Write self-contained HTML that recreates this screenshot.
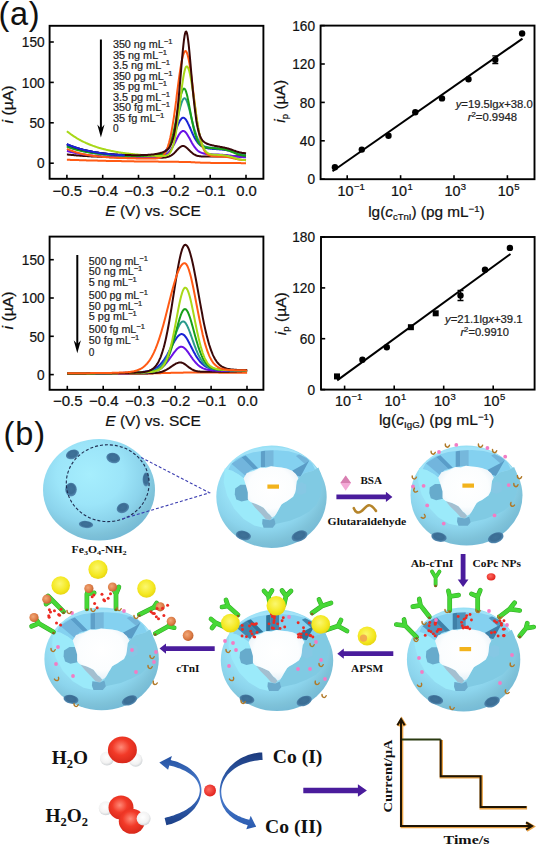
<!DOCTYPE html>
<html><head><meta charset="utf-8"><title>figure</title>
<style>html,body{margin:0;padding:0;background:#fff;} body{width:550px;height:852px;overflow:hidden;font-family:"Liberation Sans",sans-serif;} svg{display:block;}</style>
</head><body>
<svg width="550" height="852" viewBox="0 0 550 852">
<rect width="550" height="852" fill="#fff"/>
<defs>
<radialGradient id="sph" cx="0.42" cy="0.35" r="0.66">
  <stop offset="0" stop-color="#a6eefd"/><stop offset="0.45" stop-color="#9ce5f9"/><stop offset="0.72" stop-color="#8cd4ec"/><stop offset="0.9" stop-color="#7ec2d9"/><stop offset="1" stop-color="#76bbd6"/>
</radialGradient>
<radialGradient id="cav" cx="0.5" cy="0.42" r="0.62">
  <stop offset="0" stop-color="#ffffff"/><stop offset="0.65" stop-color="#fbfdfe"/><stop offset="1" stop-color="#e2eef5"/>
</radialGradient>
<radialGradient id="hole" cx="0.5" cy="0.45" r="0.6">
  <stop offset="0" stop-color="#3f7299"/><stop offset="0.55" stop-color="#3b6d94"/><stop offset="0.85" stop-color="#5288b0"/><stop offset="1" stop-color="#6a9ec2"/>
</radialGradient>
<radialGradient id="yb" cx="0.45" cy="0.4" r="0.6">
  <stop offset="0" stop-color="#fbf770"/><stop offset="0.7" stop-color="#f4e820"/><stop offset="1" stop-color="#e8d612"/>
</radialGradient>
<radialGradient id="bd" cx="0.4" cy="0.4" r="0.6">
  <stop offset="0" stop-color="#f2a878"/><stop offset="0.7" stop-color="#dc7c46"/><stop offset="1" stop-color="#c46432"/>
</radialGradient>
<radialGradient id="ox" cx="0.45" cy="0.4" r="0.6">
  <stop offset="0" stop-color="#ff8a78"/><stop offset="0.5" stop-color="#f23a28"/><stop offset="1" stop-color="#d8281a"/>
</radialGradient>
<radialGradient id="hy" cx="0.45" cy="0.4" r="0.6">
  <stop offset="0" stop-color="#ffffff"/><stop offset="0.7" stop-color="#f2f2f2"/><stop offset="1" stop-color="#cfd3d6"/>
</radialGradient>
<radialGradient id="rd" cx="0.4" cy="0.4" r="0.6">
  <stop offset="0" stop-color="#ff6a60"/><stop offset="1" stop-color="#e2231d"/>
</radialGradient>
</defs>
<ellipse cx="99" cy="489.7" rx="56" ry="50.8" fill="url(#sph)"/>
<ellipse cx="72.5" cy="454.4" rx="6.8" ry="4.6" transform="rotate(-20 72.5 454.4)" fill="url(#hole)"/>
<ellipse cx="113.2" cy="458" rx="7" ry="5.2" transform="rotate(15 113.2 458)" fill="url(#hole)"/>
<ellipse cx="146" cy="479.6" rx="3.4" ry="7" transform="rotate(0 146 479.6)" fill="url(#hole)"/>
<ellipse cx="71" cy="489.6" rx="5.8" ry="6.8" transform="rotate(0 71 489.6)" fill="url(#hole)"/>
<ellipse cx="122.9" cy="508" rx="6.4" ry="5.0" transform="rotate(-25 122.9 508)" fill="url(#hole)"/>
<ellipse cx="86" cy="524.5" rx="7.2" ry="3.6" transform="rotate(5 86 524.5)" fill="url(#hole)"/>
<ellipse cx="107.7" cy="483.2" rx="41.4" ry="38.4" fill="none" stroke="#1f2c50" stroke-width="1.1" stroke-dasharray="3 2"/>
<path d="M141,457.4 L209.5,492.8 L121,519.3" fill="none" stroke="#3a3cb0" stroke-width="1.1" stroke-dasharray="3 2"/>
<text x="71.6" y="552.8" font-size="10" font-weight="bold" font-family="Liberation Serif, serif" fill="#111" textLength="55" lengthAdjust="spacingAndGlyphs">Fe<tspan dy="2" font-size="7">3</tspan><tspan dy="-2">O</tspan><tspan dy="2" font-size="7">4</tspan><tspan dy="-2">-NH</tspan><tspan dy="2" font-size="7">2</tspan></text>
<ellipse cx="271.5" cy="496.8" rx="55.2" ry="51.2" fill="url(#sph)"/>
<clipPath id="clip271496"><ellipse cx="271.5" cy="496.8" rx="54.6" ry="50.6"/></clipPath>
<polygon points="228.0,470.5 230.9,464.4 235.8,459.3 243.6,455.3 253.4,452.3 265.2,450.6 276.9,450.2 288.7,451.2 298.5,453.9 306.3,457.9 312.2,463.4 315.1,469.5 313.1,470.7 304.7,472.9 298.4,478.3 292.1,470.7 281.5,467.4 271.0,466.3 260.5,467.4 250.0,470.7 243.6,478.3 239.4,475.0 232.1,470.7" fill="#a2e3f8" stroke="#a2e3f8" stroke-width="6" stroke-linejoin="round" clip-path="url(#clip271496)"/>
<polygon points="228.0,470.5 230.9,464.4 235.8,459.3 243.6,455.3 253.4,452.3 265.2,450.6 276.9,450.2 288.7,451.2 298.5,453.9 306.3,457.9 312.2,463.4 315.1,469.5 313.1,470.7 304.7,472.9 298.4,478.3 292.1,470.7 281.5,467.4 271.0,466.3 260.5,467.4 250.0,470.7 243.6,478.3 239.4,475.0 232.1,470.7" fill="#84d1f0" />
<polygon points="224.7,468.5 232.1,470.7 239.4,475.0 243.6,478.3 244.7,481.6 245.7,484.8 246.8,488.5 247.8,492.5 247.8,495.7 247.8,499.0 248.9,500.7 251.0,502.3 255.2,507.7 261.5,514.2 265.7,519.0 262.6,519.0 262.2,523.4 263.6,527.7 254.2,525.6 243.6,519.0 234.2,508.8 227.2,495.7 223.8,482.7" fill="#9beafa" />
<polygon points="318.4,467.4 321.1,473.9 322.4,483.7 320.7,495.1 316.5,504.4 309.3,511.6 300.5,516.4 290.0,520.8 275.6,524.0 274.2,518.1 274.8,516.0 276.3,513.8 278.4,509.9 279.9,507.3 281.5,504.4 283.6,502.9 286.8,501.2 290.0,499.0 293.1,496.8 295.2,492.5 295.9,489.2 296.3,484.8 296.7,481.6 298.4,478.3 304.7,472.9 313.1,470.7" fill="#80cae3" />
<clipPath id="bclip271496"><polygon points="228.0,470.5 230.9,464.4 235.8,459.3 243.6,455.3 253.4,452.3 265.2,450.6 276.9,450.2 288.7,451.2 298.5,453.9 306.3,457.9 312.2,463.4 315.1,469.5 313.1,470.7 304.7,472.9 298.4,478.3 292.1,470.7 281.5,467.4 271.0,466.3 260.5,467.4 250.0,470.7 243.6,478.3 239.4,475.0 232.1,470.7"/></clipPath>
<g clip-path="url(#bclip271496)">
<polygon points="231.4,463.7 241.5,457.2 255.2,471.1 247.4,477.6" fill="#72b5dd" />
<polygon points="241.5,457.2 245.7,455.4 258.8,468.9 255.2,471.1" fill="#5a9dc9" />
<polygon points="265.1,450.6 273.5,450.0 273.5,466.8 265.1,467.6" fill="#76b8dc" />
<polygon points="260.9,451.5 265.1,450.6 265.1,467.6 260.9,468.5" fill="#5e9fc8" />
<polygon points="295.9,455.9 301.5,453.3 309.3,460.2 304.7,463.7" fill="#72b4da" />
<polygon points="304.7,463.7 309.3,460.2 300.5,476.8 295.2,475.0 292.1,470.7" fill="#5a9cc6" />
</g>
<polygon points="235.2,488.5 240.5,484.8 245.7,484.8 247.8,487.0 248.9,492.5 248.3,500.1 241.5,501.6 236.3,499.4 234.8,494.2" fill="#67abcc" />
<polygon points="251.0,502.3 257.3,504.4 263.6,507.7 267.9,513.1 272.1,517.5 270.0,520.3 265.7,519.0 261.5,514.2 255.2,507.7" fill="#a4bfd0" />
<polygon points="262.6,519.0 270.0,520.3 274.2,518.1 275.6,524.0 272.7,527.7 263.6,527.7 262.2,523.4" fill="#6aaacc" />
<polygon points="296.3,484.8 301.5,482.2 306.2,484.4 306.2,492.5 300.9,495.1 295.2,492.5 295.9,489.2" fill="#86c8e4" />
<polygon points="243.6,478.3 246.8,472.9 254.2,470.7 260.5,467.4 265.7,468.1 271.0,466.3 276.3,467.0 281.5,467.4 286.8,468.5 292.1,470.7 295.9,473.9 298.4,478.3 296.7,481.6 296.3,484.8 295.9,489.2 295.2,492.5 293.1,496.8 290.0,499.0 286.8,501.2 283.6,502.9 281.5,504.4 279.9,507.3 278.4,509.9 276.3,513.8 274.8,516.0 272.1,517.5 270.0,514.7 267.9,513.1 265.7,510.3 263.6,507.7 260.5,506.0 257.3,504.4 254.2,503.3 251.0,502.3 248.9,500.7 247.8,499.0 247.8,495.7 247.8,492.5 246.8,488.5 245.7,484.8 244.7,481.6" fill="url(#cav)" />
<rect x="267.4" y="484.5" width="11.6" height="4.2" fill="#f2b31c"/>
<ellipse cx="243.4" cy="535.5" rx="7.7" ry="4.7" transform="rotate(12 243.4 535.5)" fill="url(#hole)"/>
<ellipse cx="299.5" cy="536" rx="8.3" ry="5.2" transform="rotate(-22 299.5 536)" fill="url(#hole)"/>
<path d="M336.4,494.5 L385.9,494.5 L385.9,491.79999999999995 L392.4,496.9 L385.9,502.0 L385.9,499.29999999999995 L336.4,499.29999999999995 Z" fill="#4a1c9c"/>
<polygon points="345.7,475.4 351,483.1 345.7,490.8 340.4,483.1" fill="#f3a9d6"/>
<polygon points="345.7,475.4 351,483.1 340.4,483.1" fill="#d77fb0"/>
<text x="360.4" y="484.3" font-size="10.5" font-weight="bold" font-family="Liberation Serif, serif" fill="#111" textLength="21.6" lengthAdjust="spacingAndGlyphs">BSA</text>
<path d="M353.8,508.2 C355.5,512.5 358,513.5 361,511.5 C364,509.5 366,505.5 369,505.2 C372,505 374,508 376,511" fill="none" stroke="#b5842a" stroke-width="2.6" stroke-linecap="round"/>
<text x="327.6" y="524.6" font-size="10" font-weight="bold" font-family="Liberation Serif, serif" fill="#111" textLength="78.6" lengthAdjust="spacingAndGlyphs">Glutaraldehyde</text>
<ellipse cx="466.5" cy="495.6" rx="56.0" ry="50.0" fill="url(#sph)"/>
<clipPath id="clip466495"><ellipse cx="466.5" cy="495.6" rx="55.4" ry="49.4"/></clipPath>
<polygon points="422.3,469.9 425.3,464.0 430.3,459.0 438.2,455.1 448.2,452.1 460.1,450.5 472.0,450.1 483.9,451.1 493.8,453.7 501.8,457.6 507.8,463.0 510.7,468.9 508.7,470.1 500.2,472.2 493.8,477.5 487.4,470.1 476.7,466.9 466.0,465.8 455.3,466.9 444.6,470.1 438.2,477.5 434.0,474.3 426.5,470.1" fill="#a2e3f8" stroke="#a2e3f8" stroke-width="6" stroke-linejoin="round" clip-path="url(#clip466495)"/>
<polygon points="422.3,469.9 425.3,464.0 430.3,459.0 438.2,455.1 448.2,452.1 460.1,450.5 472.0,450.1 483.9,451.1 493.8,453.7 501.8,457.6 507.8,463.0 510.7,468.9 508.7,470.1 500.2,472.2 493.8,477.5 487.4,470.1 476.7,466.9 466.0,465.8 455.3,466.9 444.6,470.1 438.2,477.5 434.0,474.3 426.5,470.1" fill="#84d1f0" />
<polygon points="419.0,468.0 426.5,470.1 434.0,474.3 438.2,477.5 439.3,480.7 440.4,483.9 441.4,487.5 442.5,491.4 442.5,494.5 442.5,497.7 443.6,499.4 445.7,500.9 450.0,506.2 456.4,512.6 460.7,517.3 457.5,517.3 457.0,521.6 458.5,525.8 448.9,523.7 438.2,517.3 428.6,507.3 421.6,494.5 418.2,481.8" fill="#9beafa" />
<polygon points="514.1,466.9 516.8,473.3 518.1,482.8 516.4,493.9 512.1,503.1 504.9,510.1 495.9,514.7 485.2,519.0 470.7,522.2 469.2,516.4 469.8,514.3 471.3,512.2 473.5,508.4 475.0,505.8 476.7,503.1 478.8,501.6 482.0,499.9 485.2,497.7 488.4,495.6 490.6,491.4 491.2,488.2 491.6,483.9 492.1,480.7 493.8,477.5 500.2,472.2 508.7,470.1" fill="#80cae3" />
<clipPath id="bclip466495"><polygon points="422.3,469.9 425.3,464.0 430.3,459.0 438.2,455.1 448.2,452.1 460.1,450.5 472.0,450.1 483.9,451.1 493.8,453.7 501.8,457.6 507.8,463.0 510.7,468.9 508.7,470.1 500.2,472.2 493.8,477.5 487.4,470.1 476.7,466.9 466.0,465.8 455.3,466.9 444.6,470.1 438.2,477.5 434.0,474.3 426.5,470.1"/></clipPath>
<g clip-path="url(#bclip466495)">
<polygon points="425.8,463.3 436.1,456.9 450.0,470.5 442.1,476.9" fill="#72b5dd" />
<polygon points="436.1,456.9 440.4,455.2 453.6,468.4 450.0,470.5" fill="#5a9dc9" />
<polygon points="460.0,450.5 468.6,449.9 468.6,466.3 460.0,467.1" fill="#76b8dc" />
<polygon points="455.7,451.4 460.0,450.5 460.0,467.1 455.7,468.0" fill="#5e9fc8" />
<polygon points="491.2,455.6 497.0,453.1 504.9,459.9 500.2,463.3" fill="#72b4da" />
<polygon points="500.2,463.3 504.9,459.9 495.9,476.0 490.6,474.3 487.4,470.1" fill="#5a9cc6" />
</g>
<polygon points="429.7,487.5 435.0,483.9 440.4,483.9 442.5,486.0 443.6,491.4 442.9,498.8 436.1,500.3 430.8,498.2 429.3,493.1" fill="#67abcc" />
<polygon points="445.7,500.9 452.1,503.1 458.5,506.2 462.8,511.6 467.1,515.8 464.9,518.6 460.7,517.3 456.4,512.6 450.0,506.2" fill="#a4bfd0" />
<polygon points="457.5,517.3 464.9,518.6 469.2,516.4 470.7,522.2 467.7,525.8 458.5,525.8 457.0,521.6" fill="#6aaacc" />
<polygon points="491.6,483.9 497.0,481.4 501.7,483.5 501.7,491.4 496.3,493.9 490.6,491.4 491.2,488.2" fill="#86c8e4" />
<polygon points="438.2,477.5 441.4,472.2 448.9,470.1 455.3,466.9 460.7,467.5 466.0,465.8 471.3,466.5 476.7,466.9 482.0,468.0 487.4,470.1 491.2,473.3 493.8,477.5 492.1,480.7 491.6,483.9 491.2,488.2 490.6,491.4 488.4,495.6 485.2,497.7 482.0,499.9 478.8,501.6 476.7,503.1 475.0,505.8 473.5,508.4 471.3,512.2 469.8,514.3 467.1,515.8 464.9,513.0 462.8,511.6 460.7,508.8 458.5,506.2 455.3,504.5 452.1,503.1 448.9,502.0 445.7,500.9 443.6,499.4 442.5,497.7 442.5,494.5 442.5,491.4 441.4,487.5 440.4,483.9 439.3,480.7" fill="url(#cav)" />
<rect x="462.4" y="483.5" width="11.6" height="4.2" fill="#f2b31c"/>
<ellipse cx="439" cy="537.1" rx="7.8" ry="4.6" transform="rotate(12 439 537.1)" fill="url(#hole)"/>
<ellipse cx="495.7" cy="537.8" rx="8.2" ry="5" transform="rotate(-22 495.7 537.8)" fill="url(#hole)"/>
<circle cx="439" cy="452" r="1.9" fill="#f27cc4"/>
<circle cx="456.3" cy="444.9" r="1.9" fill="#f27cc4"/>
<circle cx="487.4" cy="448" r="1.9" fill="#f27cc4"/>
<circle cx="505.2" cy="456.7" r="1.9" fill="#f27cc4"/>
<circle cx="413" cy="486.5" r="1.9" fill="#f27cc4"/>
<circle cx="423.6" cy="485.8" r="1.9" fill="#f27cc4"/>
<circle cx="427.2" cy="505.4" r="1.9" fill="#f27cc4"/>
<circle cx="443.7" cy="523.6" r="1.9" fill="#f27cc4"/>
<circle cx="508.7" cy="485.1" r="1.9" fill="#f27cc4"/>
<circle cx="494.5" cy="515.4" r="1.9" fill="#f27cc4"/>
<path d="M431.1,451.09999999999997 Q430.90000000000003,454.09999999999997 433.3,454.3 Q434.70000000000005,454.09999999999997 435.3,452.3" transform="rotate(0 433.1 452.7)" fill="none" stroke="#b07826" stroke-width="1.4" stroke-linecap="round" stroke-linejoin="round"/>
<path d="M445.3,444.0 Q445.1,447.0 447.5,447.20000000000005 Q448.90000000000003,447.0 449.5,445.20000000000005" transform="rotate(0 447.3 445.6)" fill="none" stroke="#b07826" stroke-width="1.4" stroke-linecap="round" stroke-linejoin="round"/>
<path d="M478.4,444.0 Q478.2,447.0 480.59999999999997,447.20000000000005 Q482.0,447.0 482.59999999999997,445.20000000000005" transform="rotate(0 480.4 445.6)" fill="none" stroke="#b07826" stroke-width="1.4" stroke-linecap="round" stroke-linejoin="round"/>
<path d="M492.5,449.5 Q492.3,452.5 494.7,452.70000000000005 Q496.1,452.5 496.7,450.70000000000005" transform="rotate(0 494.5 451.1)" fill="none" stroke="#b07826" stroke-width="1.4" stroke-linecap="round" stroke-linejoin="round"/>
<path d="M412.2,475.9 Q412.0,478.9 414.4,479.1 Q415.8,478.9 416.4,477.1" transform="rotate(0 414.2 477.5)" fill="none" stroke="#b07826" stroke-width="1.4" stroke-linecap="round" stroke-linejoin="round"/>
<path d="M413.4,488.9 Q413.2,491.9 415.59999999999997,492.1 Q417.0,491.9 417.59999999999997,490.1" transform="rotate(30 415.4 490.5)" fill="none" stroke="#b07826" stroke-width="1.4" stroke-linecap="round" stroke-linejoin="round"/>
<path d="M517.4,475.5 Q517.1999999999999,478.5 519.6,478.70000000000005 Q521.0,478.5 521.6,476.70000000000005" transform="rotate(0 519.4 477.1)" fill="none" stroke="#b07826" stroke-width="1.4" stroke-linecap="round" stroke-linejoin="round"/>
<path d="M513.8,483.5 Q513.5999999999999,486.5 516.0,486.70000000000005 Q517.4,486.5 518.0,484.70000000000005" transform="rotate(0 515.8 485.1)" fill="none" stroke="#b07826" stroke-width="1.4" stroke-linecap="round" stroke-linejoin="round"/>
<path d="M510.29999999999995,503.09999999999997 Q510.09999999999997,506.09999999999997 512.5,506.3 Q513.9,506.09999999999997 514.5,504.3" transform="rotate(20 512.3 504.7)" fill="none" stroke="#b07826" stroke-width="1.4" stroke-linecap="round" stroke-linejoin="round"/>
<path d="M421.6,514.9 Q421.40000000000003,517.9 423.8,518.1 Q425.20000000000005,517.9 425.8,516.1" transform="rotate(-60 423.6 516.5)" fill="none" stroke="#b07826" stroke-width="1.4" stroke-linecap="round" stroke-linejoin="round"/>
<path d="M460.70000000000005,553.9 L460.70000000000005,579.5 L457.75,579.5 L463.1,587 L468.45000000000005,579.5 L465.5,579.5 L465.5,553.9 Z" fill="#4a1c9c"/>
<text x="410.7" y="566.6" font-size="10.5" font-weight="bold" font-family="Liberation Serif, serif" fill="#111" textLength="42.7" lengthAdjust="spacingAndGlyphs">Ab-cTnI</text>
<text x="472.5" y="566.6" font-size="10.5" font-weight="bold" font-family="Liberation Serif, serif" fill="#111" textLength="48.4" lengthAdjust="spacingAndGlyphs">CoPc NPs</text>
<ellipse cx="491.1" cy="576.8" rx="4.4" ry="3.6" fill="url(#rd)"/>
<path d="M435.6,585 L435.6,577.5 M432,571.5 L435.6,577.5 L439.5,571.5" fill="none" stroke="#2fa823" stroke-width="3.8" stroke-linecap="round" stroke-linejoin="round"/>
<path d="M435.6,585 L435.6,577.5 M432,571.5 L435.6,577.5 L439.5,571.5" fill="none" stroke="#46d836" stroke-width="2.8" stroke-linecap="round" stroke-linejoin="round"/>
<circle cx="435.6" cy="586" r="1.3" fill="#8a5a20"/>
<ellipse cx="463.6" cy="659.5" rx="56.7" ry="52" fill="url(#sph)"/>
<clipPath id="clip463659"><ellipse cx="463.6" cy="659.5" rx="56.1" ry="51.4"/></clipPath>
<polygon points="418.9,632.8 421.9,626.6 426.9,621.5 435.0,617.3 445.0,614.3 457.1,612.6 469.2,612.2 481.2,613.2 491.3,615.9 499.3,620.0 505.4,625.6 508.4,631.7 506.4,633.0 497.7,635.2 491.2,640.7 484.7,633.0 473.9,629.7 463.1,628.5 452.3,629.7 441.5,633.0 435.0,640.7 430.7,637.4 423.1,633.0" fill="#a2e3f8" stroke="#a2e3f8" stroke-width="6" stroke-linejoin="round" clip-path="url(#clip463659)"/>
<polygon points="418.9,632.8 421.9,626.6 426.9,621.5 435.0,617.3 445.0,614.3 457.1,612.6 469.2,612.2 481.2,613.2 491.3,615.9 499.3,620.0 505.4,625.6 508.4,631.7 506.4,633.0 497.7,635.2 491.2,640.7 484.7,633.0 473.9,629.7 463.1,628.5 452.3,629.7 441.5,633.0 435.0,640.7 430.7,637.4 423.1,633.0" fill="#84d1f0" />
<polygon points="415.5,630.8 423.1,633.0 430.7,637.4 435.0,640.7 436.1,644.0 437.1,647.3 438.2,651.1 439.3,655.1 439.3,658.4 439.3,661.7 440.4,663.5 442.5,665.0 446.9,670.6 453.4,677.2 457.7,682.1 454.4,682.1 454.0,686.5 455.5,690.9 445.8,688.7 435.0,682.1 425.2,671.7 418.1,658.4 414.6,645.1" fill="#9beafa" />
<polygon points="511.8,629.7 514.6,636.3 515.9,646.2 514.1,657.7 509.8,667.2 502.5,674.5 493.4,679.4 482.6,683.8 467.9,687.2 466.3,681.2 467.0,679.0 468.5,676.8 470.7,672.8 472.2,670.1 473.9,667.2 476.1,665.7 479.3,663.9 482.6,661.7 485.8,659.5 488.0,655.1 488.6,651.8 489.0,647.3 489.5,644.0 491.2,640.7 497.7,635.2 506.4,633.0" fill="#80cae3" />
<clipPath id="bclip463659"><polygon points="418.9,632.8 421.9,626.6 426.9,621.5 435.0,617.3 445.0,614.3 457.1,612.6 469.2,612.2 481.2,613.2 491.3,615.9 499.3,620.0 505.4,625.6 508.4,631.7 506.4,633.0 497.7,635.2 491.2,640.7 484.7,633.0 473.9,629.7 463.1,628.5 452.3,629.7 441.5,633.0 435.0,640.7 430.7,637.4 423.1,633.0"/></clipPath>
<g clip-path="url(#bclip463659)">
<polygon points="422.4,625.9 432.8,619.3 446.9,633.4 438.9,640.0" fill="#4f94bd" />
<polygon points="432.8,619.3 437.1,617.5 450.6,631.2 446.9,633.4" fill="#3f80a8" />
<polygon points="457.0,612.6 465.7,612.0 465.7,629.0 457.0,629.9" fill="#4f94bd" />
<polygon points="452.7,613.5 457.0,612.6 457.0,629.9 452.7,630.8" fill="#3f80a8" />
<polygon points="488.6,617.9 494.5,615.3 502.5,622.4 497.7,625.9" fill="#4f94bd" />
<polygon points="497.7,625.9 502.5,622.4 493.4,639.2 488.0,637.4 484.7,633.0" fill="#3f80a8" />
</g>
<polygon points="426.3,651.1 431.7,647.3 437.1,647.3 439.3,649.6 440.4,655.1 439.7,662.8 432.8,664.4 427.4,662.2 425.9,656.9" fill="#67abcc" />
<polygon points="442.5,665.0 449.0,667.2 455.5,670.6 459.9,676.1 464.2,680.5 462.0,683.4 457.7,682.1 453.4,677.2 446.9,670.6" fill="#a4bfd0" />
<polygon points="454.4,682.1 462.0,683.4 466.3,681.2 467.9,687.2 464.8,690.9 455.5,690.9 454.0,686.5" fill="#6aaacc" />
<polygon points="489.0,647.3 494.5,644.7 499.2,646.9 499.2,655.1 493.8,657.7 488.0,655.1 488.6,651.8" fill="#86c8e4" />
<polygon points="435.0,640.7 438.2,635.2 445.8,633.0 452.3,629.7 457.7,630.3 463.1,628.5 468.5,629.2 473.9,629.7 479.3,630.8 484.7,633.0 488.6,636.3 491.2,640.7 489.5,644.0 489.0,647.3 488.6,651.8 488.0,655.1 485.8,659.5 482.6,661.7 479.3,663.9 476.1,665.7 473.9,667.2 472.2,670.1 470.7,672.8 468.5,676.8 467.0,679.0 464.2,680.5 462.0,677.6 459.9,676.1 457.7,673.2 455.5,670.6 452.3,668.8 449.0,667.2 445.8,666.1 442.5,665.0 440.4,663.5 439.3,661.7 439.3,658.4 439.3,655.1 438.2,651.1 437.1,647.3 436.1,644.0" fill="url(#cav)" />
<rect x="459.5" y="647.0" width="11.6" height="4.2" fill="#f2b31c"/>
<ellipse cx="435.5" cy="699.8" rx="7.8" ry="4.6" transform="rotate(12 435.5 699.8)" fill="url(#hole)"/>
<ellipse cx="492" cy="702" rx="8.2" ry="5" transform="rotate(-22 492 702)" fill="url(#hole)"/>
<circle cx="428.80743403347026" cy="630.7076676047352" r="1.45" fill="#ec2a22"/>
<circle cx="430.91928266476924" cy="631.6627206175391" r="1.45" fill="#ec2a22"/>
<circle cx="435.01152486572886" cy="623.048461747837" r="1.45" fill="#ec2a22"/>
<circle cx="425.21068786487797" cy="635.3995053135434" r="1.45" fill="#ec2a22"/>
<circle cx="429.1496642292481" cy="625.7492953767471" r="1.45" fill="#ec2a22"/>
<circle cx="440.9303173681674" cy="629.5242161203591" r="1.45" fill="#ec2a22"/>
<circle cx="438.3833832203902" cy="629.6216513391894" r="1.45" fill="#ec2a22"/>
<circle cx="435.2250902487066" cy="624.4098627843764" r="1.45" fill="#ec2a22"/>
<circle cx="435.157770532563" cy="635.8887249142928" r="1.45" fill="#ec2a22"/>
<circle cx="433.37089936613285" cy="633.8600296992238" r="1.45" fill="#ec2a22"/>
<circle cx="435.74258360591347" cy="623.024503011632" r="1.45" fill="#ec2a22"/>
<circle cx="437.1316839405891" cy="631.4575933269011" r="1.45" fill="#ec2a22"/>
<circle cx="429.8202825522514" cy="622.496188023516" r="1.45" fill="#ec2a22"/>
<circle cx="438.8484357916631" cy="629.5639854186475" r="1.45" fill="#ec2a22"/>
<circle cx="467.50118278505283" cy="627.0610048040877" r="1.45" fill="#ec2a22"/>
<circle cx="467.42607173777924" cy="627.737578681342" r="1.45" fill="#ec2a22"/>
<circle cx="462.3194144640119" cy="625.8145403357637" r="1.45" fill="#ec2a22"/>
<circle cx="463.11393689681216" cy="627.9693875472724" r="1.45" fill="#ec2a22"/>
<circle cx="470.06186656540865" cy="614.559268955694" r="1.45" fill="#ec2a22"/>
<circle cx="458.1755017632107" cy="616.4717910597302" r="1.45" fill="#ec2a22"/>
<circle cx="471.44768222237127" cy="619.9785898660389" r="1.45" fill="#ec2a22"/>
<circle cx="466.02637265386886" cy="617.8164191748081" r="1.45" fill="#ec2a22"/>
<circle cx="464.11588774126494" cy="619.1738601415184" r="1.45" fill="#ec2a22"/>
<circle cx="461.61456782032286" cy="622.3611857184858" r="1.45" fill="#ec2a22"/>
<circle cx="465.3480286875232" cy="627.4672283335644" r="1.45" fill="#ec2a22"/>
<circle cx="466.9117141861595" cy="627.8631296192003" r="1.45" fill="#ec2a22"/>
<circle cx="469.70240906234807" cy="628.8558343179011" r="1.45" fill="#ec2a22"/>
<circle cx="466.74037667460027" cy="615.6095939515371" r="1.45" fill="#ec2a22"/>
<circle cx="503.7702005298603" cy="635.434127156945" r="1.45" fill="#ec2a22"/>
<circle cx="504.4751357521958" cy="629.1057200555891" r="1.45" fill="#ec2a22"/>
<circle cx="501.4210723227872" cy="623.3779997388095" r="1.45" fill="#ec2a22"/>
<circle cx="503.30572688437366" cy="629.1765176376206" r="1.45" fill="#ec2a22"/>
<circle cx="494.5593193917793" cy="621.0153692343237" r="1.45" fill="#ec2a22"/>
<circle cx="503.6630798147629" cy="635.8368962387453" r="1.45" fill="#ec2a22"/>
<circle cx="491.4162894897556" cy="632.8095251401201" r="1.45" fill="#ec2a22"/>
<circle cx="496.56738923753454" cy="622.412245991245" r="1.45" fill="#ec2a22"/>
<circle cx="494.702259949105" cy="632.3006701964375" r="1.45" fill="#ec2a22"/>
<circle cx="503.96427239405125" cy="620.7070409780727" r="1.45" fill="#ec2a22"/>
<circle cx="499.8325204565089" cy="620.7190438959366" r="1.45" fill="#ec2a22"/>
<circle cx="501.4950476391763" cy="625.2952663363042" r="1.45" fill="#ec2a22"/>
<circle cx="504.0944849159577" cy="635.6901721094935" r="1.45" fill="#ec2a22"/>
<circle cx="498.0867259783687" cy="635.9761431260124" r="1.45" fill="#ec2a22"/>
<path d="M416.6,637.2 L405.2,625.7 M396.3,624.5 L405.2,625.7 L404,619.5" fill="none" stroke="#2fa823" stroke-width="4.7" stroke-linecap="round" stroke-linejoin="round"/>
<path d="M416.6,637.2 L405.2,625.7 M396.3,624.5 L405.2,625.7 L404,619.5" fill="none" stroke="#46d836" stroke-width="3.7" stroke-linecap="round" stroke-linejoin="round"/>
<circle cx="416.6" cy="638.2" r="1.3" fill="#8a5a20"/>
<path d="M429.4,616.8 L420.5,605.4 M412.8,606.6 L420.5,605.4 L419.2,599" fill="none" stroke="#2fa823" stroke-width="4.7" stroke-linecap="round" stroke-linejoin="round"/>
<path d="M429.4,616.8 L420.5,605.4 M412.8,606.6 L420.5,605.4 L419.2,599" fill="none" stroke="#46d836" stroke-width="3.7" stroke-linecap="round" stroke-linejoin="round"/>
<circle cx="429.4" cy="617.8" r="1.3" fill="#8a5a20"/>
<path d="M449.7,610.5 L449.7,596.5 M448.4,590.8 L449.7,596.5 L458.6,595.2" fill="none" stroke="#2fa823" stroke-width="4.7" stroke-linecap="round" stroke-linejoin="round"/>
<path d="M449.7,610.5 L449.7,596.5 M448.4,590.8 L449.7,596.5 L458.6,595.2" fill="none" stroke="#46d836" stroke-width="3.7" stroke-linecap="round" stroke-linejoin="round"/>
<circle cx="449.7" cy="611.5" r="1.3" fill="#8a5a20"/>
<path d="M477.7,610.5 L477.7,596.5 M471.4,593.9 L477.7,596.5 L480.3,590.1" fill="none" stroke="#2fa823" stroke-width="4.7" stroke-linecap="round" stroke-linejoin="round"/>
<path d="M477.7,610.5 L477.7,596.5 M471.4,593.9 L477.7,596.5 L480.3,590.1" fill="none" stroke="#46d836" stroke-width="3.7" stroke-linecap="round" stroke-linejoin="round"/>
<circle cx="477.7" cy="611.5" r="1.3" fill="#8a5a20"/>
<path d="M499.4,616.8 L509.5,609.2 M514.6,602.8 L509.5,609.2 L519.7,610.5" fill="none" stroke="#2fa823" stroke-width="4.7" stroke-linecap="round" stroke-linejoin="round"/>
<path d="M499.4,616.8 L509.5,609.2 M514.6,602.8 L509.5,609.2 L519.7,610.5" fill="none" stroke="#46d836" stroke-width="3.7" stroke-linecap="round" stroke-linejoin="round"/>
<circle cx="499.4" cy="617.8" r="1.3" fill="#8a5a20"/>
<path d="M519.7,635.9 L526,628.3 M527.3,623.2 L526,628.3 L533.7,627" fill="none" stroke="#2fa823" stroke-width="4.7" stroke-linecap="round" stroke-linejoin="round"/>
<path d="M519.7,635.9 L526,628.3 M527.3,623.2 L526,628.3 L533.7,627" fill="none" stroke="#46d836" stroke-width="3.7" stroke-linecap="round" stroke-linejoin="round"/>
<circle cx="519.7" cy="636.9" r="1.3" fill="#8a5a20"/>
<circle cx="436" cy="620" r="1.9" fill="#f27cc4"/>
<circle cx="489" cy="611" r="1.9" fill="#f27cc4"/>
<circle cx="507" cy="625" r="1.9" fill="#f27cc4"/>
<circle cx="419" cy="658" r="1.9" fill="#f27cc4"/>
<circle cx="422" cy="672" r="1.9" fill="#f27cc4"/>
<circle cx="512" cy="655" r="1.9" fill="#f27cc4"/>
<circle cx="500" cy="683" r="1.9" fill="#f27cc4"/>
<path d="M422.0,621.4 Q421.8,624.4 424.2,624.6 Q425.6,624.4 426.2,622.6" transform="rotate(0 424 623)" fill="none" stroke="#b07826" stroke-width="1.4" stroke-linecap="round" stroke-linejoin="round"/>
<path d="M445.0,609.4 Q444.8,612.4 447.2,612.6 Q448.6,612.4 449.2,610.6" transform="rotate(0 447 611)" fill="none" stroke="#b07826" stroke-width="1.4" stroke-linecap="round" stroke-linejoin="round"/>
<path d="M476.0,609.4 Q475.8,612.4 478.2,612.6 Q479.6,612.4 480.2,610.6" transform="rotate(0 478 611)" fill="none" stroke="#b07826" stroke-width="1.4" stroke-linecap="round" stroke-linejoin="round"/>
<path d="M498.0,615.4 Q497.8,618.4 500.2,618.6 Q501.6,618.4 502.2,616.6" transform="rotate(0 500 617)" fill="none" stroke="#b07826" stroke-width="1.4" stroke-linecap="round" stroke-linejoin="round"/>
<path d="M414.0,638.4 Q413.8,641.4 416.2,641.6 Q417.6,641.4 418.2,639.6" transform="rotate(0 416 640)" fill="none" stroke="#b07826" stroke-width="1.4" stroke-linecap="round" stroke-linejoin="round"/>
<path d="M418.0,683.4 Q417.8,686.4 420.2,686.6 Q421.6,686.4 422.2,684.6" transform="rotate(-40 420 685)" fill="none" stroke="#b07826" stroke-width="1.4" stroke-linecap="round" stroke-linejoin="round"/>
<path d="M510.0,663.4 Q509.8,666.4 512.2,666.6 Q513.6,666.4 514.2,664.6" transform="rotate(10 512 665)" fill="none" stroke="#b07826" stroke-width="1.4" stroke-linecap="round" stroke-linejoin="round"/>
<path d="M505.0,690.4 Q504.8,693.4 507.2,693.6 Q508.6,693.4 509.2,691.6" transform="rotate(20 507 692)" fill="none" stroke="#b07826" stroke-width="1.4" stroke-linecap="round" stroke-linejoin="round"/>
<path d="M450.0,706.4 Q449.8,709.4 452.2,709.6 Q453.6,709.4 454.2,707.6" transform="rotate(0 452 708)" fill="none" stroke="#b07826" stroke-width="1.4" stroke-linecap="round" stroke-linejoin="round"/>
<ellipse cx="277.0" cy="660.3" rx="56.2" ry="50.7" fill="url(#sph)"/>
<clipPath id="clip277660"><ellipse cx="277.0" cy="660.3" rx="55.6" ry="50.1"/></clipPath>
<polygon points="232.7,634.2 235.7,628.2 240.6,623.2 248.6,619.2 258.6,616.2 270.6,614.6 282.5,614.2 294.5,615.2 304.4,617.8 312.4,621.8 318.4,627.2 321.4,633.2 319.4,634.4 310.8,636.6 304.4,642.0 297.9,634.4 287.2,631.2 276.5,630.1 265.8,631.2 255.1,634.4 248.6,642.0 244.3,638.7 236.8,634.4" fill="#a2e3f8" stroke="#a2e3f8" stroke-width="6" stroke-linejoin="round" clip-path="url(#clip277660)"/>
<polygon points="232.7,634.2 235.7,628.2 240.6,623.2 248.6,619.2 258.6,616.2 270.6,614.6 282.5,614.2 294.5,615.2 304.4,617.8 312.4,621.8 318.4,627.2 321.4,633.2 319.4,634.4 310.8,636.6 304.4,642.0 297.9,634.4 287.2,631.2 276.5,630.1 265.8,631.2 255.1,634.4 248.6,642.0 244.3,638.7 236.8,634.4" fill="#84d1f0" />
<polygon points="229.3,632.3 236.8,634.4 244.3,638.7 248.6,642.0 249.7,645.2 250.8,648.4 251.8,652.1 252.9,656.0 252.9,659.2 252.9,662.5 254.0,664.2 256.1,665.7 260.4,671.1 266.9,677.6 271.1,682.3 267.9,682.3 267.5,686.6 269.0,690.9 259.4,688.8 248.6,682.3 239.0,672.2 231.9,659.2 228.5,646.3" fill="#9beafa" />
<polygon points="324.7,631.2 327.5,637.7 328.8,647.4 327.1,658.6 322.8,667.9 315.5,675.0 306.5,679.7 295.8,684.0 281.2,687.3 279.7,681.4 280.4,679.3 281.9,677.1 284.0,673.2 285.5,670.7 287.2,667.9 289.4,666.3 292.6,664.6 295.8,662.5 299.0,660.3 301.2,656.0 301.8,652.8 302.2,648.4 302.7,645.2 304.4,642.0 310.8,636.6 319.4,634.4" fill="#80cae3" />
<clipPath id="bclip277660"><polygon points="232.7,634.2 235.7,628.2 240.6,623.2 248.6,619.2 258.6,616.2 270.6,614.6 282.5,614.2 294.5,615.2 304.4,617.8 312.4,621.8 318.4,627.2 321.4,633.2 319.4,634.4 310.8,636.6 304.4,642.0 297.9,634.4 287.2,631.2 276.5,630.1 265.8,631.2 255.1,634.4 248.6,642.0 244.3,638.7 236.8,634.4"/></clipPath>
<g clip-path="url(#bclip277660)">
<polygon points="236.2,627.5 246.5,621.1 260.4,634.9 252.5,641.3" fill="#3f86ad" />
<polygon points="246.5,621.1 250.8,619.3 264.1,632.7 260.4,634.9" fill="#2f7298" />
<polygon points="270.5,614.6 279.1,613.9 279.1,630.6 270.5,631.4" fill="#3f86ad" />
<polygon points="266.2,615.5 270.5,614.6 270.5,631.4 266.2,632.3" fill="#2f7298" />
<polygon points="301.8,619.8 307.6,617.2 315.5,624.1 310.8,627.5" fill="#3f86ad" />
<polygon points="310.8,627.5 315.5,624.1 306.5,640.5 301.2,638.7 297.9,634.4" fill="#2f7298" />
</g>
<polygon points="240.1,652.1 245.4,648.4 250.8,648.4 252.9,650.6 254.0,656.0 253.3,663.5 246.5,665.1 241.1,662.9 239.6,657.7" fill="#67abcc" />
<polygon points="256.1,665.7 262.6,667.9 269.0,671.1 273.3,676.5 277.6,680.8 275.4,683.6 271.1,682.3 266.9,677.6 260.4,671.1" fill="#a4bfd0" />
<polygon points="267.9,682.3 275.4,683.6 279.7,681.4 281.2,687.3 278.2,690.9 269.0,690.9 267.5,686.6" fill="#6aaacc" />
<polygon points="302.2,648.4 307.6,645.9 312.3,648.0 312.3,656.0 306.9,658.6 301.2,656.0 301.8,652.8" fill="#86c8e4" />
<polygon points="248.6,642.0 251.8,636.6 259.4,634.4 265.8,631.2 271.1,631.8 276.5,630.1 281.9,630.8 287.2,631.2 292.6,632.3 297.9,634.4 301.8,637.7 304.4,642.0 302.7,645.2 302.2,648.4 301.8,652.8 301.2,656.0 299.0,660.3 295.8,662.5 292.6,664.6 289.4,666.3 287.2,667.9 285.5,670.7 284.0,673.2 281.9,677.1 280.4,679.3 277.6,680.8 275.4,678.0 273.3,676.5 271.1,673.7 269.0,671.1 265.8,669.4 262.6,667.9 259.4,666.8 256.1,665.7 254.0,664.2 252.9,662.5 252.9,659.2 252.9,656.0 251.8,652.1 250.8,648.4 249.7,645.2" fill="url(#cav)" />
<ellipse cx="247" cy="699.3" rx="7.5" ry="4.6" transform="rotate(12 247 699.3)" fill="url(#hole)"/>
<ellipse cx="304.2" cy="701" rx="8" ry="4.8" transform="rotate(-22 304.2 701)" fill="url(#hole)"/>
<circle cx="251.96642711823523" cy="633.8685918281717" r="1.45" fill="#ec2a22"/>
<circle cx="254.72309704905115" cy="637.0792045404328" r="1.45" fill="#ec2a22"/>
<circle cx="253.8383771958389" cy="636.7571999466467" r="1.45" fill="#ec2a22"/>
<circle cx="242.46408365253782" cy="629.4499624700497" r="1.45" fill="#ec2a22"/>
<circle cx="257.093707471973" cy="632.3835928501908" r="1.45" fill="#ec2a22"/>
<circle cx="256.41440786800996" cy="623.8112954344504" r="1.45" fill="#ec2a22"/>
<circle cx="249.5051047645146" cy="625.9451653219173" r="1.45" fill="#ec2a22"/>
<circle cx="250.7001737477749" cy="631.1830590068496" r="1.45" fill="#ec2a22"/>
<circle cx="242.20982703342244" cy="625.4676768074215" r="1.45" fill="#ec2a22"/>
<circle cx="246.47171785617778" cy="636.6615259489369" r="1.45" fill="#ec2a22"/>
<circle cx="254.25160722606626" cy="624.5536673977286" r="1.45" fill="#ec2a22"/>
<circle cx="254.75435186289928" cy="624.2202786943825" r="1.45" fill="#ec2a22"/>
<circle cx="251.87924032745786" cy="624.0271877208044" r="1.45" fill="#ec2a22"/>
<circle cx="242.02839779524055" cy="635.9424759155885" r="1.45" fill="#ec2a22"/>
<circle cx="272.3513021199219" cy="616.4476987075957" r="1.45" fill="#ec2a22"/>
<circle cx="284.7187377412148" cy="626.9585242469889" r="1.45" fill="#ec2a22"/>
<circle cx="273.62888268395085" cy="628.3836478232014" r="1.45" fill="#ec2a22"/>
<circle cx="277.627575501933" cy="623.8452876360095" r="1.45" fill="#ec2a22"/>
<circle cx="272.2764722325407" cy="628.0556160174079" r="1.45" fill="#ec2a22"/>
<circle cx="280.0502710577105" cy="628.4650289970751" r="1.45" fill="#ec2a22"/>
<circle cx="283.29986684122366" cy="617.7806223656619" r="1.45" fill="#ec2a22"/>
<circle cx="274.7790389555581" cy="615.655296914076" r="1.45" fill="#ec2a22"/>
<circle cx="271.33123055265094" cy="614.0422354140109" r="1.45" fill="#ec2a22"/>
<circle cx="273.8217456123114" cy="622.6497599585225" r="1.45" fill="#ec2a22"/>
<circle cx="269.0541299099897" cy="623.846947992763" r="1.45" fill="#ec2a22"/>
<circle cx="274.40634978604584" cy="617.9593269056501" r="1.45" fill="#ec2a22"/>
<circle cx="282.0962891943531" cy="620.6919229860806" r="1.45" fill="#ec2a22"/>
<circle cx="274.05268969354313" cy="620.6994941797898" r="1.45" fill="#ec2a22"/>
<circle cx="309.2747061462546" cy="622.9120148725726" r="1.45" fill="#ec2a22"/>
<circle cx="313.60159301030774" cy="622.3658490120436" r="1.45" fill="#ec2a22"/>
<circle cx="309.9967203566604" cy="635.5180942302101" r="1.45" fill="#ec2a22"/>
<circle cx="298.2890805660565" cy="634.6038128636869" r="1.45" fill="#ec2a22"/>
<circle cx="303.85895161346974" cy="631.25630126491" r="1.45" fill="#ec2a22"/>
<circle cx="298.14525418911245" cy="622.747633899183" r="1.45" fill="#ec2a22"/>
<circle cx="300.89471180721677" cy="637.2828783934586" r="1.45" fill="#ec2a22"/>
<circle cx="301.1443467282081" cy="634.0917825992211" r="1.45" fill="#ec2a22"/>
<circle cx="312.87448511356035" cy="637.0727012708431" r="1.45" fill="#ec2a22"/>
<circle cx="303.5101090088482" cy="627.6766912809265" r="1.45" fill="#ec2a22"/>
<circle cx="306.39522913108993" cy="634.4096482351839" r="1.45" fill="#ec2a22"/>
<circle cx="299.7288459050373" cy="633.9743689037546" r="1.45" fill="#ec2a22"/>
<circle cx="310.7556268414613" cy="635.7551091070013" r="1.45" fill="#ec2a22"/>
<circle cx="298.58610527908525" cy="637.1328029606749" r="1.45" fill="#ec2a22"/>
<path d="M238,615 L228,606 M222,607 L228,606 L226,600" fill="none" stroke="#2fa823" stroke-width="4.7" stroke-linecap="round" stroke-linejoin="round"/>
<path d="M238,615 L228,606 M222,607 L228,606 L226,600" fill="none" stroke="#46d836" stroke-width="3.7" stroke-linecap="round" stroke-linejoin="round"/>
<circle cx="238" cy="616" r="1.3" fill="#8a5a20"/>
<path d="M225,627 L216,623 M211,619 L216,623 L212,628" fill="none" stroke="#2fa823" stroke-width="4.7" stroke-linecap="round" stroke-linejoin="round"/>
<path d="M225,627 L216,623 M211,619 L216,623 L212,628" fill="none" stroke="#46d836" stroke-width="3.7" stroke-linecap="round" stroke-linejoin="round"/>
<circle cx="225" cy="628" r="1.3" fill="#8a5a20"/>
<path d="M270,605 L268.5,596 M264,591 L268.5,596 L272,590.5" fill="none" stroke="#2fa823" stroke-width="4.7" stroke-linecap="round" stroke-linejoin="round"/>
<path d="M270,605 L268.5,596 M264,591 L268.5,596 L272,590.5" fill="none" stroke="#46d836" stroke-width="3.7" stroke-linecap="round" stroke-linejoin="round"/>
<circle cx="270" cy="606" r="1.3" fill="#8a5a20"/>
<path d="M284,605 L286,596 M282,590.5 L286,596 L291,591" fill="none" stroke="#2fa823" stroke-width="4.7" stroke-linecap="round" stroke-linejoin="round"/>
<path d="M284,605 L286,596 M282,590.5 L286,596 L291,591" fill="none" stroke="#46d836" stroke-width="3.7" stroke-linecap="round" stroke-linejoin="round"/>
<circle cx="284" cy="606" r="1.3" fill="#8a5a20"/>
<path d="M312,613 L322,606 M319,599.5 L322,606 L331,603" fill="none" stroke="#2fa823" stroke-width="4.7" stroke-linecap="round" stroke-linejoin="round"/>
<path d="M312,613 L322,606 M319,599.5 L322,606 L331,603" fill="none" stroke="#46d836" stroke-width="3.7" stroke-linecap="round" stroke-linejoin="round"/>
<circle cx="312" cy="614" r="1.3" fill="#8a5a20"/>
<path d="M326,630 L338,626 M341,620 L338,626 L347,631" fill="none" stroke="#2fa823" stroke-width="4.7" stroke-linecap="round" stroke-linejoin="round"/>
<path d="M326,630 L338,626 M341,620 L338,626 L347,631" fill="none" stroke="#46d836" stroke-width="3.7" stroke-linecap="round" stroke-linejoin="round"/>
<circle cx="326" cy="631" r="1.3" fill="#8a5a20"/>
<circle cx="230.4" cy="623.1" r="9.4" fill="url(#yb)"/>
<circle cx="276.2" cy="605.8" r="9.7" fill="url(#yb)"/>
<circle cx="320.7" cy="624.4" r="9.4" fill="url(#yb)"/>
<circle cx="225" cy="641" r="1.9" fill="#f27cc4"/>
<circle cx="233" cy="643" r="1.9" fill="#f27cc4"/>
<circle cx="236" cy="650" r="1.9" fill="#f27cc4"/>
<circle cx="229" cy="666" r="1.9" fill="#f27cc4"/>
<circle cx="289" cy="617" r="1.9" fill="#f27cc4"/>
<circle cx="316" cy="642" r="1.9" fill="#f27cc4"/>
<circle cx="321" cy="660" r="1.9" fill="#f27cc4"/>
<circle cx="310" cy="669" r="1.9" fill="#f27cc4"/>
<circle cx="298" cy="669" r="1.9" fill="#f27cc4"/>
<circle cx="325" cy="679" r="1.9" fill="#f27cc4"/>
<path d="M226.0,649.4 Q225.8,652.4 228.2,652.6 Q229.6,652.4 230.2,650.6" transform="rotate(0 228 651)" fill="none" stroke="#b07826" stroke-width="1.4" stroke-linecap="round" stroke-linejoin="round"/>
<path d="M230.0,677.4 Q229.8,680.4 232.2,680.6 Q233.6,680.4 234.2,678.6" transform="rotate(-40 232 679)" fill="none" stroke="#b07826" stroke-width="1.4" stroke-linecap="round" stroke-linejoin="round"/>
<path d="M310.0,643.4 Q309.8,646.4 312.2,646.6 Q313.6,646.4 314.2,644.6" transform="rotate(0 312 645)" fill="none" stroke="#b07826" stroke-width="1.4" stroke-linecap="round" stroke-linejoin="round"/>
<path d="M319.0,663.4 Q318.8,666.4 321.2,666.6 Q322.6,666.4 323.2,664.6" transform="rotate(0 321 665)" fill="none" stroke="#b07826" stroke-width="1.4" stroke-linecap="round" stroke-linejoin="round"/>
<path d="M315.0,681.4 Q314.8,684.4 317.2,684.6 Q318.6,684.4 319.2,682.6" transform="rotate(10 317 683)" fill="none" stroke="#b07826" stroke-width="1.4" stroke-linecap="round" stroke-linejoin="round"/>
<path d="M322.0,694.4 Q321.8,697.4 324.2,697.6 Q325.6,697.4 326.2,695.6" transform="rotate(0 324 696)" fill="none" stroke="#b07826" stroke-width="1.4" stroke-linecap="round" stroke-linejoin="round"/>
<path d="M241.0,700.4 Q240.8,703.4 243.2,703.6 Q244.6,703.4 245.2,701.6" transform="rotate(0 243 702)" fill="none" stroke="#b07826" stroke-width="1.4" stroke-linecap="round" stroke-linejoin="round"/>
<ellipse cx="101.6" cy="658.9" rx="57.2" ry="51.3" fill="url(#sph)"/>
<clipPath id="clip101658"><ellipse cx="101.6" cy="658.9" rx="56.6" ry="50.699999999999996"/></clipPath>
<polygon points="56.5,632.5 59.5,626.4 64.6,621.4 72.7,617.3 82.9,614.3 95.0,612.6 107.2,612.2 119.4,613.3 129.5,615.9 137.7,619.9 143.7,625.4 146.8,631.5 144.7,632.7 136.0,634.9 129.5,640.4 122.9,632.7 112.0,629.5 101.1,628.4 90.2,629.5 79.3,632.7 72.7,640.4 68.4,637.1 60.7,632.7" fill="#a2e3f8" stroke="#a2e3f8" stroke-width="6" stroke-linejoin="round" clip-path="url(#clip101658)"/>
<polygon points="56.5,632.5 59.5,626.4 64.6,621.4 72.7,617.3 82.9,614.3 95.0,612.6 107.2,612.2 119.4,613.3 129.5,615.9 137.7,619.9 143.7,625.4 146.8,631.5 144.7,632.7 136.0,634.9 129.5,640.4 122.9,632.7 112.0,629.5 101.1,628.4 90.2,629.5 79.3,632.7 72.7,640.4 68.4,637.1 60.7,632.7" fill="#84d1f0" />
<polygon points="53.1,630.5 60.7,632.7 68.4,637.1 72.7,640.4 73.8,643.6 74.9,646.9 76.0,650.6 77.1,654.5 77.1,657.8 77.1,661.1 78.2,662.8 80.4,664.4 84.7,669.8 91.3,676.4 95.6,681.2 92.4,681.2 91.9,685.5 93.5,689.9 83.6,687.7 72.7,681.2 62.9,670.9 55.7,657.8 52.2,644.7" fill="#9beafa" />
<polygon points="150.2,629.5 153.0,636.0 154.3,645.8 152.6,657.2 148.2,666.5 140.8,673.7 131.6,678.5 120.7,682.9 105.9,686.2 104.4,680.3 105.0,678.1 106.5,675.9 108.7,672.0 110.3,669.4 112.0,666.5 114.2,665.0 117.5,663.3 120.7,661.1 124.0,658.9 126.2,654.5 126.8,651.3 127.3,646.9 127.7,643.6 129.5,640.4 136.0,634.9 144.7,632.7" fill="#80cae3" />
<clipPath id="bclip101658"><polygon points="56.5,632.5 59.5,626.4 64.6,621.4 72.7,617.3 82.9,614.3 95.0,612.6 107.2,612.2 119.4,613.3 129.5,615.9 137.7,619.9 143.7,625.4 146.8,631.5 144.7,632.7 136.0,634.9 129.5,640.4 122.9,632.7 112.0,629.5 101.1,628.4 90.2,629.5 79.3,632.7 72.7,640.4 68.4,637.1 60.7,632.7"/></clipPath>
<g clip-path="url(#bclip101658)">
<polygon points="60.1,625.7 70.5,619.2 84.7,633.2 76.7,639.7" fill="#72b5dd" />
<polygon points="70.5,619.2 74.9,617.5 88.4,631.0 84.7,633.2" fill="#5a9dc9" />
<polygon points="95.0,612.7 103.7,612.0 103.7,628.8 95.0,629.7" fill="#76b8dc" />
<polygon points="90.6,613.5 95.0,612.7 95.0,629.7 90.6,630.5" fill="#5e9fc8" />
<polygon points="126.8,617.9 132.7,615.3 140.8,622.3 136.0,625.7" fill="#72b4da" />
<polygon points="136.0,625.7 140.8,622.3 131.6,638.8 126.2,637.1 122.9,632.7" fill="#5a9cc6" />
</g>
<polygon points="64.0,650.6 69.5,646.9 74.9,646.9 77.1,649.1 78.2,654.5 77.5,662.2 70.5,663.7 65.1,661.5 63.6,656.3" fill="#67abcc" />
<polygon points="80.4,664.4 86.9,666.5 93.5,669.8 97.8,675.3 102.2,679.6 100.0,682.5 95.6,681.2 91.3,676.4 84.7,669.8" fill="#a4bfd0" />
<polygon points="92.4,681.2 100.0,682.5 104.4,680.3 105.9,686.2 102.8,689.9 93.5,689.9 91.9,685.5" fill="#6aaacc" />
<polygon points="127.3,646.9 132.7,644.3 137.5,646.5 137.5,654.5 132.1,657.2 126.2,654.5 126.8,651.3" fill="#86c8e4" />
<polygon points="72.7,640.4 76.0,634.9 83.6,632.7 90.2,629.5 95.6,630.1 101.1,628.4 106.5,629.0 112.0,629.5 117.5,630.5 122.9,632.7 126.8,636.0 129.5,640.4 127.7,643.6 127.3,646.9 126.8,651.3 126.2,654.5 124.0,658.9 120.7,661.1 117.5,663.3 114.2,665.0 112.0,666.5 110.3,669.4 108.7,672.0 106.5,675.9 105.0,678.1 102.2,679.6 100.0,676.8 97.8,675.3 95.6,672.4 93.5,669.8 90.2,668.1 86.9,666.5 83.6,665.5 80.4,664.4 78.2,662.8 77.1,661.1 77.1,657.8 77.1,654.5 76.0,650.6 74.9,646.9 73.8,643.6" fill="url(#cav)" />
<ellipse cx="71" cy="699.3" rx="7.6" ry="4.4" transform="rotate(12 71 699.3)" fill="url(#hole)"/>
<ellipse cx="129.5" cy="700.4" rx="8" ry="4.6" transform="rotate(-22 129.5 700.4)" fill="url(#hole)"/>
<path d="M53.5,632 L38.9,623.4 M31.6,626.3 L38.9,623.4 L35.5,618.5" fill="none" stroke="#2fa823" stroke-width="4.7" stroke-linecap="round" stroke-linejoin="round"/>
<path d="M53.5,632 L38.9,623.4 M31.6,626.3 L38.9,623.4 L35.5,618.5" fill="none" stroke="#46d836" stroke-width="3.7" stroke-linecap="round" stroke-linejoin="round"/>
<circle cx="53.5" cy="633" r="1.3" fill="#8a5a20"/>
<path d="M63.6,611.7 L52,600 M46,604 L52,600 L48,596" fill="none" stroke="#2fa823" stroke-width="4.7" stroke-linecap="round" stroke-linejoin="round"/>
<path d="M63.6,611.7 L52,600 M46,604 L52,600 L48,596" fill="none" stroke="#46d836" stroke-width="3.7" stroke-linecap="round" stroke-linejoin="round"/>
<circle cx="63.6" cy="612.7" r="1.3" fill="#8a5a20"/>
<path d="M86.9,608.8 L86.9,594 M94.2,592.8 L86.9,594 L88.9,588.5" fill="none" stroke="#2fa823" stroke-width="4.7" stroke-linecap="round" stroke-linejoin="round"/>
<path d="M86.9,608.8 L86.9,594 M94.2,592.8 L86.9,594 L88.9,588.5" fill="none" stroke="#46d836" stroke-width="3.7" stroke-linecap="round" stroke-linejoin="round"/>
<circle cx="86.9" cy="609.8" r="1.3" fill="#8a5a20"/>
<path d="M116,608.8 L116,594 M118.9,587 L116,594 L112.5,587" fill="none" stroke="#2fa823" stroke-width="4.7" stroke-linecap="round" stroke-linejoin="round"/>
<path d="M116,608.8 L116,594 M118.9,587 L116,594 L112.5,587" fill="none" stroke="#46d836" stroke-width="3.7" stroke-linecap="round" stroke-linejoin="round"/>
<circle cx="116" cy="609.8" r="1.3" fill="#8a5a20"/>
<path d="M139.3,614.6 L153.8,607.4 M156.7,603 L153.8,607.4 L160.2,606.8" fill="none" stroke="#2fa823" stroke-width="4.7" stroke-linecap="round" stroke-linejoin="round"/>
<path d="M139.3,614.6 L153.8,607.4 M156.7,603 L153.8,607.4 L160.2,606.8" fill="none" stroke="#46d836" stroke-width="3.7" stroke-linecap="round" stroke-linejoin="round"/>
<circle cx="139.3" cy="615.6" r="1.3" fill="#8a5a20"/>
<path d="M155.3,633.5 L168.4,626.3 M174.2,627.7 L168.4,626.3 L171.3,621.3" fill="none" stroke="#2fa823" stroke-width="4.7" stroke-linecap="round" stroke-linejoin="round"/>
<path d="M155.3,633.5 L168.4,626.3 M174.2,627.7 L168.4,626.3 L171.3,621.3" fill="none" stroke="#46d836" stroke-width="3.7" stroke-linecap="round" stroke-linejoin="round"/>
<circle cx="155.3" cy="634.5" r="1.3" fill="#8a5a20"/>
<circle cx="34" cy="617.5" r="4.6" fill="url(#bd)"/>
<circle cx="46.8" cy="599.2" r="4.6" fill="url(#bd)"/>
<circle cx="88.9" cy="588.5" r="4.6" fill="url(#bd)"/>
<circle cx="112.5" cy="587" r="4.6" fill="url(#bd)"/>
<circle cx="160.2" cy="606.8" r="4.6" fill="url(#bd)"/>
<circle cx="171.3" cy="621.3" r="4.6" fill="url(#bd)"/>
<circle cx="60.7" cy="585.5" r="9.3" fill="url(#yb)"/>
<circle cx="98" cy="569.5" r="9.6" fill="url(#yb)"/>
<circle cx="146.5" cy="588.5" r="9.3" fill="url(#yb)"/>
<circle cx="54.476655296663246" cy="610.7152851306411" r="1.5" fill="#ec2a22"/>
<circle cx="61.01868946079708" cy="609.3038531600158" r="1.5" fill="#ec2a22"/>
<circle cx="58.717640086133784" cy="614.5824005044266" r="1.5" fill="#ec2a22"/>
<circle cx="49.15997849549414" cy="617.1338431974095" r="1.5" fill="#ec2a22"/>
<circle cx="48.7499131688397" cy="615.805622305923" r="1.5" fill="#ec2a22"/>
<circle cx="49.39710847149238" cy="609.6328342401896" r="1.5" fill="#ec2a22"/>
<circle cx="56.49038378285028" cy="622.8833382440966" r="1.5" fill="#ec2a22"/>
<circle cx="50.47603922299291" cy="612.0183013629263" r="1.5" fill="#ec2a22"/>
<circle cx="60.548664448111786" cy="625.058760964226" r="1.5" fill="#ec2a22"/>
<circle cx="59.54205897234998" cy="615.140248543714" r="1.5" fill="#ec2a22"/>
<circle cx="110.5251021118584" cy="593.8384882511197" r="1.5" fill="#ec2a22"/>
<circle cx="108.16936918097359" cy="598.2129671539702" r="1.5" fill="#ec2a22"/>
<circle cx="93.88510166714875" cy="595.1202602854106" r="1.5" fill="#ec2a22"/>
<circle cx="97.16963648203868" cy="607.6902744641606" r="1.5" fill="#ec2a22"/>
<circle cx="94.61452759847874" cy="603.4688029459244" r="1.5" fill="#ec2a22"/>
<circle cx="103.77826937852367" cy="599.7031557690632" r="1.5" fill="#ec2a22"/>
<circle cx="101.95488931419115" cy="594.1302015495198" r="1.5" fill="#ec2a22"/>
<circle cx="92.19202339932465" cy="596.7072568307478" r="1.5" fill="#ec2a22"/>
<circle cx="104.60799946363572" cy="600.6966615020492" r="1.5" fill="#ec2a22"/>
<circle cx="154.28294340753584" cy="613.5401135431375" r="1.5" fill="#ec2a22"/>
<circle cx="157.0636875274155" cy="608.3958059435463" r="1.5" fill="#ec2a22"/>
<circle cx="163.88758963044984" cy="615.5818998071322" r="1.5" fill="#ec2a22"/>
<circle cx="152.88193021444306" cy="613.339626784656" r="1.5" fill="#ec2a22"/>
<circle cx="158.50393007622904" cy="618.7524749203217" r="1.5" fill="#ec2a22"/>
<circle cx="162.58890578878436" cy="608.1828797680233" r="1.5" fill="#ec2a22"/>
<circle cx="167.60349694985163" cy="605.1251840085894" r="1.5" fill="#ec2a22"/>
<circle cx="156.36245643570453" cy="616.6285367321744" r="1.5" fill="#ec2a22"/>
<circle cx="151.0396906932101" cy="611.8013358085645" r="1.5" fill="#ec2a22"/>
<circle cx="72" cy="613" r="1.9" fill="#f27cc4"/>
<circle cx="124" cy="611" r="1.9" fill="#f27cc4"/>
<circle cx="58" cy="647" r="1.9" fill="#f27cc4"/>
<circle cx="56" cy="664" r="1.9" fill="#f27cc4"/>
<circle cx="73" cy="676" r="1.9" fill="#f27cc4"/>
<circle cx="132" cy="650" r="1.9" fill="#f27cc4"/>
<circle cx="156" cy="652" r="1.9" fill="#f27cc4"/>
<circle cx="154" cy="662" r="1.9" fill="#f27cc4"/>
<circle cx="136" cy="672" r="1.9" fill="#f27cc4"/>
<path d="M67.0,610.4 Q66.8,613.4 69.2,613.6 Q70.6,613.4 71.2,611.6" transform="rotate(0 69 612)" fill="none" stroke="#b07826" stroke-width="1.4" stroke-linecap="round" stroke-linejoin="round"/>
<path d="M91.0,608.4 Q90.8,611.4 93.2,611.6 Q94.6,611.4 95.2,609.6" transform="rotate(0 93 610)" fill="none" stroke="#b07826" stroke-width="1.4" stroke-linecap="round" stroke-linejoin="round"/>
<path d="M117.0,607.4 Q116.8,610.4 119.2,610.6 Q120.6,610.4 121.2,608.6" transform="rotate(0 119 609)" fill="none" stroke="#b07826" stroke-width="1.4" stroke-linecap="round" stroke-linejoin="round"/>
<path d="M134.0,615.4 Q133.8,618.4 136.2,618.6 Q137.6,618.4 138.2,616.6" transform="rotate(0 136 617)" fill="none" stroke="#b07826" stroke-width="1.4" stroke-linecap="round" stroke-linejoin="round"/>
<path d="M51.0,648.4 Q50.8,651.4 53.2,651.6 Q54.6,651.4 55.2,649.6" transform="rotate(0 53 650)" fill="none" stroke="#b07826" stroke-width="1.4" stroke-linecap="round" stroke-linejoin="round"/>
<path d="M55.0,677.4 Q54.8,680.4 57.2,680.6 Q58.6,680.4 59.2,678.6" transform="rotate(-40 57 679)" fill="none" stroke="#b07826" stroke-width="1.4" stroke-linecap="round" stroke-linejoin="round"/>
<path d="M150.0,655.4 Q149.8,658.4 152.2,658.6 Q153.6,658.4 154.2,656.6" transform="rotate(0 152 657)" fill="none" stroke="#b07826" stroke-width="1.4" stroke-linecap="round" stroke-linejoin="round"/>
<path d="M148.0,665.4 Q147.8,668.4 150.2,668.6 Q151.6,668.4 152.2,666.6" transform="rotate(0 150 667)" fill="none" stroke="#b07826" stroke-width="1.4" stroke-linecap="round" stroke-linejoin="round"/>
<path d="M153.0,681.4 Q152.8,684.4 155.2,684.6 Q156.6,684.4 157.2,682.6" transform="rotate(10 155 683)" fill="none" stroke="#b07826" stroke-width="1.4" stroke-linecap="round" stroke-linejoin="round"/>
<path d="M74.0,703.4 Q73.8,706.4 76.2,706.6 Q77.6,706.4 78.2,704.6" transform="rotate(0 76 705)" fill="none" stroke="#b07826" stroke-width="1.4" stroke-linecap="round" stroke-linejoin="round"/>
<path d="M393.3,651.3000000000001 L343.8,651.3000000000001 L343.8,648.6 L337.3,653.7 L343.8,658.8000000000001 L343.8,656.1 L393.3,656.1 Z" fill="#4a1c9c"/>
<circle cx="367.1" cy="636" r="9.5" fill="url(#yb)"/>
<circle cx="363.5" cy="638.2" r="3.6" fill="#f0a050" opacity="0.85"/>
<text x="351.1" y="671.6" font-size="11" font-weight="bold" font-family="Liberation Serif, serif" fill="#111" textLength="32" lengthAdjust="spacingAndGlyphs">APSM</text>
<path d="M214.7,646.2 L166.0,646.2 L166.0,643.5 L159.5,648.6 L166.0,653.7 L166.0,651.0 L214.7,651.0 Z" fill="#4a1c9c"/>
<circle cx="188.1" cy="635.5" r="5.4" fill="url(#bd)"/>
<text x="176.2" y="671.5" font-size="11" font-weight="bold" font-family="Liberation Serif, serif" fill="#111" textLength="23.3" lengthAdjust="spacingAndGlyphs">cTnI</text>
<text x="51.7" y="763.6" font-size="18.5" font-weight="bold" font-family="Liberation Serif, serif" fill="#111" textLength="36.2" lengthAdjust="spacingAndGlyphs">H<tspan dy="4" font-size="12">2</tspan><tspan dy="-4">O</tspan></text>
<text x="45.4" y="821.5" font-size="18.5" font-weight="bold" font-family="Liberation Serif, serif" fill="#111" textLength="42.5" lengthAdjust="spacingAndGlyphs">H<tspan dy="4" font-size="12">2</tspan><tspan dy="-4">O</tspan><tspan dy="4" font-size="12">2</tspan></text>
<circle cx="107" cy="758.5" r="7" fill="url(#hy)"/>
<circle cx="135.7" cy="760" r="6.8" fill="url(#hy)"/>
<ellipse cx="122.4" cy="749.9" rx="14.5" ry="13.4" fill="url(#ox)"/>
<circle cx="105.8" cy="808.3" r="7" fill="url(#hy)"/>
<ellipse cx="121" cy="807.6" rx="12.5" ry="12" fill="url(#ox)"/>
<ellipse cx="131.8" cy="821.3" rx="13" ry="12.5" fill="url(#ox)"/>
<circle cx="143.6" cy="818.6" r="7" fill="url(#hy)"/>
<text x="272.7" y="763" font-size="18.5" font-weight="bold" font-family="Liberation Serif, serif" fill="#111" textLength="49.7" lengthAdjust="spacingAndGlyphs">Co (I)</text>
<text x="265.1" y="833" font-size="18.5" font-weight="bold" font-family="Liberation Serif, serif" fill="#111" textLength="57.3" lengthAdjust="spacingAndGlyphs">Co (II)</text>
<path d="M303.3,787.7 L357.9,787.7 L357.9,784.15 L366.9,790.5 L357.9,796.85 L357.9,793.3 L303.3,793.3 Z" fill="#4a1c9c"/>
<linearGradient id="ribL" x1="0" y1="1" x2="0" y2="0"><stop offset="0" stop-color="#1c3f86"/><stop offset="0.45" stop-color="#3a6cc0"/><stop offset="0.55" stop-color="#4a7ccc"/><stop offset="1" stop-color="#2552a2"/></linearGradient>
<linearGradient id="ribR" x1="0" y1="0" x2="0" y2="1"><stop offset="0" stop-color="#1c3a7c"/><stop offset="0.45" stop-color="#3566b8"/><stop offset="0.55" stop-color="#4a7ccc"/><stop offset="1" stop-color="#2a5aae"/></linearGradient>
<polygon points="166.4,825.3 168.9,824.6 171.4,823.9 173.8,823.0 176.1,822.0 178.4,821.0 180.6,819.9 182.7,818.6 184.6,817.3 186.5,816.0 188.3,814.6 190.0,813.1 191.6,811.6 193.1,810.0 194.5,808.4 195.7,806.8 196.8,805.1 197.8,803.4 198.7,801.7 199.5,799.9 200.1,798.2 200.6,796.4 201.0,794.6 201.3,792.8 201.4,791.1 201.4,791.0 201.4,789.3 201.3,787.7 201.0,786.0 200.7,784.4 200.2,782.8 199.7,781.2 199.0,779.7 198.2,778.1 197.2,776.6 196.2,775.1 195.1,773.7 193.8,772.3 192.4,770.9 190.9,769.6 189.3,768.3 187.6,767.1 185.8,766.0 183.9,764.9 181.9,763.9 179.8,763.0 177.7,762.1 175.4,761.3 173.0,760.7 170.7,760.1 171.9,755.9 159.3,762.4 168.1,769.7 169.3,765.5 171.6,766.1 173.8,766.6 175.9,767.3 177.9,767.9 179.9,768.6 181.8,769.4 183.6,770.2 185.3,771.0 186.9,771.9 188.5,772.9 190.0,773.9 191.4,774.9 192.7,776.0 193.9,777.1 195.0,778.3 196.0,779.6 196.9,780.8 197.7,782.2 198.3,783.5 198.9,785.0 199.3,786.4 199.6,787.9 199.8,789.4 199.8,791.0 199.8,790.9 199.6,792.6 199.3,794.3 198.8,795.9 198.2,797.4 197.4,799.0 196.5,800.4 195.5,801.8 194.3,803.2 193.0,804.5 191.7,805.7 190.2,806.9 188.6,808.1 187.0,809.2 185.3,810.2 183.5,811.2 181.6,812.1 179.7,813.0 177.7,813.8 175.6,814.6 173.5,815.4 171.4,816.1 169.2,816.7 166.9,817.3 164.6,817.9" fill="url(#ribL)"/>
<polygon points="262.2,752.4 259.3,752.6 256.4,753.0 253.5,753.5 250.7,754.3 248.0,755.1 245.3,756.2 242.8,757.3 240.3,758.6 238.0,760.1 235.8,761.6 233.7,763.3 231.8,765.0 229.9,766.8 228.3,768.7 226.7,770.7 225.3,772.8 224.1,774.9 222.9,777.1 222.0,779.3 221.2,781.5 220.6,783.8 220.1,786.2 219.8,788.6 219.6,790.9 219.6,791.0 219.7,793.1 219.8,795.2 220.1,797.2 220.5,799.2 220.9,801.0 221.5,802.9 222.1,804.6 222.9,806.4 223.8,808.0 224.8,809.6 225.8,811.2 227.0,812.7 228.3,814.1 229.6,815.5 231.1,816.8 232.6,818.0 234.3,819.2 236.0,820.3 237.8,821.3 239.6,822.2 241.6,823.1 243.6,823.9 245.6,824.6 247.7,825.2 246.3,829.3 256.2,826.8 250.7,815.7 249.3,819.8 247.3,819.2 245.4,818.7 243.5,818.0 241.8,817.4 240.0,816.6 238.3,815.9 236.7,815.1 235.2,814.2 233.7,813.3 232.3,812.3 230.9,811.3 229.6,810.2 228.4,809.0 227.2,807.8 226.2,806.5 225.2,805.1 224.3,803.6 223.5,802.1 222.9,800.4 222.3,798.7 221.8,796.9 221.5,795.0 221.3,793.0 221.2,791.0 221.2,791.1 221.4,788.7 221.8,786.5 222.4,784.3 223.1,782.2 224.1,780.2 225.2,778.3 226.4,776.4 227.8,774.6 229.4,773.0 231.0,771.4 232.8,769.9 234.7,768.6 236.6,767.3 238.7,766.1 240.8,765.0 243.0,764.1 245.3,763.2 247.6,762.4 250.0,761.8 252.4,761.2 254.9,760.7 257.4,760.4 260.0,760.1 262.6,760.0" fill="url(#ribR)"/>
<circle cx="210" cy="790.6" r="6" fill="url(#rd)"/>
<g transform="translate(0.6,0.6)" stroke="#e9a245" stroke-width="3.4" fill="none" stroke-linejoin="miter">
<path d="M401,826.5 V720.5"/>
<path d="M397.4,725.2 L401,719.2 L404.6,725.2"/>
<path d="M400,826 H531"/>
<path d="M526,822.4 L532,826 L526,829.6"/>
<path d="M440.7,739.5 V776.3 H480.6 V807.1 H526.5"/>
</g>
<g transform="translate(0,0)" stroke="#1e1404" stroke-width="2.0" fill="none" stroke-linejoin="miter">
<path d="M401,826.5 V720.5"/>
<path d="M397.4,725.2 L401,719.2 L404.6,725.2"/>
<path d="M400,826 H531"/>
<path d="M526,822.4 L532,826 L526,829.6"/>
<path d="M440.7,739.5 V776.3 H480.6 V807.1 H526.5"/>
</g>
<path d="M402,739.5 H440.7" stroke="#2a3a10" stroke-width="2" fill="none"/>
<text transform="translate(392,776) rotate(-90)" font-size="13" font-weight="bold" text-anchor="middle" font-family="Liberation Serif, serif" fill="#111" textLength="73" lengthAdjust="spacingAndGlyphs">Current/µA</text>
<text x="443.6" y="844.3" font-size="13" font-weight="bold" font-family="Liberation Serif, serif" fill="#111" textLength="45.8" lengthAdjust="spacingAndGlyphs">Time/s</text>
<rect x="49.6" y="25.8" width="213.79999999999998" height="153.0" fill="none" stroke="#000" stroke-width="1.9"/>
<line x1="49.6" y1="163.2" x2="53.800000000000004" y2="163.2" stroke="#000" stroke-width="1.6"/>
<text x="44.6" y="168.4" font-size="14.6" text-anchor="end" font-family="Liberation Sans, sans-serif" fill="#111" stroke="#111" stroke-width="0.22" textLength="7.6" lengthAdjust="spacingAndGlyphs" >0</text>
<line x1="49.6" y1="122.8" x2="53.800000000000004" y2="122.8" stroke="#000" stroke-width="1.6"/>
<text x="44.6" y="128.0" font-size="14.6" text-anchor="end" font-family="Liberation Sans, sans-serif" fill="#111" stroke="#111" stroke-width="0.22" textLength="15.2" lengthAdjust="spacingAndGlyphs" >50</text>
<line x1="49.6" y1="82.4" x2="53.800000000000004" y2="82.4" stroke="#000" stroke-width="1.6"/>
<text x="44.6" y="87.6" font-size="14.6" text-anchor="end" font-family="Liberation Sans, sans-serif" fill="#111" stroke="#111" stroke-width="0.22" textLength="22.799999999999997" lengthAdjust="spacingAndGlyphs" >100</text>
<line x1="49.6" y1="42.0" x2="53.800000000000004" y2="42.0" stroke="#000" stroke-width="1.6"/>
<text x="44.6" y="47.2" font-size="14.6" text-anchor="end" font-family="Liberation Sans, sans-serif" fill="#111" stroke="#111" stroke-width="0.22" textLength="22.799999999999997" lengthAdjust="spacingAndGlyphs" >150</text>
<line x1="66.9" y1="178.8" x2="66.9" y2="174.8" stroke="#000" stroke-width="1.6"/>
<text x="67.4" y="195.6" font-size="14.6" text-anchor="middle" font-family="Liberation Sans, sans-serif" fill="#111" stroke="#111" stroke-width="0.22" textLength="29.6" lengthAdjust="spacingAndGlyphs" >−0.5</text>
<line x1="102.7" y1="178.8" x2="102.7" y2="174.8" stroke="#000" stroke-width="1.6"/>
<text x="103.2" y="195.6" font-size="14.6" text-anchor="middle" font-family="Liberation Sans, sans-serif" fill="#111" stroke="#111" stroke-width="0.22" textLength="29.6" lengthAdjust="spacingAndGlyphs" >−0.4</text>
<line x1="138.5" y1="178.8" x2="138.5" y2="174.8" stroke="#000" stroke-width="1.6"/>
<text x="139.0" y="195.6" font-size="14.6" text-anchor="middle" font-family="Liberation Sans, sans-serif" fill="#111" stroke="#111" stroke-width="0.22" textLength="29.6" lengthAdjust="spacingAndGlyphs" >−0.3</text>
<line x1="174.4" y1="178.8" x2="174.4" y2="174.8" stroke="#000" stroke-width="1.6"/>
<text x="174.9" y="195.6" font-size="14.6" text-anchor="middle" font-family="Liberation Sans, sans-serif" fill="#111" stroke="#111" stroke-width="0.22" textLength="29.6" lengthAdjust="spacingAndGlyphs" >−0.2</text>
<line x1="210.2" y1="178.8" x2="210.2" y2="174.8" stroke="#000" stroke-width="1.6"/>
<text x="210.7" y="195.6" font-size="14.6" text-anchor="middle" font-family="Liberation Sans, sans-serif" fill="#111" stroke="#111" stroke-width="0.22" textLength="29.6" lengthAdjust="spacingAndGlyphs" >−0.1</text>
<line x1="246.0" y1="178.8" x2="246.0" y2="174.8" stroke="#000" stroke-width="1.6"/>
<text x="246.5" y="195.6" font-size="14.6" text-anchor="middle" font-family="Liberation Sans, sans-serif" fill="#111" stroke="#111" stroke-width="0.22" textLength="20.6" lengthAdjust="spacingAndGlyphs" >0.0</text>
<polyline points="66.9,159.7 67.5,159.7 68.1,159.8 68.7,159.8 69.3,159.8 69.9,159.8 70.5,159.9 71.1,159.9 71.7,159.9 72.3,159.9 72.9,159.9 73.5,160.0 74.1,160.0 74.7,160.0 75.3,160.0 75.9,160.0 76.5,160.1 77.0,160.1 77.6,160.1 78.2,160.1 78.8,160.1 79.4,160.2 80.0,160.2 80.6,160.2 81.2,160.2 81.8,160.2 82.4,160.2 83.0,160.3 83.6,160.3 84.2,160.3 84.8,160.3 85.4,160.3 86.0,160.3 86.6,160.4 87.2,160.4 87.8,160.4 88.4,160.4 89.0,160.4 89.6,160.4 90.2,160.5 90.8,160.5 91.4,160.5 92.0,160.5 92.6,160.5 93.2,160.5 93.8,160.6 94.4,160.6 95.0,160.6 95.6,160.6 96.2,160.6 96.8,160.6 97.3,160.6 97.9,160.7 98.5,160.7 99.1,160.7 99.7,160.7 100.3,160.7 100.9,160.7 101.5,160.7 102.1,160.8 102.7,160.8 103.3,160.8 103.9,160.8 104.5,160.8 105.1,160.8 105.7,160.8 106.3,160.9 106.9,160.9 107.5,160.9 108.1,160.9 108.7,160.9 109.3,160.9 109.9,160.9 110.5,160.9 111.1,161.0 111.7,161.0 112.3,161.0 112.9,161.0 113.5,161.0 114.1,161.0 114.7,161.0 115.3,161.0 115.9,161.0 116.5,161.1 117.0,161.1 117.6,161.1 118.2,161.1 118.8,161.1 119.4,161.1 120.0,161.1 120.6,161.1 121.2,161.1 121.8,161.2 122.4,161.2 123.0,161.2 123.6,161.2 124.2,161.2 124.8,161.2 125.4,161.2 126.0,161.2 126.6,161.2 127.2,161.2 127.8,161.3 128.4,161.3 129.0,161.3 129.6,161.3 130.2,161.3 130.8,161.3 131.4,161.3 132.0,161.3 132.6,161.3 133.2,161.3 133.8,161.3 134.4,161.4 135.0,161.4 135.6,161.4 136.2,161.4 136.7,161.4 137.3,161.4 137.9,161.4 138.5,161.4 139.1,161.4 139.7,161.4 140.3,161.4 140.9,161.4 141.5,161.5 142.1,161.5 142.7,161.5 143.3,161.5 143.9,161.5 144.5,161.5 145.1,161.5 145.7,161.5 146.3,161.5 146.9,161.5 147.5,161.5 148.1,161.5 148.7,161.5 149.3,161.5 149.9,161.6 150.5,161.6 151.1,161.6 151.7,161.6 152.3,161.6 152.9,161.6 153.5,161.6 154.1,161.6 154.7,161.6 155.3,161.6 155.9,161.6 156.4,161.6 157.0,161.6 157.6,161.6 158.2,161.6 158.8,161.7 159.4,161.7 160.0,161.7 160.6,161.7 161.2,161.7 161.8,161.7 162.4,161.7 163.0,161.7 163.6,161.7 164.2,161.7 164.8,161.7 165.4,161.7 166.0,161.7 166.6,161.7 167.2,161.7 167.8,161.7 168.4,161.7 169.0,161.8 169.6,161.8 170.2,161.8 170.8,161.8 171.4,161.8 172.0,161.8 172.6,161.8 173.2,161.8 173.8,161.8 174.4,161.8 175.0,161.8 175.6,161.8 176.2,161.8 176.7,161.8 177.3,161.8 177.9,161.8 178.5,161.8 179.1,161.9 179.7,161.9 180.3,161.9 180.9,161.9 181.5,161.9 182.1,161.9 182.7,161.9 183.3,161.9 183.9,161.9 184.5,161.9 185.1,162.0 185.7,162.0 186.3,162.0 186.9,162.0 187.5,162.0 188.1,162.0 188.7,162.1 189.3,162.1 189.9,162.1 190.5,162.1 191.1,162.2 191.7,162.2 192.3,162.2 192.9,162.2 193.5,162.3 194.1,162.3 194.7,162.3 195.3,162.4 195.9,162.4 196.4,162.4 197.0,162.5 197.6,162.5 198.2,162.5 198.8,162.6 199.4,162.6 200.0,162.6 200.6,162.7 201.2,162.7 201.8,162.7 202.4,162.7 203.0,162.7 203.6,162.8 204.2,162.8 204.8,162.8 205.4,162.8 206.0,162.8 206.6,162.8 207.2,162.8 207.8,162.8 208.4,162.8 209.0,162.8 209.6,162.8 210.2,162.8 210.8,162.9 211.4,162.9 212.0,162.9 212.6,162.9 213.2,162.9 213.8,162.9 214.4,162.9 215.0,162.9 215.6,162.9 216.2,162.9 216.7,162.9 217.3,162.9 217.9,162.9 218.5,162.9 219.1,162.9 219.7,162.9 220.3,162.9 220.9,162.9 221.5,162.9 222.1,162.9 222.7,162.9 223.3,162.9 223.9,162.9 224.5,162.9 225.1,162.9 225.7,162.9 226.3,162.9 226.9,162.9 227.5,162.9 228.1,162.9 228.7,163.0 229.3,163.0 229.9,163.0 230.5,163.0 231.1,163.0 231.7,163.0 232.3,163.0 232.9,163.0 233.5,163.0 234.1,163.0 234.7,163.1 235.3,163.1 235.9,163.1 236.4,163.1 237.0,163.1 237.6,163.1 238.2,163.1 238.8,163.1 239.4,163.1 240.0,163.1 240.6,163.1 241.2,163.2 241.8,163.2 242.4,163.2 243.0,163.2 243.6,163.2 244.2,163.2 244.8,163.2 245.4,163.2 246.0,163.2" fill="none" stroke="#ff5a14" stroke-width="2" stroke-linejoin="round"/>
<polyline points="66.9,154.5 67.5,154.5 68.1,154.6 68.7,154.7 69.3,154.7 69.9,154.8 70.5,154.8 71.1,154.9 71.7,154.9 72.3,155.0 72.9,155.1 73.5,155.1 74.1,155.2 74.7,155.2 75.3,155.3 75.9,155.3 76.5,155.4 77.0,155.4 77.6,155.5 78.2,155.5 78.8,155.6 79.4,155.6 80.0,155.7 80.6,155.7 81.2,155.7 81.8,155.8 82.4,155.8 83.0,155.9 83.6,155.9 84.2,155.9 84.8,156.0 85.4,156.0 86.0,156.1 86.6,156.1 87.2,156.1 87.8,156.2 88.4,156.2 89.0,156.2 89.6,156.3 90.2,156.3 90.8,156.3 91.4,156.4 92.0,156.4 92.6,156.4 93.2,156.5 93.8,156.5 94.4,156.5 95.0,156.6 95.6,156.6 96.2,156.6 96.8,156.6 97.3,156.7 97.9,156.7 98.5,156.7 99.1,156.8 99.7,156.8 100.3,156.8 100.9,156.8 101.5,156.9 102.1,156.9 102.7,156.9 103.3,156.9 103.9,156.9 104.5,157.0 105.1,157.0 105.7,157.0 106.3,157.0 106.9,157.1 107.5,157.1 108.1,157.1 108.7,157.1 109.3,157.1 109.9,157.2 110.5,157.2 111.1,157.2 111.7,157.2 112.3,157.2 112.9,157.2 113.5,157.3 114.1,157.3 114.7,157.3 115.3,157.3 115.9,157.3 116.5,157.3 117.0,157.4 117.6,157.4 118.2,157.4 118.8,157.4 119.4,157.4 120.0,157.4 120.6,157.4 121.2,157.5 121.8,157.5 122.4,157.5 123.0,157.5 123.6,157.5 124.2,157.5 124.8,157.5 125.4,157.6 126.0,157.6 126.6,157.6 127.2,157.6 127.8,157.6 128.4,157.6 129.0,157.6 129.6,157.6 130.2,157.6 130.8,157.6 131.4,157.7 132.0,157.7 132.6,157.7 133.2,157.7 133.8,157.7 134.4,157.7 135.0,157.7 135.6,157.7 136.2,157.7 136.7,157.7 137.3,157.7 137.9,157.7 138.5,157.8 139.1,157.8 139.7,157.8 140.3,157.8 140.9,157.8 141.5,157.8 142.1,157.8 142.7,157.8 143.3,157.8 143.9,157.8 144.5,157.8 145.1,157.8 145.7,157.8 146.3,157.8 146.9,157.8 147.5,157.8 148.1,157.8 148.7,157.8 149.3,157.8 149.9,157.8 150.5,157.8 151.1,157.8 151.7,157.8 152.3,157.8 152.9,157.8 153.5,157.8 154.1,157.8 154.7,157.8 155.3,157.8 155.9,157.8 156.4,157.8 157.0,157.8 157.6,157.8 158.2,157.8 158.8,157.8 159.4,157.8 160.0,157.8 160.6,157.8 161.2,157.7 161.8,157.7 162.4,157.7 163.0,157.7 163.6,157.6 164.2,157.6 164.8,157.5 165.4,157.4 166.0,157.3 166.6,157.2 167.2,157.1 167.8,156.9 168.4,156.7 169.0,156.5 169.6,156.2 170.2,156.0 170.8,155.6 171.4,155.3 172.0,154.9 172.6,154.4 173.2,153.9 173.8,153.4 174.4,152.9 175.0,152.3 175.6,151.7 176.2,151.0 176.7,150.4 177.3,149.8 177.9,149.2 178.5,148.5 179.1,148.0 179.7,147.5 180.3,147.0 180.9,146.6 181.5,146.3 182.1,146.1 182.7,146.0 183.3,146.0 183.9,146.1 184.5,146.3 185.1,146.6 185.7,147.0 186.3,147.5 186.9,148.0 187.5,148.5 188.1,149.1 188.7,149.7 189.3,150.3 189.9,150.9 190.5,151.5 191.1,152.1 191.7,152.6 192.3,153.1 192.9,153.6 193.5,154.0 194.1,154.4 194.7,154.7 195.3,155.0 195.9,155.3 196.4,155.5 197.0,155.7 197.6,155.9 198.2,156.0 198.8,156.1 199.4,156.2 200.0,156.3 200.6,156.3 201.2,156.4 201.8,156.4 202.4,156.4 203.0,156.4 203.6,156.4 204.2,156.4 204.8,156.4 205.4,156.4 206.0,156.4 206.6,156.4 207.2,156.4 207.8,156.4 208.4,156.4 209.0,156.4 209.6,156.4 210.2,156.4 210.8,156.4 211.4,156.4 212.0,156.4 212.6,156.4 213.2,156.4 213.8,156.4 214.4,156.5 215.0,156.5 215.6,156.5 216.2,156.5 216.7,156.5 217.3,156.5 217.9,156.5 218.5,156.5 219.1,156.5 219.7,156.5 220.3,156.5 220.9,156.5 221.5,156.5 222.1,156.5 222.7,156.5 223.3,156.5 223.9,156.5 224.5,156.5 225.1,156.5 225.7,156.5 226.3,156.4 226.9,156.4 227.5,156.4 228.1,156.4 228.7,156.4 229.3,156.4 229.9,156.4 230.5,156.4 231.1,156.4 231.7,156.4 232.3,156.4 232.9,156.4 233.5,156.4 234.1,156.3 234.7,156.3 235.3,156.3 235.9,156.3 236.4,156.3 237.0,156.3 237.6,156.3 238.2,156.3 238.8,156.3 239.4,156.3 240.0,156.3 240.6,156.3 241.2,156.3 241.8,156.2 242.4,156.2 243.0,156.2 243.6,156.2 244.2,156.2 244.8,156.2 245.4,156.2 246.0,156.2" fill="none" stroke="#3a0808" stroke-width="2" stroke-linejoin="round"/>
<polyline points="66.9,150.9 67.5,151.0 68.1,151.2 68.7,151.4 69.3,151.5 69.9,151.7 70.5,151.9 71.1,152.0 71.7,152.2 72.3,152.3 72.9,152.4 73.5,152.6 74.1,152.7 74.7,152.8 75.3,153.0 75.9,153.1 76.5,153.2 77.0,153.3 77.6,153.4 78.2,153.6 78.8,153.7 79.4,153.8 80.0,153.9 80.6,154.0 81.2,154.1 81.8,154.2 82.4,154.3 83.0,154.4 83.6,154.5 84.2,154.6 84.8,154.6 85.4,154.7 86.0,154.8 86.6,154.9 87.2,155.0 87.8,155.0 88.4,155.1 89.0,155.2 89.6,155.3 90.2,155.3 90.8,155.4 91.4,155.5 92.0,155.5 92.6,155.6 93.2,155.7 93.8,155.7 94.4,155.8 95.0,155.8 95.6,155.9 96.2,155.9 96.8,156.0 97.3,156.0 97.9,156.1 98.5,156.1 99.1,156.2 99.7,156.2 100.3,156.3 100.9,156.3 101.5,156.4 102.1,156.4 102.7,156.5 103.3,156.5 103.9,156.5 104.5,156.6 105.1,156.6 105.7,156.7 106.3,156.7 106.9,156.7 107.5,156.8 108.1,156.8 108.7,156.8 109.3,156.9 109.9,156.9 110.5,156.9 111.1,156.9 111.7,157.0 112.3,157.0 112.9,157.0 113.5,157.0 114.1,157.1 114.7,157.1 115.3,157.1 115.9,157.1 116.5,157.2 117.0,157.2 117.6,157.2 118.2,157.2 118.8,157.2 119.4,157.3 120.0,157.3 120.6,157.3 121.2,157.3 121.8,157.3 122.4,157.4 123.0,157.4 123.6,157.4 124.2,157.4 124.8,157.4 125.4,157.4 126.0,157.4 126.6,157.4 127.2,157.5 127.8,157.5 128.4,157.5 129.0,157.5 129.6,157.5 130.2,157.5 130.8,157.5 131.4,157.5 132.0,157.5 132.6,157.5 133.2,157.5 133.8,157.6 134.4,157.6 135.0,157.6 135.6,157.6 136.2,157.6 136.7,157.6 137.3,157.6 137.9,157.6 138.5,157.6 139.1,157.6 139.7,157.6 140.3,157.6 140.9,157.6 141.5,157.6 142.1,157.6 142.7,157.6 143.3,157.6 143.9,157.6 144.5,157.6 145.1,157.6 145.7,157.6 146.3,157.5 146.9,157.5 147.5,157.5 148.1,157.5 148.7,157.5 149.3,157.5 149.9,157.5 150.5,157.5 151.1,157.5 151.7,157.4 152.3,157.4 152.9,157.4 153.5,157.4 154.1,157.3 154.7,157.3 155.3,157.3 155.9,157.2 156.4,157.2 157.0,157.1 157.6,157.1 158.2,157.0 158.8,157.0 159.4,156.9 160.0,156.8 160.6,156.7 161.2,156.5 161.8,156.4 162.4,156.2 163.0,156.0 163.6,155.8 164.2,155.5 164.8,155.3 165.4,154.9 166.0,154.6 166.6,154.1 167.2,153.7 167.8,153.2 168.4,152.6 169.0,152.0 169.6,151.3 170.2,150.5 170.8,149.7 171.4,148.8 172.0,147.9 172.6,146.9 173.2,145.9 173.8,144.8 174.4,143.7 175.0,142.5 175.6,141.4 176.2,140.2 176.7,139.0 177.3,137.8 177.9,136.7 178.5,135.6 179.1,134.6 179.7,133.7 180.3,132.9 180.9,132.2 181.5,131.6 182.1,131.3 182.7,131.0 183.3,131.0 183.9,131.1 184.5,131.4 185.1,131.8 185.7,132.4 186.3,133.1 186.9,134.0 187.5,134.9 188.1,135.9 188.7,136.9 189.3,138.0 189.9,139.1 190.5,140.2 191.1,141.3 191.7,142.4 192.3,143.4 192.9,144.5 193.5,145.4 194.1,146.3 194.7,147.1 195.3,147.9 195.9,148.7 196.4,149.3 197.0,149.9 197.6,150.5 198.2,151.0 198.8,151.4 199.4,151.8 200.0,152.1 200.6,152.4 201.2,152.7 201.8,152.9 202.4,153.1 203.0,153.3 203.6,153.5 204.2,153.6 204.8,153.7 205.4,153.8 206.0,153.9 206.6,154.0 207.2,154.0 207.8,154.1 208.4,154.1 209.0,154.2 209.6,154.2 210.2,154.2 210.8,154.3 211.4,154.3 212.0,154.3 212.6,154.4 213.2,154.4 213.8,154.4 214.4,154.4 215.0,154.5 215.6,154.5 216.2,154.5 216.7,154.5 217.3,154.6 217.9,154.6 218.5,154.6 219.1,154.6 219.7,154.7 220.3,154.7 220.9,154.7 221.5,154.7 222.1,154.8 222.7,154.8 223.3,154.9 223.9,154.9 224.5,154.9 225.1,155.0 225.7,155.0 226.3,155.1 226.9,155.1 227.5,155.2 228.1,155.3 228.7,155.4 229.3,155.4 229.9,155.5 230.5,155.6 231.1,155.7 231.7,155.8 232.3,155.9 232.9,156.0 233.5,156.1 234.1,156.2 234.7,156.3 235.3,156.3 235.9,156.4 236.4,156.5 237.0,156.6 237.6,156.7 238.2,156.8 238.8,156.8 239.4,156.9 240.0,157.0 240.6,157.0 241.2,157.1 241.8,157.1 242.4,157.1 243.0,157.2 243.6,157.2 244.2,157.2 244.8,157.3 245.4,157.3 246.0,157.3" fill="none" stroke="#6a12e6" stroke-width="2" stroke-linejoin="round"/>
<polyline points="66.9,144.2 67.5,144.5 68.1,144.7 68.7,145.0 69.3,145.2 69.9,145.5 70.5,145.7 71.1,145.9 71.7,146.2 72.3,146.4 72.9,146.6 73.5,146.8 74.1,147.0 74.7,147.2 75.3,147.4 75.9,147.6 76.5,147.8 77.0,148.0 77.6,148.2 78.2,148.4 78.8,148.6 79.4,148.7 80.0,148.9 80.6,149.1 81.2,149.2 81.8,149.4 82.4,149.6 83.0,149.7 83.6,149.9 84.2,150.0 84.8,150.2 85.4,150.3 86.0,150.4 86.6,150.6 87.2,150.7 87.8,150.8 88.4,151.0 89.0,151.1 89.6,151.2 90.2,151.3 90.8,151.5 91.4,151.6 92.0,151.7 92.6,151.8 93.2,151.9 93.8,152.0 94.4,152.1 95.0,152.2 95.6,152.3 96.2,152.4 96.8,152.5 97.3,152.6 97.9,152.7 98.5,152.8 99.1,152.9 99.7,153.0 100.3,153.1 100.9,153.1 101.5,153.2 102.1,153.3 102.7,153.4 103.3,153.5 103.9,153.5 104.5,153.6 105.1,153.7 105.7,153.8 106.3,153.8 106.9,153.9 107.5,154.0 108.1,154.0 108.7,154.1 109.3,154.1 109.9,154.2 110.5,154.3 111.1,154.3 111.7,154.4 112.3,154.4 112.9,154.5 113.5,154.5 114.1,154.6 114.7,154.6 115.3,154.7 115.9,154.7 116.5,154.8 117.0,154.8 117.6,154.9 118.2,154.9 118.8,154.9 119.4,155.0 120.0,155.0 120.6,155.1 121.2,155.1 121.8,155.1 122.4,155.2 123.0,155.2 123.6,155.2 124.2,155.3 124.8,155.3 125.4,155.3 126.0,155.4 126.6,155.4 127.2,155.4 127.8,155.5 128.4,155.5 129.0,155.5 129.6,155.5 130.2,155.5 130.8,155.6 131.4,155.6 132.0,155.6 132.6,155.6 133.2,155.6 133.8,155.7 134.4,155.7 135.0,155.7 135.6,155.7 136.2,155.7 136.7,155.7 137.3,155.8 137.9,155.8 138.5,155.8 139.1,155.8 139.7,155.8 140.3,155.8 140.9,155.8 141.5,155.8 142.1,155.8 142.7,155.8 143.3,155.8 143.9,155.8 144.5,155.8 145.1,155.8 145.7,155.8 146.3,155.8 146.9,155.8 147.5,155.8 148.1,155.8 148.7,155.7 149.3,155.7 149.9,155.7 150.5,155.7 151.1,155.7 151.7,155.6 152.3,155.6 152.9,155.6 153.5,155.5 154.1,155.5 154.7,155.4 155.3,155.3 155.9,155.3 156.4,155.2 157.0,155.1 157.6,155.0 158.2,154.8 158.8,154.7 159.4,154.5 160.0,154.3 160.6,154.1 161.2,153.8 161.8,153.5 162.4,153.2 163.0,152.9 163.6,152.4 164.2,152.0 164.8,151.5 165.4,150.9 166.0,150.2 166.6,149.5 167.2,148.8 167.8,147.9 168.4,147.0 169.0,146.0 169.6,145.0 170.2,143.8 170.8,142.6 171.4,141.3 172.0,140.0 172.6,138.6 173.2,137.1 173.8,135.6 174.4,134.1 175.0,132.6 175.6,131.0 176.2,129.4 176.7,127.9 177.3,126.4 177.9,124.9 178.5,123.6 179.1,122.3 179.7,121.1 180.3,120.1 180.9,119.3 181.5,118.6 182.1,118.1 182.7,117.8 183.3,117.7 183.9,117.9 184.5,118.2 185.1,118.7 185.7,119.4 186.3,120.2 186.9,121.2 187.5,122.3 188.1,123.6 188.7,124.8 189.3,126.2 189.9,127.5 190.5,128.9 191.1,130.3 191.7,131.7 192.3,133.0 192.9,134.3 193.5,135.6 194.1,136.8 194.7,137.9 195.3,138.9 195.9,139.9 196.4,140.8 197.0,141.7 197.6,142.5 198.2,143.2 198.8,143.8 199.4,144.4 200.0,144.9 200.6,145.4 201.2,145.9 201.8,146.2 202.4,146.6 203.0,146.9 203.6,147.1 204.2,147.4 204.8,147.6 205.4,147.8 206.0,147.9 206.6,148.1 207.2,148.2 207.8,148.3 208.4,148.4 209.0,148.5 209.6,148.6 210.2,148.7 210.8,148.7 211.4,148.8 212.0,148.8 212.6,148.9 213.2,148.9 213.8,149.0 214.4,149.0 215.0,149.1 215.6,149.1 216.2,149.1 216.7,149.2 217.3,149.2 217.9,149.3 218.5,149.3 219.1,149.3 219.7,149.4 220.3,149.4 220.9,149.5 221.5,149.5 222.1,149.6 222.7,149.7 223.3,149.7 223.9,149.8 224.5,149.9 225.1,150.0 225.7,150.1 226.3,150.1 226.9,150.3 227.5,150.4 228.1,150.5 228.7,150.6 229.3,150.8 229.9,150.9 230.5,151.0 231.1,151.2 231.7,151.4 232.3,151.5 232.9,151.7 233.5,151.9 234.1,152.0 234.7,152.2 235.3,152.4 235.9,152.5 236.4,152.7 237.0,152.8 237.6,153.0 238.2,153.1 238.8,153.2 239.4,153.3 240.0,153.4 240.6,153.5 241.2,153.6 241.8,153.7 242.4,153.8 243.0,153.9 243.6,153.9 244.2,154.0 244.8,154.0 245.4,154.1 246.0,154.1" fill="none" stroke="#1a24d6" stroke-width="2" stroke-linejoin="round"/>
<polyline points="66.9,146.1 67.5,146.4 68.1,146.6 68.7,146.8 69.3,147.0 69.9,147.2 70.5,147.5 71.1,147.7 71.7,147.9 72.3,148.1 72.9,148.2 73.5,148.4 74.1,148.6 74.7,148.8 75.3,149.0 75.9,149.2 76.5,149.3 77.0,149.5 77.6,149.6 78.2,149.8 78.8,150.0 79.4,150.1 80.0,150.3 80.6,150.4 81.2,150.6 81.8,150.7 82.4,150.8 83.0,151.0 83.6,151.1 84.2,151.2 84.8,151.3 85.4,151.5 86.0,151.6 86.6,151.7 87.2,151.8 87.8,151.9 88.4,152.1 89.0,152.2 89.6,152.3 90.2,152.4 90.8,152.5 91.4,152.6 92.0,152.7 92.6,152.8 93.2,152.9 93.8,152.9 94.4,153.0 95.0,153.1 95.6,153.2 96.2,153.3 96.8,153.4 97.3,153.5 97.9,153.5 98.5,153.6 99.1,153.7 99.7,153.8 100.3,153.8 100.9,153.9 101.5,154.0 102.1,154.0 102.7,154.1 103.3,154.2 103.9,154.2 104.5,154.3 105.1,154.3 105.7,154.4 106.3,154.5 106.9,154.5 107.5,154.6 108.1,154.6 108.7,154.7 109.3,154.7 109.9,154.8 110.5,154.8 111.1,154.9 111.7,154.9 112.3,155.0 112.9,155.0 113.5,155.0 114.1,155.1 114.7,155.1 115.3,155.2 115.9,155.2 116.5,155.2 117.0,155.3 117.6,155.3 118.2,155.3 118.8,155.4 119.4,155.4 120.0,155.4 120.6,155.5 121.2,155.5 121.8,155.5 122.4,155.6 123.0,155.6 123.6,155.6 124.2,155.6 124.8,155.7 125.4,155.7 126.0,155.7 126.6,155.7 127.2,155.7 127.8,155.8 128.4,155.8 129.0,155.8 129.6,155.8 130.2,155.8 130.8,155.9 131.4,155.9 132.0,155.9 132.6,155.9 133.2,155.9 133.8,155.9 134.4,155.9 135.0,155.9 135.6,155.9 136.2,156.0 136.7,156.0 137.3,156.0 137.9,156.0 138.5,156.0 139.1,156.0 139.7,156.0 140.3,156.0 140.9,156.0 141.5,156.0 142.1,156.0 142.7,156.0 143.3,156.0 143.9,156.0 144.5,156.0 145.1,155.9 145.7,155.9 146.3,155.9 146.9,155.9 147.5,155.9 148.1,155.9 148.7,155.9 149.3,155.8 149.9,155.8 150.5,155.8 151.1,155.8 151.7,155.7 152.3,155.7 152.9,155.7 153.5,155.6 154.1,155.6 154.7,155.6 155.3,155.5 155.9,155.4 156.4,155.4 157.0,155.3 157.6,155.2 158.2,155.2 158.8,155.1 159.4,154.9 160.0,154.8 160.6,154.7 161.2,154.5 161.8,154.3 162.4,154.1 163.0,153.8 163.6,153.5 164.2,153.2 164.8,152.8 165.4,152.3 166.0,151.8 166.6,151.2 167.2,150.5 167.8,149.7 168.4,148.8 169.0,147.8 169.6,146.6 170.2,145.4 170.8,144.0 171.4,142.4 172.0,140.7 172.6,138.9 173.2,136.9 173.8,134.8 174.4,132.6 175.0,130.2 175.6,127.8 176.2,125.2 176.7,122.6 177.3,119.9 177.9,117.2 178.5,114.5 179.1,111.9 179.7,109.4 180.3,107.1 180.9,104.9 181.5,102.9 182.1,101.3 182.7,99.9 183.3,98.9 183.9,98.4 184.5,98.2 185.1,98.4 185.7,99.0 186.3,100.0 186.9,101.3 187.5,103.0 188.1,104.9 188.7,107.0 189.3,109.2 189.9,111.6 190.5,114.0 191.1,116.5 191.7,118.9 192.3,121.4 192.9,123.7 193.5,126.0 194.1,128.2 194.7,130.2 195.3,132.1 195.9,133.9 196.4,135.5 197.0,137.0 197.6,138.4 198.2,139.6 198.8,140.7 199.4,141.6 200.0,142.5 200.6,143.3 201.2,143.9 201.8,144.5 202.4,145.0 203.0,145.4 203.6,145.8 204.2,146.1 204.8,146.4 205.4,146.6 206.0,146.8 206.6,147.0 207.2,147.1 207.8,147.2 208.4,147.4 209.0,147.5 209.6,147.5 210.2,147.6 210.8,147.7 211.4,147.8 212.0,147.8 212.6,147.9 213.2,147.9 213.8,148.0 214.4,148.0 215.0,148.1 215.6,148.1 216.2,148.2 216.7,148.2 217.3,148.3 217.9,148.3 218.5,148.4 219.1,148.4 219.7,148.5 220.3,148.6 220.9,148.6 221.5,148.7 222.1,148.8 222.7,148.8 223.3,148.9 223.9,149.0 224.5,149.1 225.1,149.2 225.7,149.3 226.3,149.4 226.9,149.5 227.5,149.7 228.1,149.8 228.7,150.0 229.3,150.1 229.9,150.3 230.5,150.5 231.1,150.7 231.7,150.9 232.3,151.0 232.9,151.2 233.5,151.4 234.1,151.7 234.7,151.8 235.3,152.0 235.9,152.2 236.4,152.4 237.0,152.6 237.6,152.8 238.2,152.9 238.8,153.1 239.4,153.2 240.0,153.3 240.6,153.4 241.2,153.5 241.8,153.6 242.4,153.7 243.0,153.8 243.6,153.9 244.2,153.9 244.8,154.0 245.4,154.0 246.0,154.1" fill="none" stroke="#2a9a8c" stroke-width="2" stroke-linejoin="round"/>
<polyline points="66.9,146.7 67.5,146.9 68.1,147.1 68.7,147.3 69.3,147.5 69.9,147.7 70.5,147.9 71.1,148.1 71.7,148.3 72.3,148.5 72.9,148.7 73.5,148.9 74.1,149.0 74.7,149.2 75.3,149.4 75.9,149.6 76.5,149.7 77.0,149.9 77.6,150.0 78.2,150.2 78.8,150.3 79.4,150.5 80.0,150.6 80.6,150.7 81.2,150.9 81.8,151.0 82.4,151.1 83.0,151.3 83.6,151.4 84.2,151.5 84.8,151.6 85.4,151.8 86.0,151.9 86.6,152.0 87.2,152.1 87.8,152.2 88.4,152.3 89.0,152.4 89.6,152.5 90.2,152.6 90.8,152.7 91.4,152.8 92.0,152.9 92.6,153.0 93.2,153.1 93.8,153.1 94.4,153.2 95.0,153.3 95.6,153.4 96.2,153.5 96.8,153.6 97.3,153.6 97.9,153.7 98.5,153.8 99.1,153.8 99.7,153.9 100.3,154.0 100.9,154.0 101.5,154.1 102.1,154.2 102.7,154.2 103.3,154.3 103.9,154.4 104.5,154.4 105.1,154.5 105.7,154.5 106.3,154.6 106.9,154.6 107.5,154.7 108.1,154.7 108.7,154.8 109.3,154.8 109.9,154.9 110.5,154.9 111.1,155.0 111.7,155.0 112.3,155.0 112.9,155.1 113.5,155.1 114.1,155.2 114.7,155.2 115.3,155.2 115.9,155.3 116.5,155.3 117.0,155.3 117.6,155.4 118.2,155.4 118.8,155.4 119.4,155.5 120.0,155.5 120.6,155.5 121.2,155.5 121.8,155.6 122.4,155.6 123.0,155.6 123.6,155.6 124.2,155.7 124.8,155.7 125.4,155.7 126.0,155.7 126.6,155.7 127.2,155.8 127.8,155.8 128.4,155.8 129.0,155.8 129.6,155.8 130.2,155.8 130.8,155.9 131.4,155.9 132.0,155.9 132.6,155.9 133.2,155.9 133.8,155.9 134.4,155.9 135.0,155.9 135.6,155.9 136.2,155.9 136.7,155.9 137.3,155.9 137.9,155.9 138.5,155.9 139.1,155.9 139.7,155.9 140.3,155.9 140.9,155.9 141.5,155.9 142.1,155.9 142.7,155.9 143.3,155.9 143.9,155.9 144.5,155.9 145.1,155.9 145.7,155.9 146.3,155.8 146.9,155.8 147.5,155.8 148.1,155.8 148.7,155.8 149.3,155.7 149.9,155.7 150.5,155.7 151.1,155.6 151.7,155.6 152.3,155.6 152.9,155.5 153.5,155.5 154.1,155.4 154.7,155.4 155.3,155.3 155.9,155.3 156.4,155.2 157.0,155.1 157.6,155.0 158.2,154.9 158.8,154.8 159.4,154.7 160.0,154.5 160.6,154.4 161.2,154.2 161.8,153.9 162.4,153.7 163.0,153.4 163.6,153.0 164.2,152.6 164.8,152.2 165.4,151.6 166.0,151.0 166.6,150.3 167.2,149.5 167.8,148.5 168.4,147.4 169.0,146.2 169.6,144.9 170.2,143.4 170.8,141.7 171.4,139.9 172.0,137.8 172.6,135.6 173.2,133.3 173.8,130.7 174.4,128.0 175.0,125.2 175.6,122.2 176.2,119.1 176.7,116.0 177.3,112.8 177.9,109.6 178.5,106.4 179.1,103.4 179.7,100.4 180.3,97.7 180.9,95.2 181.5,93.1 182.1,91.3 182.7,89.9 183.3,89.0 183.9,88.6 184.5,88.8 185.1,89.4 185.7,90.7 186.3,92.4 186.9,94.6 187.5,97.1 188.1,99.9 188.7,103.0 189.3,106.1 189.9,109.4 190.5,112.6 191.1,115.9 191.7,119.0 192.3,122.0 192.9,124.9 193.5,127.6 194.1,130.1 194.7,132.4 195.3,134.5 195.9,136.4 196.4,138.1 197.0,139.5 197.6,140.9 198.2,142.0 198.8,143.0 199.4,143.8 200.0,144.5 200.6,145.1 201.2,145.6 201.8,146.0 202.4,146.4 203.0,146.6 203.6,146.9 204.2,147.1 204.8,147.2 205.4,147.4 206.0,147.5 206.6,147.6 207.2,147.7 207.8,147.7 208.4,147.8 209.0,147.9 209.6,147.9 210.2,148.0 210.8,148.0 211.4,148.1 212.0,148.1 212.6,148.2 213.2,148.2 213.8,148.3 214.4,148.3 215.0,148.3 215.6,148.4 216.2,148.4 216.7,148.5 217.3,148.5 217.9,148.6 218.5,148.7 219.1,148.7 219.7,148.8 220.3,148.8 220.9,148.9 221.5,149.0 222.1,149.1 222.7,149.2 223.3,149.3 223.9,149.4 224.5,149.5 225.1,149.6 225.7,149.7 226.3,149.9 226.9,150.0 227.5,150.2 228.1,150.4 228.7,150.6 229.3,150.8 229.9,151.0 230.5,151.2 231.1,151.5 231.7,151.7 232.3,152.0 232.9,152.2 233.5,152.5 234.1,152.7 234.7,153.0 235.3,153.3 235.9,153.5 236.4,153.7 237.0,154.0 237.6,154.2 238.2,154.4 238.8,154.6 239.4,154.7 240.0,154.9 240.6,155.0 241.2,155.2 241.8,155.3 242.4,155.4 243.0,155.5 243.6,155.6 244.2,155.7 244.8,155.7 245.4,155.8 246.0,155.9" fill="none" stroke="#18a018" stroke-width="2" stroke-linejoin="round"/>
<polyline points="66.9,148.8 67.5,149.1 68.1,149.4 68.7,149.6 69.3,149.9 69.9,150.1 70.5,150.3 71.1,150.6 71.7,150.8 72.3,151.0 72.9,151.2 73.5,151.4 74.1,151.6 74.7,151.8 75.3,152.0 75.9,152.2 76.5,152.4 77.0,152.6 77.6,152.7 78.2,152.9 78.8,153.1 79.4,153.2 80.0,153.4 80.6,153.5 81.2,153.7 81.8,153.8 82.4,153.9 83.0,154.1 83.6,154.2 84.2,154.3 84.8,154.4 85.4,154.6 86.0,154.7 86.6,154.8 87.2,154.9 87.8,155.0 88.4,155.1 89.0,155.2 89.6,155.3 90.2,155.4 90.8,155.5 91.4,155.6 92.0,155.7 92.6,155.7 93.2,155.8 93.8,155.9 94.4,156.0 95.0,156.1 95.6,156.1 96.2,156.2 96.8,156.3 97.3,156.3 97.9,156.4 98.5,156.5 99.1,156.5 99.7,156.6 100.3,156.7 100.9,156.7 101.5,156.8 102.1,156.8 102.7,156.9 103.3,156.9 103.9,157.0 104.5,157.0 105.1,157.1 105.7,157.1 106.3,157.2 106.9,157.2 107.5,157.3 108.1,157.3 108.7,157.3 109.3,157.4 109.9,157.4 110.5,157.4 111.1,157.5 111.7,157.5 112.3,157.6 112.9,157.6 113.5,157.6 114.1,157.6 114.7,157.7 115.3,157.7 115.9,157.7 116.5,157.8 117.0,157.8 117.6,157.8 118.2,157.8 118.8,157.9 119.4,157.9 120.0,157.9 120.6,157.9 121.2,158.0 121.8,158.0 122.4,158.0 123.0,158.0 123.6,158.0 124.2,158.1 124.8,158.1 125.4,158.1 126.0,158.1 126.6,158.1 127.2,158.2 127.8,158.2 128.4,158.2 129.0,158.2 129.6,158.2 130.2,158.2 130.8,158.2 131.4,158.3 132.0,158.3 132.6,158.3 133.2,158.3 133.8,158.3 134.4,158.3 135.0,158.3 135.6,158.3 136.2,158.4 136.7,158.4 137.3,158.4 137.9,158.4 138.5,158.4 139.1,158.4 139.7,158.4 140.3,158.4 140.9,158.4 141.5,158.4 142.1,158.5 142.7,158.5 143.3,158.5 143.9,158.5 144.5,158.5 145.1,158.5 145.7,158.5 146.3,158.5 146.9,158.5 147.5,158.5 148.1,158.5 148.7,158.5 149.3,158.5 149.9,158.5 150.5,158.5 151.1,158.5 151.7,158.5 152.3,158.5 152.9,158.5 153.5,158.5 154.1,158.5 154.7,158.5 155.3,158.4 155.9,158.4 156.4,158.3 157.0,158.2 157.6,158.2 158.2,158.0 158.8,157.9 159.4,157.7 160.0,157.5 160.6,157.2 161.2,156.9 161.8,156.6 162.4,156.1 163.0,155.6 163.6,154.9 164.2,154.2 164.8,153.4 165.4,152.4 166.0,151.2 166.6,149.9 167.2,148.5 167.8,146.8 168.4,144.9 169.0,142.8 169.6,140.5 170.2,138.0 170.8,135.2 171.4,132.2 172.0,128.9 172.6,125.4 173.2,121.7 173.8,117.8 174.4,113.7 175.0,109.4 175.6,104.9 176.2,100.4 176.7,95.8 177.3,91.2 177.9,86.6 178.5,82.0 179.1,77.6 179.7,73.4 180.3,69.4 180.9,65.7 181.5,62.3 182.1,59.3 182.7,56.7 183.3,54.6 183.9,52.9 184.5,51.8 185.1,51.2 185.7,51.1 186.3,51.6 186.9,52.8 187.5,54.5 188.1,56.7 188.7,59.5 189.3,62.7 189.9,66.4 190.5,70.4 191.1,74.7 191.7,79.3 192.3,84.0 192.9,88.8 193.5,93.7 194.1,98.5 194.7,103.3 195.3,107.9 195.9,112.5 196.4,116.8 197.0,120.9 197.6,124.7 198.2,128.3 198.8,131.7 199.4,134.7 200.0,137.5 200.6,140.1 201.2,142.3 201.8,144.4 202.4,146.1 203.0,147.7 203.6,149.1 204.2,150.3 204.8,151.3 205.4,152.2 206.0,152.9 206.6,153.6 207.2,154.1 207.8,154.5 208.4,154.9 209.0,155.2 209.6,155.4 210.2,155.6 210.8,155.8 211.4,155.9 212.0,156.0 212.6,156.1 213.2,156.2 213.8,156.2 214.4,156.3 215.0,156.3 215.6,156.3 216.2,156.4 216.7,156.4 217.3,156.4 217.9,156.4 218.5,156.4 219.1,156.5 219.7,156.5 220.3,156.5 220.9,156.5 221.5,156.6 222.1,156.6 222.7,156.6 223.3,156.7 223.9,156.7 224.5,156.8 225.1,156.8 225.7,156.9 226.3,157.0 226.9,157.1 227.5,157.1 228.1,157.2 228.7,157.3 229.3,157.4 229.9,157.6 230.5,157.7 231.1,157.8 231.7,157.9 232.3,158.1 232.9,158.2 233.5,158.4 234.1,158.5 234.7,158.6 235.3,158.8 235.9,158.9 236.4,159.0 237.0,159.1 237.6,159.3 238.2,159.4 238.8,159.5 239.4,159.6 240.0,159.7 240.6,159.7 241.2,159.8 241.8,159.9 242.4,159.9 243.0,160.0 243.6,160.0 244.2,160.1 244.8,160.1 245.4,160.1 246.0,160.2" fill="none" stroke="#ff5a14" stroke-width="2" stroke-linejoin="round"/>
<polyline points="66.9,131.2 67.5,131.7 68.1,132.2 68.7,132.6 69.3,133.1 69.9,133.5 70.5,134.0 71.1,134.4 71.7,134.8 72.3,135.2 72.9,135.7 73.5,136.1 74.1,136.5 74.7,136.8 75.3,137.2 75.9,137.6 76.5,138.0 77.0,138.3 77.6,138.7 78.2,139.0 78.8,139.4 79.4,139.7 80.0,140.0 80.6,140.3 81.2,140.7 81.8,141.0 82.4,141.3 83.0,141.6 83.6,141.9 84.2,142.1 84.8,142.4 85.4,142.7 86.0,143.0 86.6,143.2 87.2,143.5 87.8,143.8 88.4,144.0 89.0,144.3 89.6,144.5 90.2,144.8 90.8,145.0 91.4,145.2 92.0,145.4 92.6,145.7 93.2,145.9 93.8,146.1 94.4,146.3 95.0,146.5 95.6,146.7 96.2,146.9 96.8,147.1 97.3,147.3 97.9,147.5 98.5,147.7 99.1,147.9 99.7,148.0 100.3,148.2 100.9,148.4 101.5,148.5 102.1,148.7 102.7,148.9 103.3,149.0 103.9,149.2 104.5,149.3 105.1,149.5 105.7,149.6 106.3,149.8 106.9,149.9 107.5,150.1 108.1,150.2 108.7,150.3 109.3,150.5 109.9,150.6 110.5,150.7 111.1,150.9 111.7,151.0 112.3,151.1 112.9,151.2 113.5,151.3 114.1,151.4 114.7,151.6 115.3,151.7 115.9,151.8 116.5,151.9 117.0,152.0 117.6,152.1 118.2,152.2 118.8,152.3 119.4,152.4 120.0,152.5 120.6,152.6 121.2,152.7 121.8,152.7 122.4,152.8 123.0,152.9 123.6,153.0 124.2,153.1 124.8,153.2 125.4,153.3 126.0,153.3 126.6,153.4 127.2,153.5 127.8,153.6 128.4,153.6 129.0,153.7 129.6,153.8 130.2,153.8 130.8,153.9 131.4,154.0 132.0,154.0 132.6,154.1 133.2,154.2 133.8,154.2 134.4,154.3 135.0,154.4 135.6,154.4 136.2,154.5 136.7,154.5 137.3,154.6 137.9,154.6 138.5,154.7 139.1,154.7 139.7,154.8 140.3,154.8 140.9,154.9 141.5,154.9 142.1,155.0 142.7,155.0 143.3,155.1 143.9,155.1 144.5,155.2 145.1,155.2 145.7,155.3 146.3,155.3 146.9,155.3 147.5,155.4 148.1,155.4 148.7,155.5 149.3,155.5 149.9,155.5 150.5,155.6 151.1,155.6 151.7,155.6 152.3,155.7 152.9,155.7 153.5,155.7 154.1,155.8 154.7,155.8 155.3,155.8 155.9,155.9 156.4,155.9 157.0,155.9 157.6,156.0 158.2,156.0 158.8,156.0 159.4,156.0 160.0,156.1 160.6,156.1 161.2,156.1 161.8,156.1 162.4,156.1 163.0,156.1 163.6,156.0 164.2,156.0 164.8,155.9 165.4,155.8 166.0,155.6 166.6,155.4 167.2,155.2 167.8,154.9 168.4,154.4 169.0,153.9 169.6,153.3 170.2,152.5 170.8,151.5 171.4,150.3 172.0,148.9 172.6,147.3 173.2,145.4 173.8,143.2 174.4,140.7 175.0,137.9 175.6,134.8 176.2,131.3 176.7,127.5 177.3,123.4 177.9,119.1 178.5,114.5 179.1,109.7 179.7,104.9 180.3,99.9 180.9,95.1 181.5,90.3 182.1,85.7 182.7,81.4 183.3,77.5 183.9,74.1 184.5,71.3 185.1,69.0 185.7,67.4 186.3,66.5 186.9,66.4 187.5,66.8 188.1,67.8 188.7,69.3 189.3,71.3 189.9,73.8 190.5,76.8 191.1,80.0 191.7,83.7 192.3,87.5 192.9,91.6 193.5,95.8 194.1,100.0 194.7,104.3 195.3,108.5 195.9,112.7 196.4,116.7 197.0,120.5 197.6,124.2 198.2,127.6 198.8,130.8 199.4,133.8 200.0,136.5 200.6,139.0 201.2,141.2 201.8,143.2 202.4,144.9 203.0,146.5 203.6,147.8 204.2,149.0 204.8,150.0 205.4,150.8 206.0,151.6 206.6,152.2 207.2,152.7 207.8,153.1 208.4,153.4 209.0,153.7 209.6,153.9 210.2,154.1 210.8,154.3 211.4,154.4 212.0,154.5 212.6,154.6 213.2,154.6 213.8,154.7 214.4,154.7 215.0,154.7 215.6,154.8 216.2,154.8 216.7,154.8 217.3,154.8 217.9,154.9 218.5,154.9 219.1,154.9 219.7,154.9 220.3,155.0 220.9,155.0 221.5,155.1 222.1,155.1 222.7,155.2 223.3,155.2 223.9,155.3 224.5,155.4 225.1,155.4 225.7,155.5 226.3,155.6 226.9,155.8 227.5,155.9 228.1,156.0 228.7,156.2 229.3,156.3 229.9,156.5 230.5,156.7 231.1,156.8 231.7,157.0 232.3,157.2 232.9,157.4 233.5,157.6 234.1,157.8 234.7,158.0 235.3,158.2 235.9,158.4 236.4,158.6 237.0,158.8 237.6,158.9 238.2,159.1 238.8,159.2 239.4,159.4 240.0,159.5 240.6,159.6 241.2,159.7 241.8,159.8 242.4,159.9 243.0,160.0 243.6,160.0 244.2,160.1 244.8,160.1 245.4,160.2 246.0,160.2" fill="none" stroke="#a8d818" stroke-width="2" stroke-linejoin="round"/>
<polyline points="66.9,144.4 67.5,144.7 68.1,144.9 68.7,145.2 69.3,145.4 69.9,145.6 70.5,145.9 71.1,146.1 71.7,146.3 72.3,146.5 72.9,146.8 73.5,147.0 74.1,147.2 74.7,147.4 75.3,147.6 75.9,147.8 76.5,147.9 77.0,148.1 77.6,148.3 78.2,148.5 78.8,148.7 79.4,148.8 80.0,149.0 80.6,149.2 81.2,149.3 81.8,149.5 82.4,149.6 83.0,149.8 83.6,149.9 84.2,150.1 84.8,150.2 85.4,150.3 86.0,150.5 86.6,150.6 87.2,150.7 87.8,150.9 88.4,151.0 89.0,151.1 89.6,151.2 90.2,151.3 90.8,151.5 91.4,151.6 92.0,151.7 92.6,151.8 93.2,151.9 93.8,152.0 94.4,152.1 95.0,152.2 95.6,152.3 96.2,152.4 96.8,152.5 97.3,152.6 97.9,152.6 98.5,152.7 99.1,152.8 99.7,152.9 100.3,153.0 100.9,153.1 101.5,153.1 102.1,153.2 102.7,153.3 103.3,153.3 103.9,153.4 104.5,153.5 105.1,153.6 105.7,153.6 106.3,153.7 106.9,153.7 107.5,153.8 108.1,153.9 108.7,153.9 109.3,154.0 109.9,154.0 110.5,154.1 111.1,154.1 111.7,154.2 112.3,154.2 112.9,154.3 113.5,154.3 114.1,154.4 114.7,154.4 115.3,154.5 115.9,154.5 116.5,154.5 117.0,154.6 117.6,154.6 118.2,154.7 118.8,154.7 119.4,154.7 120.0,154.8 120.6,154.8 121.2,154.8 121.8,154.8 122.4,154.9 123.0,154.9 123.6,154.9 124.2,155.0 124.8,155.0 125.4,155.0 126.0,155.0 126.6,155.0 127.2,155.1 127.8,155.1 128.4,155.1 129.0,155.1 129.6,155.1 130.2,155.1 130.8,155.1 131.4,155.2 132.0,155.2 132.6,155.2 133.2,155.2 133.8,155.2 134.4,155.2 135.0,155.2 135.6,155.2 136.2,155.2 136.7,155.2 137.3,155.2 137.9,155.2 138.5,155.2 139.1,155.2 139.7,155.2 140.3,155.2 140.9,155.1 141.5,155.1 142.1,155.1 142.7,155.1 143.3,155.1 143.9,155.1 144.5,155.0 145.1,155.0 145.7,155.0 146.3,155.0 146.9,154.9 147.5,154.9 148.1,154.8 148.7,154.8 149.3,154.8 149.9,154.7 150.5,154.7 151.1,154.6 151.7,154.6 152.3,154.5 152.9,154.4 153.5,154.4 154.1,154.3 154.7,154.2 155.3,154.1 155.9,154.0 156.4,153.9 157.0,153.8 157.6,153.7 158.2,153.6 158.8,153.5 159.4,153.3 160.0,153.2 160.6,153.0 161.2,152.8 161.8,152.6 162.4,152.4 163.0,152.2 163.6,152.0 164.2,151.7 164.8,151.4 165.4,151.1 166.0,150.7 166.6,150.3 167.2,149.8 167.8,149.3 168.4,148.6 169.0,147.9 169.6,147.0 170.2,146.0 170.8,144.8 171.4,143.4 172.0,141.8 172.6,139.9 173.2,137.7 173.8,135.2 174.4,132.3 175.0,129.0 175.6,125.3 176.2,121.1 176.7,116.5 177.3,111.4 177.9,105.8 178.5,99.8 179.1,93.4 179.7,86.7 180.3,79.7 180.9,72.6 181.5,65.4 182.1,58.5 182.7,51.8 183.3,45.8 183.9,40.5 184.5,36.3 185.1,33.3 185.7,31.7 186.3,31.6 186.9,33.0 187.5,35.8 188.1,39.8 188.7,44.9 189.3,50.7 189.9,57.1 190.5,63.9 191.1,70.8 191.7,77.6 192.3,84.4 192.9,90.8 193.5,96.9 194.1,102.6 194.7,107.9 195.3,112.7 195.9,117.1 196.4,121.0 197.0,124.4 197.6,127.4 198.2,130.0 198.8,132.3 199.4,134.2 200.0,135.9 200.6,137.3 201.2,138.4 201.8,139.4 202.4,140.3 203.0,141.0 203.6,141.6 204.2,142.1 204.8,142.5 205.4,142.9 206.0,143.2 206.6,143.5 207.2,143.8 207.8,144.0 208.4,144.2 209.0,144.4 209.6,144.6 210.2,144.8 210.8,144.9 211.4,145.1 212.0,145.2 212.6,145.4 213.2,145.5 213.8,145.6 214.4,145.8 215.0,145.9 215.6,146.0 216.2,146.1 216.7,146.2 217.3,146.3 217.9,146.4 218.5,146.5 219.1,146.6 219.7,146.7 220.3,146.9 220.9,147.0 221.5,147.1 222.1,147.2 222.7,147.3 223.3,147.4 223.9,147.5 224.5,147.6 225.1,147.8 225.7,147.9 226.3,148.1 226.9,148.2 227.5,148.4 228.1,148.5 228.7,148.7 229.3,148.9 229.9,149.1 230.5,149.3 231.1,149.5 231.7,149.7 232.3,149.9 232.9,150.1 233.5,150.4 234.1,150.6 234.7,150.8 235.3,151.0 235.9,151.2 236.4,151.4 237.0,151.6 237.6,151.8 238.2,152.0 238.8,152.1 239.4,152.3 240.0,152.4 240.6,152.5 241.2,152.6 241.8,152.8 242.4,152.9 243.0,152.9 243.6,153.0 244.2,153.1 244.8,153.2 245.4,153.2 246.0,153.3" fill="none" stroke="#3a0808" stroke-width="2" stroke-linejoin="round"/>
<polyline points="66.9,144.2 67.5,144.5 68.1,144.7 68.7,145.0 69.3,145.2 69.9,145.5 70.5,145.7 71.1,145.9 71.7,146.2 72.3,146.4 72.9,146.6 73.5,146.8 74.1,147.0 74.7,147.2 75.3,147.4 75.9,147.6 76.5,147.8 77.0,148.0 77.6,148.2 78.2,148.4 78.8,148.6 79.4,148.7 80.0,148.9 80.6,149.1 81.2,149.2 81.8,149.4 82.4,149.6 83.0,149.7 83.6,149.9 84.2,150.0 84.8,150.2 85.4,150.3 86.0,150.4 86.6,150.6 87.2,150.7 87.8,150.8 88.4,151.0 89.0,151.1 89.6,151.2 90.2,151.3 90.8,151.5 91.4,151.6 92.0,151.7 92.6,151.8 93.2,151.9 93.8,152.0 94.4,152.1 95.0,152.2 95.6,152.3 96.2,152.4 96.8,152.5 97.3,152.6 97.9,152.7 98.5,152.8 99.1,152.9 99.7,153.0 100.3,153.1 100.9,153.1 101.5,153.2 102.1,153.3 102.7,153.4 103.3,153.5 103.9,153.5 104.5,153.6 105.1,153.7 105.7,153.8 106.3,153.8 106.9,153.9 107.5,154.0 108.1,154.0 108.7,154.1 109.3,154.1 109.9,154.2 110.5,154.3 111.1,154.3 111.7,154.4 112.3,154.4 112.9,154.5 113.5,154.5 114.1,154.6 114.7,154.6 115.3,154.7 115.9,154.7 116.5,154.8 117.0,154.8 117.6,154.9 118.2,154.9 118.8,154.9 119.4,155.0 120.0,155.0 120.6,155.1 121.2,155.1 121.8,155.1 122.4,155.2 123.0,155.2 123.6,155.2 124.2,155.3 124.8,155.3" fill="none" stroke="#1a24d6" stroke-width="2" stroke-linejoin="round"/>
<text x="112.9" y="48.0" font-size="10" font-family="Liberation Sans, sans-serif" fill="#222" stroke="#222" stroke-width="0.2" textLength="59.5" lengthAdjust="spacingAndGlyphs">350 ng mL<tspan dy="-4" font-size="7">−1</tspan></text>
<text x="112.9" y="58.5" font-size="10" font-family="Liberation Sans, sans-serif" fill="#222" stroke="#222" stroke-width="0.2" textLength="54" lengthAdjust="spacingAndGlyphs">35 ng mL<tspan dy="-4" font-size="7">−1</tspan></text>
<text x="112.9" y="69.1" font-size="10" font-family="Liberation Sans, sans-serif" fill="#222" stroke="#222" stroke-width="0.2" textLength="57" lengthAdjust="spacingAndGlyphs">3.5 ng mL<tspan dy="-4" font-size="7">−1</tspan></text>
<text x="112.9" y="79.7" font-size="10" font-family="Liberation Sans, sans-serif" fill="#222" stroke="#222" stroke-width="0.2" textLength="59.5" lengthAdjust="spacingAndGlyphs">350 pg mL<tspan dy="-4" font-size="7">−1</tspan></text>
<text x="112.9" y="90.2" font-size="10" font-family="Liberation Sans, sans-serif" fill="#222" stroke="#222" stroke-width="0.2" textLength="54" lengthAdjust="spacingAndGlyphs">35 pg mL<tspan dy="-4" font-size="7">−1</tspan></text>
<text x="112.9" y="100.8" font-size="10" font-family="Liberation Sans, sans-serif" fill="#222" stroke="#222" stroke-width="0.2" textLength="57" lengthAdjust="spacingAndGlyphs">3.5 pg mL<tspan dy="-4" font-size="7">−1</tspan></text>
<text x="112.9" y="111.3" font-size="10" font-family="Liberation Sans, sans-serif" fill="#222" stroke="#222" stroke-width="0.2" textLength="57" lengthAdjust="spacingAndGlyphs">350 fg mL<tspan dy="-4" font-size="7">−1</tspan></text>
<text x="112.9" y="121.9" font-size="10" font-family="Liberation Sans, sans-serif" fill="#222" stroke="#222" stroke-width="0.2" textLength="51.5" lengthAdjust="spacingAndGlyphs">35 fg mL<tspan dy="-4" font-size="7">−1</tspan></text>
<text x="112.9" y="132.4" font-size="10" font-family="Liberation Sans, sans-serif" fill="#222" stroke="#222" stroke-width="0.2" textLength="5.6" lengthAdjust="spacingAndGlyphs">0</text>
<line x1="100.9" y1="39.5" x2="100.9" y2="129.5" stroke="#000" stroke-width="2"/>
<path d="M97.30000000000001,124.5 L100.9,137.5 L104.5,124.5 L100.9,128.5 Z" fill="#000"/>
<text transform="translate(12.5,104.4) rotate(-90)" font-size="14.5" text-anchor="middle" font-family="Liberation Sans, sans-serif" fill="#111" stroke="#111" stroke-width="0.22" textLength="38" lengthAdjust="spacingAndGlyphs"><tspan font-style="italic">i</tspan> (µA)</text>
<text x="105.3" y="216.3" font-size="15.5" font-family="Liberation Sans, sans-serif" fill="#111" stroke="#111" stroke-width="0.22" textLength="95.5" lengthAdjust="spacingAndGlyphs"><tspan font-style="italic">E</tspan> (V) vs. SCE</text>
<rect x="49.6" y="236.6" width="213.79999999999998" height="153.20000000000002" fill="none" stroke="#000" stroke-width="1.9"/>
<line x1="49.6" y1="374.6" x2="53.800000000000004" y2="374.6" stroke="#000" stroke-width="1.6"/>
<text x="44.6" y="379.8" font-size="14.6" text-anchor="end" font-family="Liberation Sans, sans-serif" fill="#111" stroke="#111" stroke-width="0.22" textLength="7.6" lengthAdjust="spacingAndGlyphs" >0</text>
<line x1="49.6" y1="336.3" x2="53.800000000000004" y2="336.3" stroke="#000" stroke-width="1.6"/>
<text x="44.6" y="341.5" font-size="14.6" text-anchor="end" font-family="Liberation Sans, sans-serif" fill="#111" stroke="#111" stroke-width="0.22" textLength="15.2" lengthAdjust="spacingAndGlyphs" >50</text>
<line x1="49.6" y1="298.0" x2="53.800000000000004" y2="298.0" stroke="#000" stroke-width="1.6"/>
<text x="44.6" y="303.2" font-size="14.6" text-anchor="end" font-family="Liberation Sans, sans-serif" fill="#111" stroke="#111" stroke-width="0.22" textLength="22.799999999999997" lengthAdjust="spacingAndGlyphs" >100</text>
<line x1="49.6" y1="259.7" x2="53.800000000000004" y2="259.7" stroke="#000" stroke-width="1.6"/>
<text x="44.6" y="264.9" font-size="14.6" text-anchor="end" font-family="Liberation Sans, sans-serif" fill="#111" stroke="#111" stroke-width="0.22" textLength="22.799999999999997" lengthAdjust="spacingAndGlyphs" >150</text>
<line x1="67.3" y1="389.8" x2="67.3" y2="385.8" stroke="#000" stroke-width="1.6"/>
<text x="67.8" y="405.8" font-size="14.6" text-anchor="middle" font-family="Liberation Sans, sans-serif" fill="#111" stroke="#111" stroke-width="0.22" textLength="29.6" lengthAdjust="spacingAndGlyphs" >−0.5</text>
<line x1="103.2" y1="389.8" x2="103.2" y2="385.8" stroke="#000" stroke-width="1.6"/>
<text x="103.7" y="405.8" font-size="14.6" text-anchor="middle" font-family="Liberation Sans, sans-serif" fill="#111" stroke="#111" stroke-width="0.22" textLength="29.6" lengthAdjust="spacingAndGlyphs" >−0.4</text>
<line x1="139.2" y1="389.8" x2="139.2" y2="385.8" stroke="#000" stroke-width="1.6"/>
<text x="139.7" y="405.8" font-size="14.6" text-anchor="middle" font-family="Liberation Sans, sans-serif" fill="#111" stroke="#111" stroke-width="0.22" textLength="29.6" lengthAdjust="spacingAndGlyphs" >−0.3</text>
<line x1="175.1" y1="389.8" x2="175.1" y2="385.8" stroke="#000" stroke-width="1.6"/>
<text x="175.6" y="405.8" font-size="14.6" text-anchor="middle" font-family="Liberation Sans, sans-serif" fill="#111" stroke="#111" stroke-width="0.22" textLength="29.6" lengthAdjust="spacingAndGlyphs" >−0.2</text>
<line x1="211.1" y1="389.8" x2="211.1" y2="385.8" stroke="#000" stroke-width="1.6"/>
<text x="211.6" y="405.8" font-size="14.6" text-anchor="middle" font-family="Liberation Sans, sans-serif" fill="#111" stroke="#111" stroke-width="0.22" textLength="29.6" lengthAdjust="spacingAndGlyphs" >−0.1</text>
<line x1="247.0" y1="389.8" x2="247.0" y2="385.8" stroke="#000" stroke-width="1.6"/>
<text x="247.5" y="405.8" font-size="14.6" text-anchor="middle" font-family="Liberation Sans, sans-serif" fill="#111" stroke="#111" stroke-width="0.22" textLength="20.6" lengthAdjust="spacingAndGlyphs" >0.0</text>
<polyline points="67.3,373.6 67.9,373.6 68.5,373.6 69.1,373.6 69.7,373.6 70.3,373.6 70.9,373.6 71.5,373.6 72.1,373.6 72.7,373.6 73.3,373.6 73.9,373.6 74.5,373.6 75.1,373.6 75.7,373.6 76.3,373.6 76.9,373.6 77.5,373.6 78.1,373.6 78.7,373.6 79.3,373.6 79.9,373.6 80.5,373.6 81.1,373.6 81.7,373.6 82.3,373.6 82.9,373.6 83.5,373.6 84.1,373.6 84.7,373.6 85.3,373.6 85.9,373.6 86.5,373.6 87.1,373.6 87.7,373.6 88.3,373.6 88.9,373.6 89.5,373.6 90.1,373.6 90.7,373.6 91.3,373.6 91.9,373.6 92.5,373.6 93.1,373.6 93.7,373.6 94.3,373.6 94.9,373.6 95.5,373.6 96.1,373.6 96.7,373.6 97.3,373.6 97.9,373.6 98.5,373.6 99.1,373.6 99.7,373.6 100.3,373.6 100.9,373.6 101.5,373.6 102.1,373.6 102.7,373.6 103.3,373.6 103.9,373.6 104.5,373.6 105.1,373.6 105.7,373.6 106.3,373.6 106.9,373.6 107.5,373.6 108.1,373.6 108.7,373.6 109.3,373.6 109.9,373.6 110.5,373.6 111.1,373.6 111.7,373.6 112.2,373.6 112.8,373.6 113.4,373.6 114.0,373.6 114.6,373.6 115.2,373.6 115.8,373.6 116.4,373.6 117.0,373.6 117.6,373.6 118.2,373.6 118.8,373.6 119.4,373.6 120.0,373.6 120.6,373.6 121.2,373.6 121.8,373.6 122.4,373.6 123.0,373.6 123.6,373.6 124.2,373.6 124.8,373.6 125.4,373.6 126.0,373.6 126.6,373.6 127.2,373.6 127.8,373.6 128.4,373.6 129.0,373.6 129.6,373.6 130.2,373.6 130.8,373.6 131.4,373.6 132.0,373.6 132.6,373.6 133.2,373.6 133.8,373.6 134.4,373.6 135.0,373.6 135.6,373.6 136.2,373.6 136.8,373.6 137.4,373.6 138.0,373.6 138.6,373.6 139.2,373.6 139.8,373.5 140.4,373.5 141.0,373.5 141.6,373.5 142.2,373.5 142.8,373.5 143.4,373.5 144.0,373.5 144.6,373.5 145.2,373.5 145.8,373.5 146.4,373.5 147.0,373.5 147.6,373.5 148.2,373.5 148.8,373.4 149.4,373.4 150.0,373.4 150.6,373.4 151.2,373.4 151.8,373.4 152.4,373.4 153.0,373.4 153.6,373.3 154.2,373.3 154.8,373.3 155.4,373.3 156.0,373.3 156.6,373.3 157.2,373.3 157.8,373.2 158.4,373.2 159.0,373.2 159.6,373.2 160.2,373.2 160.8,373.2 161.4,373.1 162.0,373.1 162.6,373.1 163.2,373.1 163.8,373.1 164.4,373.0 165.0,373.0 165.6,373.0 166.2,373.0 166.8,373.0 167.4,373.0 168.0,372.9 168.6,372.9 169.2,372.9 169.8,372.9 170.4,372.9 171.0,372.8 171.6,372.8 172.2,372.8 172.8,372.8 173.4,372.8 174.0,372.8 174.6,372.8 175.2,372.8 175.8,372.7 176.4,372.7 177.0,372.7 177.6,372.7 178.2,372.7 178.8,372.7 179.4,372.7 180.0,372.7 180.6,372.7 181.2,372.7 181.8,372.7 182.4,372.7 183.0,372.7 183.6,372.6 184.2,372.6 184.8,372.6 185.4,372.6 186.0,372.6 186.6,372.6 187.2,372.6 187.8,372.6 188.4,372.6 189.0,372.6 189.6,372.6 190.2,372.6 190.8,372.6 191.4,372.6 192.0,372.6 192.6,372.6 193.2,372.6 193.8,372.6 194.4,372.6 195.0,372.5 195.6,372.5 196.2,372.5 196.8,372.5 197.4,372.5 198.0,372.5 198.6,372.5 199.2,372.5 199.8,372.5 200.4,372.5 201.0,372.5 201.6,372.4 202.2,372.4 202.7,372.4 203.3,372.4 203.9,372.4 204.5,372.5 205.1,372.5 205.7,372.5 206.3,372.5 206.9,372.5 207.5,372.5 208.1,372.5 208.7,372.5 209.3,372.5 209.9,372.5 210.5,372.5 211.1,372.5 211.7,372.5 212.3,372.6 212.9,372.6 213.5,372.6 214.1,372.6 214.7,372.6 215.3,372.6 215.9,372.6 216.5,372.6 217.1,372.6 217.7,372.6 218.3,372.6 218.9,372.7 219.5,372.7 220.1,372.7 220.7,372.7 221.3,372.7 221.9,372.7 222.5,372.7 223.1,372.7 223.7,372.7 224.3,372.7 224.9,372.7 225.5,372.7 226.1,372.7 226.7,372.7 227.3,372.7 227.9,372.7 228.5,372.7 229.1,372.7 229.7,372.7 230.3,372.7 230.9,372.7 231.5,372.7 232.1,372.7 232.7,372.7 233.3,372.7 233.9,372.7 234.5,372.7 235.1,372.7 235.7,372.8 236.3,372.8 236.9,372.8 237.5,372.8 238.1,372.8 238.7,372.8 239.3,372.8 239.9,372.8 240.5,372.8 241.1,372.8 241.7,372.8 242.3,372.8 242.9,372.8 243.5,372.8 244.1,372.8 244.7,372.8 245.3,372.8 245.9,372.8 246.5,372.8 247.1,372.8" fill="none" stroke="#ff5a14" stroke-width="2" stroke-linejoin="round"/>
<polyline points="67.3,373.6 67.9,373.6 68.5,373.6 69.1,373.6 69.7,373.6 70.3,373.6 70.9,373.6 71.5,373.6 72.1,373.6 72.7,373.6 73.3,373.6 73.9,373.6 74.5,373.6 75.1,373.6 75.7,373.6 76.3,373.6 76.9,373.6 77.5,373.6 78.1,373.6 78.7,373.6 79.3,373.6 79.9,373.6 80.5,373.6 81.1,373.6 81.7,373.6 82.3,373.6 82.9,373.6 83.5,373.6 84.1,373.6 84.7,373.6 85.3,373.6 85.9,373.6 86.5,373.6 87.1,373.6 87.7,373.6 88.3,373.6 88.9,373.6 89.5,373.6 90.1,373.6 90.7,373.6 91.3,373.6 91.9,373.6 92.5,373.6 93.1,373.6 93.7,373.6 94.3,373.6 94.9,373.6 95.5,373.6 96.1,373.6 96.7,373.6 97.3,373.6 97.9,373.6 98.5,373.6 99.1,373.6 99.7,373.6 100.3,373.6 100.9,373.6 101.5,373.6 102.1,373.6 102.7,373.6 103.3,373.6 103.9,373.6 104.5,373.6 105.1,373.6 105.7,373.6 106.3,373.6 106.9,373.6 107.5,373.6 108.1,373.6 108.7,373.6 109.3,373.6 109.9,373.6 110.5,373.5 111.1,373.5 111.7,373.5 112.2,373.5 112.8,373.5 113.4,373.5 114.0,373.5 114.6,373.5 115.2,373.5 115.8,373.5 116.4,373.5 117.0,373.5 117.6,373.5 118.2,373.5 118.8,373.5 119.4,373.5 120.0,373.5 120.6,373.5 121.2,373.5 121.8,373.5 122.4,373.5 123.0,373.5 123.6,373.5 124.2,373.5 124.8,373.5 125.4,373.5 126.0,373.5 126.6,373.5 127.2,373.5 127.8,373.5 128.4,373.5 129.0,373.5 129.6,373.5 130.2,373.5 130.8,373.5 131.4,373.5 132.0,373.5 132.6,373.5 133.2,373.5 133.8,373.5 134.4,373.5 135.0,373.5 135.6,373.5 136.2,373.5 136.8,373.5 137.4,373.5 138.0,373.5 138.6,373.5 139.2,373.5 139.8,373.4 140.4,373.4 141.0,373.4 141.6,373.4 142.2,373.4 142.8,373.4 143.4,373.4 144.0,373.4 144.6,373.4 145.2,373.4 145.8,373.4 146.4,373.4 147.0,373.4 147.6,373.4 148.2,373.3 148.8,373.3 149.4,373.3 150.0,373.3 150.6,373.3 151.2,373.2 151.8,373.2 152.4,373.2 153.0,373.2 153.6,373.1 154.2,373.1 154.8,373.0 155.4,373.0 156.0,372.9 156.6,372.8 157.2,372.8 157.8,372.7 158.4,372.6 159.0,372.5 159.6,372.3 160.2,372.2 160.8,372.0 161.4,371.9 162.0,371.7 162.6,371.5 163.2,371.2 163.8,371.0 164.4,370.8 165.0,370.5 165.6,370.2 166.2,369.9 166.8,369.5 167.4,369.2 168.0,368.8 168.6,368.4 169.2,368.1 169.8,367.7 170.4,367.2 171.0,366.8 171.6,366.4 172.2,366.0 172.8,365.6 173.4,365.2 174.0,364.8 174.6,364.4 175.2,364.1 175.8,363.7 176.4,363.4 177.0,363.2 177.6,362.9 178.2,362.8 178.8,362.6 179.4,362.5 180.0,362.5 180.6,362.5 181.2,362.5 181.8,362.7 182.4,362.9 183.0,363.1 183.6,363.4 184.2,363.8 184.8,364.2 185.4,364.6 186.0,365.0 186.6,365.5 187.2,366.0 187.8,366.4 188.4,366.9 189.0,367.4 189.6,367.8 190.2,368.2 190.8,368.6 191.4,369.0 192.0,369.4 192.6,369.7 193.2,370.0 193.8,370.3 194.4,370.5 195.0,370.7 195.6,370.9 196.2,371.1 196.8,371.2 197.4,371.3 198.0,371.4 198.6,371.5 199.2,371.6 199.8,371.6 200.4,371.7 201.0,371.7 201.6,371.7 202.2,371.8 202.7,371.8 203.3,371.8 203.9,371.8 204.5,371.8 205.1,371.8 205.7,371.8 206.3,371.8 206.9,371.8 207.5,371.8 208.1,371.8 208.7,371.8 209.3,371.8 209.9,371.8 210.5,371.8 211.1,371.8 211.7,371.8 212.3,371.8 212.9,371.8 213.5,371.8 214.1,371.8 214.7,371.8 215.3,371.8 215.9,371.8 216.5,371.8 217.1,371.8 217.7,371.8 218.3,371.8 218.9,371.8 219.5,371.8 220.1,371.8 220.7,371.8 221.3,371.8 221.9,371.8 222.5,371.8 223.1,371.8 223.7,371.8 224.3,371.8 224.9,371.7 225.5,371.7 226.1,371.7 226.7,371.7 227.3,371.7 227.9,371.7 228.5,371.7 229.1,371.7 229.7,371.6 230.3,371.6 230.9,371.6 231.5,371.6 232.1,371.5 232.7,371.5 233.3,371.5 233.9,371.5 234.5,371.4 235.1,371.4 235.7,371.4 236.3,371.4 236.9,371.3 237.5,371.3 238.1,371.3 238.7,371.3 239.3,371.2 239.9,371.2 240.5,371.2 241.1,371.2 241.7,371.2 242.3,371.1 242.9,371.1 243.5,371.1 244.1,371.1 244.7,371.1 245.3,371.1 245.9,371.1 246.5,371.1 247.1,371.1" fill="none" stroke="#3a0808" stroke-width="2" stroke-linejoin="round"/>
<polyline points="67.3,373.5 67.9,373.5 68.5,373.5 69.1,373.5 69.7,373.5 70.3,373.5 70.9,373.5 71.5,373.5 72.1,373.5 72.7,373.5 73.3,373.5 73.9,373.5 74.5,373.5 75.1,373.5 75.7,373.5 76.3,373.5 76.9,373.5 77.5,373.5 78.1,373.5 78.7,373.5 79.3,373.5 79.9,373.5 80.5,373.5 81.1,373.5 81.7,373.5 82.3,373.5 82.9,373.5 83.5,373.5 84.1,373.5 84.7,373.5 85.3,373.5 85.9,373.5 86.5,373.5 87.1,373.5 87.7,373.5 88.3,373.5 88.9,373.5 89.5,373.5 90.1,373.4 90.7,373.4 91.3,373.4 91.9,373.4 92.5,373.4 93.1,373.4 93.7,373.4 94.3,373.4 94.9,373.4 95.5,373.4 96.1,373.4 96.7,373.4 97.3,373.4 97.9,373.4 98.5,373.4 99.1,373.4 99.7,373.4 100.3,373.4 100.9,373.4 101.5,373.4 102.1,373.4 102.7,373.4 103.3,373.4 103.9,373.4 104.5,373.4 105.1,373.4 105.7,373.4 106.3,373.4 106.9,373.4 107.5,373.4 108.1,373.4 108.7,373.4 109.3,373.4 109.9,373.4 110.5,373.4 111.1,373.3 111.7,373.3 112.2,373.3 112.8,373.3 113.4,373.3 114.0,373.3 114.6,373.3 115.2,373.3 115.8,373.3 116.4,373.3 117.0,373.3 117.6,373.3 118.2,373.3 118.8,373.3 119.4,373.3 120.0,373.3 120.6,373.3 121.2,373.3 121.8,373.2 122.4,373.2 123.0,373.2 123.6,373.2 124.2,373.2 124.8,373.2 125.4,373.2 126.0,373.2 126.6,373.2 127.2,373.2 127.8,373.2 128.4,373.2 129.0,373.2 129.6,373.1 130.2,373.1 130.8,373.1 131.4,373.1 132.0,373.1 132.6,373.1 133.2,373.1 133.8,373.1 134.4,373.0 135.0,373.0 135.6,373.0 136.2,373.0 136.8,373.0 137.4,373.0 138.0,373.0 138.6,372.9 139.2,372.9 139.8,372.9 140.4,372.9 141.0,372.9 141.6,372.8 142.2,372.8 142.8,372.8 143.4,372.7 144.0,372.7 144.6,372.7 145.2,372.6 145.8,372.6 146.4,372.6 147.0,372.5 147.6,372.5 148.2,372.4 148.8,372.3 149.4,372.3 150.0,372.2 150.6,372.1 151.2,372.0 151.8,371.9 152.4,371.8 153.0,371.6 153.6,371.5 154.2,371.3 154.8,371.2 155.4,371.0 156.0,370.8 156.6,370.5 157.2,370.3 157.8,370.0 158.4,369.7 159.0,369.4 159.6,369.1 160.2,368.7 160.8,368.3 161.4,367.8 162.0,367.4 162.6,366.9 163.2,366.3 163.8,365.8 164.4,365.2 165.0,364.6 165.6,363.9 166.2,363.2 166.8,362.5 167.4,361.7 168.0,361.0 168.6,360.2 169.2,359.4 169.8,358.5 170.4,357.7 171.0,356.8 171.6,356.0 172.2,355.1 172.8,354.3 173.4,353.4 174.0,352.6 174.6,351.8 175.2,351.1 175.8,350.3 176.4,349.7 177.0,349.0 177.6,348.5 178.2,348.0 178.8,347.6 179.4,347.2 180.0,347.0 180.6,346.8 181.2,346.7 181.8,346.8 182.4,346.9 183.0,347.1 183.6,347.5 184.2,347.9 184.8,348.4 185.4,349.0 186.0,349.6 186.6,350.3 187.2,351.1 187.8,351.9 188.4,352.7 189.0,353.6 189.6,354.5 190.2,355.3 190.8,356.2 191.4,357.1 192.0,357.9 192.6,358.8 193.2,359.6 193.8,360.4 194.4,361.1 195.0,361.8 195.6,362.5 196.2,363.2 196.8,363.8 197.4,364.4 198.0,364.9 198.6,365.4 199.2,365.9 199.8,366.4 200.4,366.8 201.0,367.2 201.6,367.5 202.2,367.8 202.7,368.1 203.3,368.4 203.9,368.6 204.5,368.9 205.1,369.1 205.7,369.2 206.3,369.4 206.9,369.6 207.5,369.7 208.1,369.8 208.7,369.9 209.3,370.0 209.9,370.1 210.5,370.2 211.1,370.3 211.7,370.3 212.3,370.4 212.9,370.4 213.5,370.5 214.1,370.5 214.7,370.6 215.3,370.6 215.9,370.7 216.5,370.7 217.1,370.7 217.7,370.7 218.3,370.8 218.9,370.8 219.5,370.8 220.1,370.8 220.7,370.8 221.3,370.9 221.9,370.9 222.5,370.9 223.1,370.9 223.7,370.9 224.3,370.9 224.9,370.9 225.5,370.9 226.1,370.9 226.7,370.9 227.3,370.9 227.9,370.9 228.5,370.9 229.1,370.9 229.7,370.9 230.3,370.9 230.9,370.9 231.5,370.9 232.1,370.9 232.7,370.9 233.3,370.9 233.9,370.9 234.5,370.8 235.1,370.8 235.7,370.8 236.3,370.8 236.9,370.8 237.5,370.8 238.1,370.8 238.7,370.8 239.3,370.7 239.9,370.7 240.5,370.7 241.1,370.7 241.7,370.7 242.3,370.7 242.9,370.7 243.5,370.7 244.1,370.7 244.7,370.7 245.3,370.7 245.9,370.7 246.5,370.7 247.1,370.7" fill="none" stroke="#6a12e6" stroke-width="2" stroke-linejoin="round"/>
<polyline points="67.3,373.4 67.9,373.4 68.5,373.4 69.1,373.4 69.7,373.4 70.3,373.4 70.9,373.4 71.5,373.4 72.1,373.4 72.7,373.4 73.3,373.4 73.9,373.4 74.5,373.4 75.1,373.4 75.7,373.4 76.3,373.4 76.9,373.4 77.5,373.4 78.1,373.4 78.7,373.4 79.3,373.3 79.9,373.3 80.5,373.3 81.1,373.3 81.7,373.3 82.3,373.3 82.9,373.3 83.5,373.3 84.1,373.3 84.7,373.3 85.3,373.3 85.9,373.3 86.5,373.3 87.1,373.3 87.7,373.3 88.3,373.3 88.9,373.3 89.5,373.3 90.1,373.3 90.7,373.3 91.3,373.3 91.9,373.3 92.5,373.3 93.1,373.3 93.7,373.3 94.3,373.3 94.9,373.3 95.5,373.2 96.1,373.2 96.7,373.2 97.3,373.2 97.9,373.2 98.5,373.2 99.1,373.2 99.7,373.2 100.3,373.2 100.9,373.2 101.5,373.2 102.1,373.2 102.7,373.2 103.3,373.2 103.9,373.2 104.5,373.2 105.1,373.2 105.7,373.1 106.3,373.1 106.9,373.1 107.5,373.1 108.1,373.1 108.7,373.1 109.3,373.1 109.9,373.1 110.5,373.1 111.1,373.1 111.7,373.1 112.2,373.1 112.8,373.1 113.4,373.0 114.0,373.0 114.6,373.0 115.2,373.0 115.8,373.0 116.4,373.0 117.0,373.0 117.6,373.0 118.2,373.0 118.8,372.9 119.4,372.9 120.0,372.9 120.6,372.9 121.2,372.9 121.8,372.9 122.4,372.9 123.0,372.9 123.6,372.8 124.2,372.8 124.8,372.8 125.4,372.8 126.0,372.8 126.6,372.8 127.2,372.7 127.8,372.7 128.4,372.7 129.0,372.7 129.6,372.7 130.2,372.6 130.8,372.6 131.4,372.6 132.0,372.6 132.6,372.6 133.2,372.5 133.8,372.5 134.4,372.5 135.0,372.4 135.6,372.4 136.2,372.4 136.8,372.4 137.4,372.3 138.0,372.3 138.6,372.2 139.2,372.2 139.8,372.2 140.4,372.1 141.0,372.1 141.6,372.0 142.2,371.9 142.8,371.9 143.4,371.8 144.0,371.7 144.6,371.7 145.2,371.6 145.8,371.5 146.4,371.4 147.0,371.3 147.6,371.2 148.2,371.1 148.8,370.9 149.4,370.8 150.0,370.6 150.6,370.4 151.2,370.2 151.8,370.0 152.4,369.8 153.0,369.5 153.6,369.3 154.2,369.0 154.8,368.7 155.4,368.3 156.0,367.9 156.6,367.5 157.2,367.1 157.8,366.7 158.4,366.2 159.0,365.6 159.6,365.1 160.2,364.5 160.8,363.8 161.4,363.2 162.0,362.4 162.6,361.7 163.2,360.9 163.8,360.1 164.4,359.2 165.0,358.3 165.6,357.4 166.2,356.4 166.8,355.4 167.4,354.4 168.0,353.3 168.6,352.2 169.2,351.1 169.8,350.0 170.4,348.9 171.0,347.7 171.6,346.6 172.2,345.5 172.8,344.3 173.4,343.2 174.0,342.2 174.6,341.1 175.2,340.1 175.8,339.2 176.4,338.3 177.0,337.4 177.6,336.7 178.2,336.0 178.8,335.4 179.4,334.9 180.0,334.6 180.6,334.3 181.2,334.1 181.8,334.1 182.4,334.2 183.0,334.4 183.6,334.8 184.2,335.2 184.8,335.8 185.4,336.6 186.0,337.4 186.6,338.3 187.2,339.2 187.8,340.3 188.4,341.4 189.0,342.5 189.6,343.7 190.2,344.9 190.8,346.1 191.4,347.3 192.0,348.5 192.6,349.6 193.2,350.8 193.8,351.9 194.4,353.0 195.0,354.1 195.6,355.2 196.2,356.2 196.8,357.1 197.4,358.0 198.0,358.9 198.6,359.7 199.2,360.5 199.8,361.3 200.4,362.0 201.0,362.6 201.6,363.2 202.2,363.8 202.7,364.3 203.3,364.8 203.9,365.3 204.5,365.7 205.1,366.1 205.7,366.5 206.3,366.8 206.9,367.1 207.5,367.4 208.1,367.7 208.7,367.9 209.3,368.1 209.9,368.3 210.5,368.5 211.1,368.7 211.7,368.8 212.3,369.0 212.9,369.1 213.5,369.2 214.1,369.3 214.7,369.4 215.3,369.5 215.9,369.6 216.5,369.6 217.1,369.7 217.7,369.8 218.3,369.8 218.9,369.9 219.5,369.9 220.1,370.0 220.7,370.0 221.3,370.0 221.9,370.1 222.5,370.1 223.1,370.1 223.7,370.2 224.3,370.2 224.9,370.2 225.5,370.3 226.1,370.3 226.7,370.3 227.3,370.3 227.9,370.3 228.5,370.3 229.1,370.3 229.7,370.4 230.3,370.4 230.9,370.4 231.5,370.4 232.1,370.4 232.7,370.4 233.3,370.4 233.9,370.4 234.5,370.4 235.1,370.4 235.7,370.4 236.3,370.4 236.9,370.4 237.5,370.4 238.1,370.4 238.7,370.4 239.3,370.4 239.9,370.4 240.5,370.4 241.1,370.4 241.7,370.4 242.3,370.4 242.9,370.4 243.5,370.4 244.1,370.4 244.7,370.4 245.3,370.4 245.9,370.4 246.5,370.4 247.1,370.4" fill="none" stroke="#1a24d6" stroke-width="2" stroke-linejoin="round"/>
<polyline points="67.3,373.4 67.9,373.4 68.5,373.4 69.1,373.4 69.7,373.4 70.3,373.4 70.9,373.4 71.5,373.4 72.1,373.4 72.7,373.4 73.3,373.4 73.9,373.4 74.5,373.4 75.1,373.4 75.7,373.4 76.3,373.4 76.9,373.4 77.5,373.4 78.1,373.4 78.7,373.4 79.3,373.4 79.9,373.4 80.5,373.4 81.1,373.4 81.7,373.4 82.3,373.4 82.9,373.4 83.5,373.4 84.1,373.4 84.7,373.4 85.3,373.4 85.9,373.4 86.5,373.4 87.1,373.4 87.7,373.3 88.3,373.3 88.9,373.3 89.5,373.3 90.1,373.3 90.7,373.3 91.3,373.3 91.9,373.3 92.5,373.3 93.1,373.3 93.7,373.3 94.3,373.3 94.9,373.3 95.5,373.3 96.1,373.3 96.7,373.3 97.3,373.3 97.9,373.3 98.5,373.3 99.1,373.3 99.7,373.3 100.3,373.3 100.9,373.3 101.5,373.3 102.1,373.3 102.7,373.2 103.3,373.2 103.9,373.2 104.5,373.2 105.1,373.2 105.7,373.2 106.3,373.2 106.9,373.2 107.5,373.2 108.1,373.2 108.7,373.2 109.3,373.2 109.9,373.2 110.5,373.2 111.1,373.2 111.7,373.2 112.2,373.1 112.8,373.1 113.4,373.1 114.0,373.1 114.6,373.1 115.2,373.1 115.8,373.1 116.4,373.1 117.0,373.1 117.6,373.1 118.2,373.1 118.8,373.0 119.4,373.0 120.0,373.0 120.6,373.0 121.2,373.0 121.8,373.0 122.4,373.0 123.0,373.0 123.6,373.0 124.2,372.9 124.8,372.9 125.4,372.9 126.0,372.9 126.6,372.9 127.2,372.9 127.8,372.9 128.4,372.8 129.0,372.8 129.6,372.8 130.2,372.8 130.8,372.8 131.4,372.8 132.0,372.7 132.6,372.7 133.2,372.7 133.8,372.7 134.4,372.7 135.0,372.6 135.6,372.6 136.2,372.6 136.8,372.6 137.4,372.5 138.0,372.5 138.6,372.5 139.2,372.5 139.8,372.4 140.4,372.4 141.0,372.4 141.6,372.3 142.2,372.3 142.8,372.2 143.4,372.2 144.0,372.2 144.6,372.1 145.2,372.1 145.8,372.0 146.4,371.9 147.0,371.9 147.6,371.8 148.2,371.7 148.8,371.6 149.4,371.6 150.0,371.5 150.6,371.3 151.2,371.2 151.8,371.1 152.4,370.9 153.0,370.8 153.6,370.6 154.2,370.4 154.8,370.2 155.4,369.9 156.0,369.7 156.6,369.4 157.2,369.0 157.8,368.7 158.4,368.3 159.0,367.8 159.6,367.3 160.2,366.8 160.8,366.2 161.4,365.6 162.0,364.9 162.6,364.2 163.2,363.4 163.8,362.5 164.4,361.6 165.0,360.6 165.6,359.5 166.2,358.4 166.8,357.2 167.4,355.9 168.0,354.6 168.6,353.2 169.2,351.7 169.8,350.2 170.4,348.7 171.0,347.1 171.6,345.4 172.2,343.7 172.8,342.0 173.4,340.3 174.0,338.6 174.6,336.9 175.2,335.2 175.8,333.5 176.4,331.9 177.0,330.3 177.6,328.8 178.2,327.5 178.8,326.2 179.4,325.0 180.0,324.0 180.6,323.1 181.2,322.4 181.8,321.9 182.4,321.6 183.0,321.4 183.6,321.5 184.2,321.7 184.8,322.2 185.4,322.8 186.0,323.7 186.6,324.7 187.2,325.8 187.8,327.1 188.4,328.5 189.0,330.0 189.6,331.5 190.2,333.2 190.8,334.8 191.4,336.5 192.0,338.3 192.6,340.0 193.2,341.7 193.8,343.4 194.4,345.1 195.0,346.7 195.6,348.2 196.2,349.8 196.8,351.2 197.4,352.6 198.0,354.0 198.6,355.2 199.2,356.4 199.8,357.6 200.4,358.6 201.0,359.6 201.6,360.5 202.2,361.4 202.7,362.2 203.3,362.9 203.9,363.6 204.5,364.2 205.1,364.8 205.7,365.3 206.3,365.8 206.9,366.3 207.5,366.6 208.1,367.0 208.7,367.3 209.3,367.6 209.9,367.9 210.5,368.1 211.1,368.3 211.7,368.5 212.3,368.7 212.9,368.8 213.5,369.0 214.1,369.1 214.7,369.2 215.3,369.3 215.9,369.4 216.5,369.5 217.1,369.6 217.7,369.6 218.3,369.7 218.9,369.8 219.5,369.8 220.1,369.9 220.7,369.9 221.3,370.0 221.9,370.0 222.5,370.0 223.1,370.1 223.7,370.1 224.3,370.1 224.9,370.2 225.5,370.2 226.1,370.2 226.7,370.2 227.3,370.3 227.9,370.3 228.5,370.3 229.1,370.3 229.7,370.3 230.3,370.3 230.9,370.3 231.5,370.3 232.1,370.3 232.7,370.3 233.3,370.4 233.9,370.4 234.5,370.4 235.1,370.4 235.7,370.4 236.3,370.4 236.9,370.4 237.5,370.4 238.1,370.4 238.7,370.4 239.3,370.4 239.9,370.4 240.5,370.4 241.1,370.4 241.7,370.4 242.3,370.4 242.9,370.4 243.5,370.4 244.1,370.4 244.7,370.4 245.3,370.4 245.9,370.4 246.5,370.4 247.1,370.4" fill="none" stroke="#2a9a8c" stroke-width="2" stroke-linejoin="round"/>
<polyline points="67.3,373.5 67.9,373.5 68.5,373.4 69.1,373.4 69.7,373.4 70.3,373.4 70.9,373.4 71.5,373.4 72.1,373.4 72.7,373.4 73.3,373.4 73.9,373.4 74.5,373.4 75.1,373.4 75.7,373.4 76.3,373.4 76.9,373.4 77.5,373.4 78.1,373.4 78.7,373.4 79.3,373.4 79.9,373.4 80.5,373.4 81.1,373.4 81.7,373.4 82.3,373.4 82.9,373.4 83.5,373.4 84.1,373.4 84.7,373.4 85.3,373.4 85.9,373.4 86.5,373.4 87.1,373.4 87.7,373.4 88.3,373.4 88.9,373.4 89.5,373.4 90.1,373.4 90.7,373.4 91.3,373.4 91.9,373.4 92.5,373.4 93.1,373.4 93.7,373.4 94.3,373.3 94.9,373.3 95.5,373.3 96.1,373.3 96.7,373.3 97.3,373.3 97.9,373.3 98.5,373.3 99.1,373.3 99.7,373.3 100.3,373.3 100.9,373.3 101.5,373.3 102.1,373.3 102.7,373.3 103.3,373.3 103.9,373.3 104.5,373.3 105.1,373.3 105.7,373.3 106.3,373.3 106.9,373.3 107.5,373.3 108.1,373.3 108.7,373.2 109.3,373.2 109.9,373.2 110.5,373.2 111.1,373.2 111.7,373.2 112.2,373.2 112.8,373.2 113.4,373.2 114.0,373.2 114.6,373.2 115.2,373.2 115.8,373.2 116.4,373.2 117.0,373.2 117.6,373.1 118.2,373.1 118.8,373.1 119.4,373.1 120.0,373.1 120.6,373.1 121.2,373.1 121.8,373.1 122.4,373.1 123.0,373.1 123.6,373.1 124.2,373.0 124.8,373.0 125.4,373.0 126.0,373.0 126.6,373.0 127.2,373.0 127.8,373.0 128.4,373.0 129.0,373.0 129.6,372.9 130.2,372.9 130.8,372.9 131.4,372.9 132.0,372.9 132.6,372.9 133.2,372.8 133.8,372.8 134.4,372.8 135.0,372.8 135.6,372.8 136.2,372.8 136.8,372.7 137.4,372.7 138.0,372.7 138.6,372.7 139.2,372.6 139.8,372.6 140.4,372.6 141.0,372.6 141.6,372.5 142.2,372.5 142.8,372.5 143.4,372.5 144.0,372.4 144.6,372.4 145.2,372.3 145.8,372.3 146.4,372.3 147.0,372.2 147.6,372.2 148.2,372.1 148.8,372.1 149.4,372.0 150.0,372.0 150.6,371.9 151.2,371.8 151.8,371.7 152.4,371.6 153.0,371.5 153.6,371.4 154.2,371.3 154.8,371.2 155.4,371.0 156.0,370.8 156.6,370.6 157.2,370.4 157.8,370.2 158.4,369.9 159.0,369.6 159.6,369.2 160.2,368.8 160.8,368.4 161.4,367.9 162.0,367.4 162.6,366.8 163.2,366.1 163.8,365.4 164.4,364.6 165.0,363.7 165.6,362.7 166.2,361.6 166.8,360.5 167.4,359.2 168.0,357.9 168.6,356.5 169.2,354.9 169.8,353.3 170.4,351.6 171.0,349.8 171.6,347.9 172.2,345.9 172.8,343.8 173.4,341.7 174.0,339.5 174.6,337.2 175.2,334.9 175.8,332.6 176.4,330.3 177.0,328.0 177.6,325.8 178.2,323.6 178.8,321.5 179.4,319.4 180.0,317.5 180.6,315.7 181.2,314.1 181.8,312.7 182.4,311.5 183.0,310.5 183.6,309.8 184.2,309.3 184.8,309.1 185.4,309.2 186.0,309.5 186.6,310.1 187.2,311.0 187.8,312.0 188.4,313.3 189.0,314.8 189.6,316.5 190.2,318.3 190.8,320.2 191.4,322.2 192.0,324.4 192.6,326.5 193.2,328.7 193.8,331.0 194.4,333.2 195.0,335.4 195.6,337.6 196.2,339.7 196.8,341.8 197.4,343.8 198.0,345.8 198.6,347.6 199.2,349.4 199.8,351.1 200.4,352.7 201.0,354.2 201.6,355.6 202.2,356.9 202.7,358.2 203.3,359.3 203.9,360.4 204.5,361.3 205.1,362.2 205.7,363.0 206.3,363.7 206.9,364.4 207.5,365.0 208.1,365.6 208.7,366.1 209.3,366.5 209.9,366.9 210.5,367.2 211.1,367.6 211.7,367.8 212.3,368.1 212.9,368.3 213.5,368.5 214.1,368.7 214.7,368.8 215.3,369.0 215.9,369.1 216.5,369.2 217.1,369.3 217.7,369.4 218.3,369.5 218.9,369.6 219.5,369.6 220.1,369.7 220.7,369.7 221.3,369.8 221.9,369.8 222.5,369.9 223.1,369.9 223.7,370.0 224.3,370.0 224.9,370.0 225.5,370.1 226.1,370.1 226.7,370.1 227.3,370.1 227.9,370.2 228.5,370.2 229.1,370.2 229.7,370.2 230.3,370.2 230.9,370.2 231.5,370.3 232.1,370.3 232.7,370.3 233.3,370.3 233.9,370.3 234.5,370.3 235.1,370.3 235.7,370.3 236.3,370.3 236.9,370.3 237.5,370.3 238.1,370.3 238.7,370.3 239.3,370.3 239.9,370.3 240.5,370.3 241.1,370.3 241.7,370.4 242.3,370.4 242.9,370.4 243.5,370.4 244.1,370.4 244.7,370.4 245.3,370.4 245.9,370.4 246.5,370.4 247.1,370.4" fill="none" stroke="#18a018" stroke-width="2" stroke-linejoin="round"/>
<polyline points="67.3,373.5 67.9,373.5 68.5,373.5 69.1,373.4 69.7,373.4 70.3,373.4 70.9,373.4 71.5,373.4 72.1,373.4 72.7,373.4 73.3,373.4 73.9,373.4 74.5,373.4 75.1,373.4 75.7,373.4 76.3,373.4 76.9,373.4 77.5,373.4 78.1,373.4 78.7,373.4 79.3,373.4 79.9,373.4 80.5,373.4 81.1,373.4 81.7,373.4 82.3,373.4 82.9,373.4 83.5,373.4 84.1,373.4 84.7,373.4 85.3,373.4 85.9,373.4 86.5,373.4 87.1,373.4 87.7,373.4 88.3,373.4 88.9,373.4 89.5,373.4 90.1,373.4 90.7,373.4 91.3,373.4 91.9,373.4 92.5,373.4 93.1,373.4 93.7,373.4 94.3,373.4 94.9,373.4 95.5,373.3 96.1,373.3 96.7,373.3 97.3,373.3 97.9,373.3 98.5,373.3 99.1,373.3 99.7,373.3 100.3,373.3 100.9,373.3 101.5,373.3 102.1,373.3 102.7,373.3 103.3,373.3 103.9,373.3 104.5,373.3 105.1,373.3 105.7,373.3 106.3,373.3 106.9,373.3 107.5,373.3 108.1,373.3 108.7,373.3 109.3,373.2 109.9,373.2 110.5,373.2 111.1,373.2 111.7,373.2 112.2,373.2 112.8,373.2 113.4,373.2 114.0,373.2 114.6,373.2 115.2,373.2 115.8,373.2 116.4,373.2 117.0,373.2 117.6,373.2 118.2,373.1 118.8,373.1 119.4,373.1 120.0,373.1 120.6,373.1 121.2,373.1 121.8,373.1 122.4,373.1 123.0,373.1 123.6,373.1 124.2,373.1 124.8,373.0 125.4,373.0 126.0,373.0 126.6,373.0 127.2,373.0 127.8,373.0 128.4,373.0 129.0,373.0 129.6,373.0 130.2,372.9 130.8,372.9 131.4,372.9 132.0,372.9 132.6,372.9 133.2,372.9 133.8,372.8 134.4,372.8 135.0,372.8 135.6,372.8 136.2,372.8 136.8,372.8 137.4,372.7 138.0,372.7 138.6,372.7 139.2,372.7 139.8,372.6 140.4,372.6 141.0,372.6 141.6,372.6 142.2,372.5 142.8,372.5 143.4,372.5 144.0,372.4 144.6,372.4 145.2,372.4 145.8,372.3 146.4,372.3 147.0,372.3 147.6,372.2 148.2,372.2 148.8,372.1 149.4,372.1 150.0,372.0 150.6,371.9 151.2,371.9 151.8,371.8 152.4,371.7 153.0,371.6 153.6,371.5 154.2,371.4 154.8,371.3 155.4,371.1 156.0,370.9 156.6,370.7 157.2,370.5 157.8,370.3 158.4,370.0 159.0,369.7 159.6,369.3 160.2,368.9 160.8,368.4 161.4,367.9 162.0,367.3 162.6,366.7 163.2,365.9 163.8,365.1 164.4,364.1 165.0,363.1 165.6,361.9 166.2,360.7 166.8,359.3 167.4,357.8 168.0,356.1 168.6,354.3 169.2,352.4 169.8,350.3 170.4,348.1 171.0,345.7 171.6,343.2 172.2,340.6 172.8,337.8 173.4,334.9 174.0,332.0 174.6,328.9 175.2,325.8 175.8,322.6 176.4,319.4 177.0,316.2 177.6,313.0 178.2,309.8 178.8,306.8 179.4,303.8 180.0,301.0 180.6,298.4 181.2,296.0 181.8,293.9 182.4,292.0 183.0,290.4 183.6,289.2 184.2,288.3 184.8,287.8 185.4,287.7 186.0,287.9 186.6,288.5 187.2,289.4 187.8,290.6 188.4,292.1 189.0,294.0 189.6,296.0 190.2,298.3 190.8,300.8 191.4,303.4 192.0,306.2 192.6,309.1 193.2,312.0 193.8,315.0 194.4,318.0 195.0,321.1 195.6,324.0 196.2,327.0 196.8,329.9 197.4,332.7 198.0,335.4 198.6,338.1 199.2,340.6 199.8,343.0 200.4,345.2 201.0,347.4 201.6,349.4 202.2,351.3 202.7,353.1 203.3,354.7 203.9,356.2 204.5,357.6 205.1,358.9 205.7,360.1 206.3,361.1 206.9,362.1 207.5,363.0 208.1,363.8 208.7,364.5 209.3,365.1 209.9,365.7 210.5,366.2 211.1,366.6 211.7,367.0 212.3,367.3 212.9,367.7 213.5,367.9 214.1,368.2 214.7,368.4 215.3,368.6 215.9,368.8 216.5,368.9 217.1,369.0 217.7,369.2 218.3,369.3 218.9,369.4 219.5,369.4 220.1,369.5 220.7,369.6 221.3,369.6 221.9,369.7 222.5,369.8 223.1,369.8 223.7,369.9 224.3,369.9 224.9,369.9 225.5,370.0 226.1,370.0 226.7,370.0 227.3,370.1 227.9,370.1 228.5,370.1 229.1,370.1 229.7,370.1 230.3,370.2 230.9,370.2 231.5,370.2 232.1,370.2 232.7,370.2 233.3,370.2 233.9,370.2 234.5,370.2 235.1,370.2 235.7,370.2 236.3,370.2 236.9,370.3 237.5,370.3 238.1,370.3 238.7,370.3 239.3,370.3 239.9,370.3 240.5,370.3 241.1,370.3 241.7,370.3 242.3,370.3 242.9,370.3 243.5,370.3 244.1,370.3 244.7,370.3 245.3,370.3 245.9,370.4 246.5,370.4 247.1,370.4" fill="none" stroke="#a8d818" stroke-width="2" stroke-linejoin="round"/>
<polyline points="67.3,373.4 67.9,373.4 68.5,373.4 69.1,373.4 69.7,373.4 70.3,373.4 70.9,373.4 71.5,373.4 72.1,373.4 72.7,373.4 73.3,373.4 73.9,373.4 74.5,373.4 75.1,373.4 75.7,373.4 76.3,373.4 76.9,373.4 77.5,373.4 78.1,373.4 78.7,373.4 79.3,373.4 79.9,373.4 80.5,373.4 81.1,373.4 81.7,373.4 82.3,373.4 82.9,373.4 83.5,373.4 84.1,373.4 84.7,373.4 85.3,373.4 85.9,373.4 86.5,373.3 87.1,373.3 87.7,373.3 88.3,373.3 88.9,373.3 89.5,373.3 90.1,373.3 90.7,373.3 91.3,373.3 91.9,373.3 92.5,373.3 93.1,373.3 93.7,373.3 94.3,373.3 94.9,373.3 95.5,373.3 96.1,373.3 96.7,373.3 97.3,373.3 97.9,373.3 98.5,373.3 99.1,373.3 99.7,373.3 100.3,373.3 100.9,373.3 101.5,373.3 102.1,373.2 102.7,373.2 103.3,373.2 103.9,373.2 104.5,373.2 105.1,373.2 105.7,373.2 106.3,373.2 106.9,373.2 107.5,373.2 108.1,373.2 108.7,373.2 109.3,373.2 109.9,373.2 110.5,373.2 111.1,373.2 111.7,373.2 112.2,373.1 112.8,373.1 113.4,373.1 114.0,373.1 114.6,373.1 115.2,373.1 115.8,373.1 116.4,373.1 117.0,373.1 117.6,373.1 118.2,373.1 118.8,373.1 119.4,373.0 120.0,373.0 120.6,373.0 121.2,373.0 121.8,373.0 122.4,373.0 123.0,373.0 123.6,373.0 124.2,373.0 124.8,372.9 125.4,372.9 126.0,372.9 126.6,372.9 127.2,372.9 127.8,372.9 128.4,372.9 129.0,372.8 129.6,372.8 130.2,372.8 130.8,372.8 131.4,372.8 132.0,372.8 132.6,372.7 133.2,372.7 133.8,372.7 134.4,372.7 135.0,372.7 135.6,372.6 136.2,372.6 136.8,372.6 137.4,372.5 138.0,372.5 138.6,372.5 139.2,372.4 139.8,372.4 140.4,372.4 141.0,372.3 141.6,372.3 142.2,372.2 142.8,372.1 143.4,372.1 144.0,372.0 144.6,371.9 145.2,371.8 145.8,371.7 146.4,371.6 147.0,371.4 147.6,371.3 148.2,371.1 148.8,370.9 149.4,370.7 150.0,370.4 150.6,370.2 151.2,369.8 151.8,369.5 152.4,369.1 153.0,368.7 153.6,368.2 154.2,367.6 154.8,367.0 155.4,366.4 156.0,365.6 156.6,364.8 157.2,363.9 157.8,363.0 158.4,361.9 159.0,360.7 159.6,359.4 160.2,358.1 160.8,356.6 161.4,354.9 162.0,353.2 162.6,351.3 163.2,349.3 163.8,347.2 164.4,344.9 165.0,342.4 165.6,339.9 166.2,337.2 166.8,334.3 167.4,331.4 168.0,328.3 168.6,325.0 169.2,321.7 169.8,318.2 170.4,314.7 171.0,311.0 171.6,307.3 172.2,303.5 172.8,299.7 173.4,295.8 174.0,292.0 174.6,288.1 175.2,284.3 175.8,280.5 176.4,276.8 177.0,273.2 177.6,269.7 178.2,266.3 178.8,263.1 179.4,260.1 180.0,257.4 180.6,254.8 181.2,252.5 181.8,250.4 182.4,248.7 183.0,247.3 183.6,246.1 184.2,245.3 184.8,244.9 185.4,244.8 186.0,244.9 186.6,245.4 187.2,246.1 187.8,247.0 188.4,248.2 189.0,249.7 189.6,251.4 190.2,253.3 190.8,255.4 191.4,257.7 192.0,260.1 192.6,262.8 193.2,265.5 193.8,268.4 194.4,271.5 195.0,274.6 195.6,277.8 196.2,281.0 196.8,284.3 197.4,287.6 198.0,291.0 198.6,294.4 199.2,297.7 199.8,301.1 200.4,304.4 201.0,307.7 201.6,310.9 202.2,314.0 202.7,317.1 203.3,320.1 203.9,323.1 204.5,325.9 205.1,328.6 205.7,331.3 206.3,333.8 206.9,336.3 207.5,338.6 208.1,340.8 208.7,342.9 209.3,345.0 209.9,346.8 210.5,348.6 211.1,350.3 211.7,351.9 212.3,353.4 212.9,354.8 213.5,356.1 214.1,357.3 214.7,358.4 215.3,359.4 215.9,360.4 216.5,361.3 217.1,362.1 217.7,362.8 218.3,363.5 218.9,364.2 219.5,364.7 220.1,365.3 220.7,365.7 221.3,366.2 221.9,366.6 222.5,366.9 223.1,367.2 223.7,367.5 224.3,367.8 224.9,368.0 225.5,368.2 226.1,368.4 226.7,368.6 227.3,368.8 227.9,368.9 228.5,369.0 229.1,369.1 229.7,369.2 230.3,369.3 230.9,369.4 231.5,369.5 232.1,369.5 232.7,369.6 233.3,369.6 233.9,369.7 234.5,369.7 235.1,369.8 235.7,369.8 236.3,369.8 236.9,369.9 237.5,369.9 238.1,369.9 238.7,369.9 239.3,369.9 239.9,370.0 240.5,370.0 241.1,370.0 241.7,370.0 242.3,370.0 242.9,370.0 243.5,370.1 244.1,370.1 244.7,370.1 245.3,370.1 245.9,370.1 246.5,370.1 247.1,370.1" fill="none" stroke="#3a0808" stroke-width="2" stroke-linejoin="round"/>
<polyline points="67.3,373.3 67.9,373.3 68.5,373.3 69.1,373.3 69.7,373.3 70.3,373.3 70.9,373.3 71.5,373.3 72.1,373.3 72.7,373.3 73.3,373.3 73.9,373.3 74.5,373.3 75.1,373.3 75.7,373.3 76.3,373.3 76.9,373.3 77.5,373.2 78.1,373.2 78.7,373.2 79.3,373.2 79.9,373.2 80.5,373.2 81.1,373.2 81.7,373.2 82.3,373.2 82.9,373.2 83.5,373.2 84.1,373.2 84.7,373.2 85.3,373.2 85.9,373.2 86.5,373.2 87.1,373.2 87.7,373.2 88.3,373.2 88.9,373.2 89.5,373.2 90.1,373.2 90.7,373.1 91.3,373.1 91.9,373.1 92.5,373.1 93.1,373.1 93.7,373.1 94.3,373.1 94.9,373.1 95.5,373.1 96.1,373.1 96.7,373.1 97.3,373.1 97.9,373.1 98.5,373.1 99.1,373.1 99.7,373.0 100.3,373.0 100.9,373.0 101.5,373.0 102.1,373.0 102.7,373.0 103.3,373.0 103.9,373.0 104.5,373.0 105.1,373.0 105.7,373.0 106.3,373.0 106.9,372.9 107.5,372.9 108.1,372.9 108.7,372.9 109.3,372.9 109.9,372.9 110.5,372.9 111.1,372.9 111.7,372.9 112.2,372.8 112.8,372.8 113.4,372.8 114.0,372.8 114.6,372.8 115.2,372.8 115.8,372.8 116.4,372.7 117.0,372.7 117.6,372.7 118.2,372.7 118.8,372.7 119.4,372.6 120.0,372.6 120.6,372.6 121.2,372.6 121.8,372.5 122.4,372.5 123.0,372.5 123.6,372.5 124.2,372.4 124.8,372.4 125.4,372.3 126.0,372.3 126.6,372.3 127.2,372.2 127.8,372.2 128.4,372.1 129.0,372.0 129.6,372.0 130.2,371.9 130.8,371.8 131.4,371.7 132.0,371.6 132.6,371.5 133.2,371.4 133.8,371.3 134.4,371.1 135.0,371.0 135.6,370.8 136.2,370.7 136.8,370.5 137.4,370.3 138.0,370.0 138.6,369.8 139.2,369.5 139.8,369.3 140.4,369.0 141.0,368.6 141.6,368.3 142.2,367.9 142.8,367.5 143.4,367.0 144.0,366.6 144.6,366.1 145.2,365.5 145.8,364.9 146.4,364.3 147.0,363.7 147.6,363.0 148.2,362.2 148.8,361.4 149.4,360.6 150.0,359.7 150.6,358.7 151.2,357.7 151.8,356.7 152.4,355.6 153.0,354.4 153.6,353.2 154.2,351.9 154.8,350.5 155.4,349.1 156.0,347.6 156.6,346.1 157.2,344.5 157.8,342.9 158.4,341.1 159.0,339.4 159.6,337.5 160.2,335.6 160.8,333.7 161.4,331.7 162.0,329.6 162.6,327.5 163.2,325.4 163.8,323.2 164.4,320.9 165.0,318.7 165.6,316.4 166.2,314.0 166.8,311.7 167.4,309.3 168.0,307.0 168.6,304.6 169.2,302.2 169.8,299.8 170.4,297.5 171.0,295.1 171.6,292.8 172.2,290.6 172.8,288.3 173.4,286.2 174.0,284.0 174.6,282.0 175.2,280.0 175.8,278.1 176.4,276.3 177.0,274.5 177.6,272.9 178.2,271.4 178.8,270.0 179.4,268.7 180.0,267.5 180.6,266.5 181.2,265.6 181.8,264.8 182.4,264.2 183.0,263.7 183.6,263.4 184.2,263.2 184.8,263.2 185.4,263.4 186.0,263.9 186.6,264.7 187.2,265.7 187.8,267.0 188.4,268.5 189.0,270.2 189.6,272.2 190.2,274.3 190.8,276.6 191.4,279.1 192.0,281.7 192.6,284.5 193.2,287.3 193.8,290.3 194.4,293.3 195.0,296.4 195.6,299.5 196.2,302.6 196.8,305.7 197.4,308.9 198.0,312.0 198.6,315.0 199.2,318.0 199.8,321.0 200.4,323.9 201.0,326.7 201.6,329.5 202.2,332.1 202.7,334.7 203.3,337.1 203.9,339.5 204.5,341.7 205.1,343.9 205.7,345.9 206.3,347.8 206.9,349.6 207.5,351.3 208.1,352.9 208.7,354.4 209.3,355.8 209.9,357.1 210.5,358.3 211.1,359.4 211.7,360.5 212.3,361.4 212.9,362.3 213.5,363.1 214.1,363.8 214.7,364.4 215.3,365.0 215.9,365.6 216.5,366.1 217.1,366.5 217.7,366.9 218.3,367.3 218.9,367.6 219.5,367.9 220.1,368.2 220.7,368.4 221.3,368.6 221.9,368.8 222.5,369.0 223.1,369.1 223.7,369.2 224.3,369.4 224.9,369.5 225.5,369.5 226.1,369.6 226.7,369.7 227.3,369.8 227.9,369.8 228.5,369.9 229.1,369.9 229.7,370.0 230.3,370.0 230.9,370.0 231.5,370.1 232.1,370.1 232.7,370.1 233.3,370.1 233.9,370.1 234.5,370.2 235.1,370.2 235.7,370.2 236.3,370.2 236.9,370.2 237.5,370.2 238.1,370.2 238.7,370.2 239.3,370.3 239.9,370.3 240.5,370.3 241.1,370.3 241.7,370.3 242.3,370.3 242.9,370.3 243.5,370.3 244.1,370.3 244.7,370.3 245.3,370.3 245.9,370.4 246.5,370.4 247.1,370.4" fill="none" stroke="#ff5a14" stroke-width="2" stroke-linejoin="round"/>
<text x="88.8" y="264.7" font-size="10" font-family="Liberation Sans, sans-serif" fill="#222" stroke="#222" stroke-width="0.2" textLength="59" lengthAdjust="spacingAndGlyphs">500 ng mL<tspan dy="-4" font-size="7">−1</tspan></text>
<text x="88.8" y="275.4" font-size="10" font-family="Liberation Sans, sans-serif" fill="#222" stroke="#222" stroke-width="0.2" textLength="53.5" lengthAdjust="spacingAndGlyphs">50 ng mL<tspan dy="-4" font-size="7">−1</tspan></text>
<text x="88.8" y="286.0" font-size="10" font-family="Liberation Sans, sans-serif" fill="#222" stroke="#222" stroke-width="0.2" textLength="48" lengthAdjust="spacingAndGlyphs">5 ng mL<tspan dy="-4" font-size="7">−1</tspan></text>
<text x="88.8" y="299.1" font-size="10" font-family="Liberation Sans, sans-serif" fill="#222" stroke="#222" stroke-width="0.2" textLength="59" lengthAdjust="spacingAndGlyphs">500 pg mL<tspan dy="-4" font-size="7">−1</tspan></text>
<text x="88.8" y="309.7" font-size="10" font-family="Liberation Sans, sans-serif" fill="#222" stroke="#222" stroke-width="0.2" textLength="53.5" lengthAdjust="spacingAndGlyphs">50 pg mL<tspan dy="-4" font-size="7">−1</tspan></text>
<text x="88.8" y="320.0" font-size="10" font-family="Liberation Sans, sans-serif" fill="#222" stroke="#222" stroke-width="0.2" textLength="48" lengthAdjust="spacingAndGlyphs">5 pg mL<tspan dy="-4" font-size="7">−1</tspan></text>
<text x="88.8" y="333.1" font-size="10" font-family="Liberation Sans, sans-serif" fill="#222" stroke="#222" stroke-width="0.2" textLength="56" lengthAdjust="spacingAndGlyphs">500 fg mL<tspan dy="-4" font-size="7">−1</tspan></text>
<text x="88.8" y="343.6" font-size="10" font-family="Liberation Sans, sans-serif" fill="#222" stroke="#222" stroke-width="0.2" textLength="50.5" lengthAdjust="spacingAndGlyphs">50 fg mL<tspan dy="-4" font-size="7">−1</tspan></text>
<text x="88.8" y="355.5" font-size="10" font-family="Liberation Sans, sans-serif" fill="#222" stroke="#222" stroke-width="0.2" textLength="5.6" lengthAdjust="spacingAndGlyphs">0</text>
<line x1="77.3" y1="255" x2="77.3" y2="345.3" stroke="#000" stroke-width="2"/>
<path d="M73.7,340.3 L77.3,353.3 L80.89999999999999,340.3 L77.3,344.3 Z" fill="#000"/>
<text transform="translate(12.5,310.4) rotate(-90)" font-size="14.5" text-anchor="middle" font-family="Liberation Sans, sans-serif" fill="#111" stroke="#111" stroke-width="0.22" textLength="38" lengthAdjust="spacingAndGlyphs"><tspan font-style="italic">i</tspan> (µA)</text>
<text x="105.3" y="426.0" font-size="15.5" font-family="Liberation Sans, sans-serif" fill="#111" stroke="#111" stroke-width="0.22" textLength="95.5" lengthAdjust="spacingAndGlyphs"><tspan font-style="italic">E</tspan> (V) vs. SCE</text>
<rect x="320.6" y="25.6" width="213.89999999999998" height="153.6" fill="none" stroke="#000" stroke-width="1.9"/>
<line x1="320.6" y1="179.2" x2="324.8" y2="179.2" stroke="#000" stroke-width="1.6"/>
<text x="315.0" y="184.4" font-size="14.6" text-anchor="end" font-family="Liberation Sans, sans-serif" fill="#111" stroke="#111" stroke-width="0.22" textLength="7.6" lengthAdjust="spacingAndGlyphs" >0</text>
<line x1="320.6" y1="140.8" x2="324.8" y2="140.8" stroke="#000" stroke-width="1.6"/>
<text x="315.0" y="146.0" font-size="14.6" text-anchor="end" font-family="Liberation Sans, sans-serif" fill="#111" stroke="#111" stroke-width="0.22" textLength="15.2" lengthAdjust="spacingAndGlyphs" >40</text>
<line x1="320.6" y1="102.4" x2="324.8" y2="102.4" stroke="#000" stroke-width="1.6"/>
<text x="315.0" y="107.6" font-size="14.6" text-anchor="end" font-family="Liberation Sans, sans-serif" fill="#111" stroke="#111" stroke-width="0.22" textLength="15.2" lengthAdjust="spacingAndGlyphs" >80</text>
<line x1="320.6" y1="64.0" x2="324.8" y2="64.0" stroke="#000" stroke-width="1.6"/>
<text x="315.0" y="69.2" font-size="14.6" text-anchor="end" font-family="Liberation Sans, sans-serif" fill="#111" stroke="#111" stroke-width="0.22" textLength="22.799999999999997" lengthAdjust="spacingAndGlyphs" >120</text>
<line x1="320.6" y1="25.6" x2="324.8" y2="25.6" stroke="#000" stroke-width="1.6"/>
<text x="315.0" y="30.8" font-size="14.6" text-anchor="end" font-family="Liberation Sans, sans-serif" fill="#111" stroke="#111" stroke-width="0.22" textLength="22.799999999999997" lengthAdjust="spacingAndGlyphs" >160</text>
<line x1="347.2" y1="179.2" x2="347.2" y2="175.2" stroke="#000" stroke-width="1.6"/>
<text x="337.6" y="195.5" font-size="14" font-family="Liberation Sans, sans-serif" fill="#111" stroke="#111" stroke-width="0.22" textLength="16" lengthAdjust="spacingAndGlyphs">10</text>
<text x="354.0" y="189.5" font-size="9.5" font-family="Liberation Sans, sans-serif" fill="#111" stroke="#111" stroke-width="0.22">−1</text>
<line x1="400.6" y1="179.2" x2="400.6" y2="175.2" stroke="#000" stroke-width="1.6"/>
<text x="391.0" y="195.5" font-size="14" font-family="Liberation Sans, sans-serif" fill="#111" stroke="#111" stroke-width="0.22" textLength="16" lengthAdjust="spacingAndGlyphs">10</text>
<text x="407.4" y="189.5" font-size="9.5" font-family="Liberation Sans, sans-serif" fill="#111" stroke="#111" stroke-width="0.22">1</text>
<line x1="454.0" y1="179.2" x2="454.0" y2="175.2" stroke="#000" stroke-width="1.6"/>
<text x="444.4" y="195.5" font-size="14" font-family="Liberation Sans, sans-serif" fill="#111" stroke="#111" stroke-width="0.22" textLength="16" lengthAdjust="spacingAndGlyphs">10</text>
<text x="460.8" y="189.5" font-size="9.5" font-family="Liberation Sans, sans-serif" fill="#111" stroke="#111" stroke-width="0.22">3</text>
<line x1="507.4" y1="179.2" x2="507.4" y2="175.2" stroke="#000" stroke-width="1.6"/>
<text x="497.8" y="195.5" font-size="14" font-family="Liberation Sans, sans-serif" fill="#111" stroke="#111" stroke-width="0.22" textLength="16" lengthAdjust="spacingAndGlyphs">10</text>
<text x="514.2" y="189.5" font-size="9.5" font-family="Liberation Sans, sans-serif" fill="#111" stroke="#111" stroke-width="0.22">5</text>
<line x1="332.5" y1="171.3" x2="522.5" y2="38.6" stroke="#000" stroke-width="2"/>
<circle cx="334.9" cy="167.2" r="3.2" fill="#000"/>
<circle cx="361.8" cy="149.6" r="3.2" fill="#000"/>
<circle cx="388.5" cy="135.8" r="3.2" fill="#000"/>
<circle cx="415.3" cy="112.3" r="3.2" fill="#000"/>
<circle cx="442.0" cy="98.4" r="3.2" fill="#000"/>
<circle cx="468.5" cy="79.2" r="3.2" fill="#000"/>
<circle cx="495.3" cy="59.7" r="3.2" fill="#000"/>
<path d="M495.3,55.900000000000006 V63.5 M492.3,55.900000000000006 H498.3 M492.3,63.5 H498.3" stroke="#000" stroke-width="1.4" fill="none"/>
<circle cx="522.1" cy="33.5" r="3.2" fill="#000"/>
<text x="455.7" y="108.4" font-size="10.2" font-family="Liberation Sans, sans-serif" fill="#222" stroke="#222" stroke-width="0.2" textLength="77" lengthAdjust="spacingAndGlyphs"><tspan font-style="italic">y</tspan>=19.5lg<tspan font-style="italic">x</tspan>+38.0</text>
<text x="467.7" y="121.2" font-size="10.2" font-family="Liberation Sans, sans-serif" fill="#222" stroke="#222" stroke-width="0.2" textLength="49.3" lengthAdjust="spacingAndGlyphs"><tspan font-style="italic">r</tspan><tspan dy="-4" font-size="7">2</tspan><tspan dy="4">=0.9948</tspan></text>
<text transform="translate(285.0,101.3) rotate(-90)" font-size="14.5" text-anchor="middle" font-family="Liberation Sans, sans-serif" fill="#111" stroke="#111" stroke-width="0.22" textLength="43" lengthAdjust="spacingAndGlyphs"><tspan font-style="italic">i</tspan><tspan dy="3" font-size="9">p</tspan><tspan dy="-3"> (µA)</tspan></text>
<text x="368.2" y="217.0" font-size="14.5" font-family="Liberation Sans, sans-serif" fill="#111" stroke="#111" stroke-width="0.22" textLength="116.4" lengthAdjust="spacingAndGlyphs">lg(<tspan font-style="italic">c</tspan><tspan dy="3" font-size="9">cTnI</tspan><tspan dy="-3">) (pg mL</tspan><tspan dy="-5" font-size="9">−1</tspan><tspan dy="5">)</tspan></text>
<rect x="321.0" y="237.0" width="213.60000000000002" height="152.60000000000002" fill="none" stroke="#000" stroke-width="1.9"/>
<line x1="321.0" y1="389.6" x2="325.2" y2="389.6" stroke="#000" stroke-width="1.6"/>
<text x="315.0" y="394.8" font-size="14.6" text-anchor="end" font-family="Liberation Sans, sans-serif" fill="#111" stroke="#111" stroke-width="0.22" textLength="7.6" lengthAdjust="spacingAndGlyphs" >0</text>
<line x1="321.0" y1="338.7" x2="325.2" y2="338.7" stroke="#000" stroke-width="1.6"/>
<text x="315.0" y="343.9" font-size="14.6" text-anchor="end" font-family="Liberation Sans, sans-serif" fill="#111" stroke="#111" stroke-width="0.22" textLength="15.2" lengthAdjust="spacingAndGlyphs" >60</text>
<line x1="321.0" y1="287.9" x2="325.2" y2="287.9" stroke="#000" stroke-width="1.6"/>
<text x="315.0" y="293.1" font-size="14.6" text-anchor="end" font-family="Liberation Sans, sans-serif" fill="#111" stroke="#111" stroke-width="0.22" textLength="22.799999999999997" lengthAdjust="spacingAndGlyphs" >120</text>
<line x1="321.0" y1="237.0" x2="325.2" y2="237.0" stroke="#000" stroke-width="1.6"/>
<text x="315.0" y="242.2" font-size="14.6" text-anchor="end" font-family="Liberation Sans, sans-serif" fill="#111" stroke="#111" stroke-width="0.22" textLength="22.799999999999997" lengthAdjust="spacingAndGlyphs" >180</text>
<line x1="344.6" y1="389.6" x2="344.6" y2="385.6" stroke="#000" stroke-width="1.6"/>
<text x="335.0" y="405.9" font-size="14" font-family="Liberation Sans, sans-serif" fill="#111" stroke="#111" stroke-width="0.22" textLength="16" lengthAdjust="spacingAndGlyphs">10</text>
<text x="351.4" y="399.9" font-size="9.5" font-family="Liberation Sans, sans-serif" fill="#111" stroke="#111" stroke-width="0.22">−1</text>
<line x1="394.2" y1="389.6" x2="394.2" y2="385.6" stroke="#000" stroke-width="1.6"/>
<text x="384.6" y="405.9" font-size="14" font-family="Liberation Sans, sans-serif" fill="#111" stroke="#111" stroke-width="0.22" textLength="16" lengthAdjust="spacingAndGlyphs">10</text>
<text x="401.0" y="399.9" font-size="9.5" font-family="Liberation Sans, sans-serif" fill="#111" stroke="#111" stroke-width="0.22">1</text>
<line x1="443.7" y1="389.6" x2="443.7" y2="385.6" stroke="#000" stroke-width="1.6"/>
<text x="434.1" y="405.9" font-size="14" font-family="Liberation Sans, sans-serif" fill="#111" stroke="#111" stroke-width="0.22" textLength="16" lengthAdjust="spacingAndGlyphs">10</text>
<text x="450.5" y="399.9" font-size="9.5" font-family="Liberation Sans, sans-serif" fill="#111" stroke="#111" stroke-width="0.22">3</text>
<line x1="493.2" y1="389.6" x2="493.2" y2="385.6" stroke="#000" stroke-width="1.6"/>
<text x="483.6" y="405.9" font-size="14" font-family="Liberation Sans, sans-serif" fill="#111" stroke="#111" stroke-width="0.22" textLength="16" lengthAdjust="spacingAndGlyphs">10</text>
<text x="500.0" y="399.9" font-size="9.5" font-family="Liberation Sans, sans-serif" fill="#111" stroke="#111" stroke-width="0.22">5</text>
<line x1="337.2" y1="380.4" x2="510.5" y2="254.0" stroke="#000" stroke-width="2"/>
<rect x="334.0" y="373.4" width="6" height="6" fill="#000"/>
<circle cx="362.4" cy="359.8" r="3.2" fill="#000"/>
<circle cx="386.8" cy="347.3" r="3.2" fill="#000"/>
<rect x="407.9" y="324.2" width="6" height="6" fill="#000"/>
<rect x="432.7" y="310.3" width="6" height="6" fill="#000"/>
<circle cx="460.5" cy="295.5" r="3.2" fill="#000"/>
<path d="M460.5,290.5 V300.5 M457.5,290.5 H463.5 M457.5,300.5 H463.5" stroke="#000" stroke-width="1.4" fill="none"/>
<circle cx="485.0" cy="269.7" r="3.2" fill="#000"/>
<circle cx="509.9" cy="247.9" r="3.2" fill="#000"/>
<text x="445.1" y="323.2" font-size="10.2" font-family="Liberation Sans, sans-serif" fill="#222" stroke="#222" stroke-width="0.2" textLength="77.5" lengthAdjust="spacingAndGlyphs"><tspan font-style="italic">y</tspan>=21.1lg<tspan font-style="italic">x</tspan>+39.1</text>
<text x="460.4" y="336.3" font-size="10.2" font-family="Liberation Sans, sans-serif" fill="#222" stroke="#222" stroke-width="0.2" textLength="48.6" lengthAdjust="spacingAndGlyphs"><tspan font-style="italic">r</tspan><tspan dy="-4" font-size="7">2</tspan><tspan dy="4">=0.9910</tspan></text>
<text transform="translate(285.5,313.7) rotate(-90)" font-size="14.5" text-anchor="middle" font-family="Liberation Sans, sans-serif" fill="#111" stroke="#111" stroke-width="0.22" textLength="43" lengthAdjust="spacingAndGlyphs"><tspan font-style="italic">i</tspan><tspan dy="3" font-size="9">p</tspan><tspan dy="-3"> (µA)</tspan></text>
<text x="378.9" y="425.1" font-size="14.5" font-family="Liberation Sans, sans-serif" fill="#111" stroke="#111" stroke-width="0.22" textLength="115.3" lengthAdjust="spacingAndGlyphs">lg(<tspan font-style="italic">c</tspan><tspan dy="3" font-size="9">IgG</tspan><tspan dy="-3">) (pg mL</tspan><tspan dy="-5" font-size="9">−1</tspan><tspan dy="5">)</tspan></text>
<text x="-1.5" y="25" font-size="32.5" font-family="Liberation Sans, sans-serif" fill="#111" textLength="41" lengthAdjust="spacing">(a)</text>
<text x="3.5" y="444.6" font-size="32.5" font-family="Liberation Sans, sans-serif" fill="#111" textLength="41.5" lengthAdjust="spacing">(b)</text>
</svg>
</body></html>
